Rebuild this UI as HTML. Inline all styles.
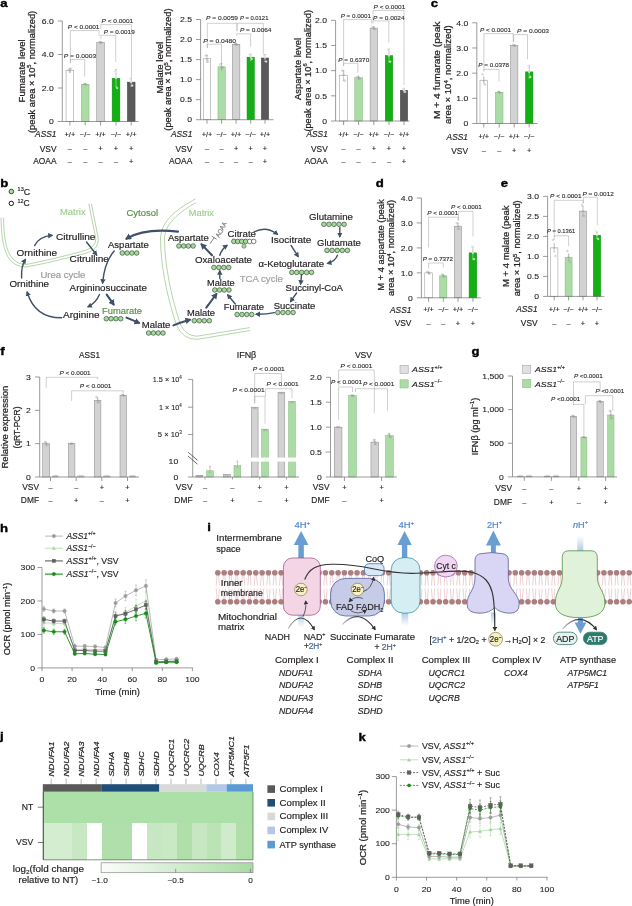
<!DOCTYPE html>
<html><head><meta charset="utf-8"><title>Figure</title>
<style>html,body{margin:0;padding:0;background:#fff;} svg{display:block;}</style>
</head><body>
<svg width="632" height="906" viewBox="0 0 632 906" font-family="'Liberation Sans', 'DejaVu Sans', sans-serif" fill="#231f20">
<rect width="632" height="906" fill="#fff"/>
<text x="0.3" y="6.7" font-size="10.8" fill="#000" font-weight="bold" textLength="7.33" lengthAdjust="spacingAndGlyphs" stroke="#000" stroke-width="0.35">a</text>
<line x1="62.3" y1="21.0" x2="62.3" y2="121.5" stroke="#707070" stroke-width="0.7" />
<line x1="57.7" y1="121.5" x2="62.3" y2="121.5" stroke="#707070" stroke-width="0.7" />
<text x="53.7" y="124.2" font-size="7.5" text-anchor="end" fill="#222" stroke="#222" stroke-width="0.083" textLength="4.8" lengthAdjust="spacingAndGlyphs">0</text>
<line x1="57.7" y1="88.0" x2="62.3" y2="88.0" stroke="#707070" stroke-width="0.7" />
<text x="53.7" y="90.7" font-size="7.5" text-anchor="end" fill="#222" stroke="#222" stroke-width="0.083" textLength="11.99" lengthAdjust="spacingAndGlyphs">2.0</text>
<line x1="57.7" y1="54.5" x2="62.3" y2="54.5" stroke="#707070" stroke-width="0.7" />
<text x="53.7" y="57.2" font-size="7.5" text-anchor="end" fill="#222" stroke="#222" stroke-width="0.083" textLength="11.99" lengthAdjust="spacingAndGlyphs">4.0</text>
<line x1="57.7" y1="21.0" x2="62.3" y2="21.0" stroke="#707070" stroke-width="0.7" />
<text x="53.7" y="23.7" font-size="7.5" text-anchor="end" fill="#222" stroke="#222" stroke-width="0.083" textLength="11.99" lengthAdjust="spacingAndGlyphs">6.0</text>
<rect x="66.05" y="70.41" width="7.7" height="51.09" fill="#ffffff" stroke="#8f8f8f" stroke-width="0.5" />
<line x1="69.9" y1="70.41" x2="69.9" y2="68.4" stroke="#888" stroke-width="0.5" />
<line x1="69.1" y1="68.4" x2="70.7" y2="68.4" stroke="#888" stroke-width="0.5" />
<line x1="69.9" y1="70.41" x2="69.9" y2="72.42" stroke="#999" stroke-width="0.5" />
<line x1="69.1" y1="72.42" x2="70.7" y2="72.42" stroke="#999" stroke-width="0.5" />
<circle cx="68.7" cy="69.57" r="0.85" fill="none" stroke="#999" stroke-width="0.4" />
<circle cx="69.9" cy="71.25" r="0.85" fill="none" stroke="#999" stroke-width="0.4" />
<circle cx="71.1" cy="68.74" r="0.85" fill="none" stroke="#999" stroke-width="0.4" />
<rect x="81.35" y="84.31" width="7.7" height="37.19" fill="#acdca6" stroke="#7fb878" stroke-width="0.5" />
<line x1="85.2" y1="84.31" x2="85.2" y2="83.81" stroke="#888" stroke-width="0.5" />
<line x1="84.4" y1="83.81" x2="86.0" y2="83.81" stroke="#888" stroke-width="0.5" />
<line x1="85.2" y1="84.31" x2="85.2" y2="84.82" stroke="#999" stroke-width="0.5" />
<line x1="84.4" y1="84.82" x2="86.0" y2="84.82" stroke="#999" stroke-width="0.5" />
<circle cx="84.0" cy="84.31" r="0.85" fill="none" stroke="#999" stroke-width="0.4" />
<circle cx="85.2" cy="83.98" r="0.85" fill="none" stroke="#999" stroke-width="0.4" />
<circle cx="86.4" cy="84.65" r="0.85" fill="none" stroke="#999" stroke-width="0.4" />
<rect x="96.75" y="42.44" width="7.7" height="79.06" fill="#d2d2d2" stroke="#888" stroke-width="0.5" />
<line x1="100.6" y1="42.44" x2="100.6" y2="41.77" stroke="#888" stroke-width="0.5" />
<line x1="99.8" y1="41.77" x2="101.4" y2="41.77" stroke="#888" stroke-width="0.5" />
<line x1="100.6" y1="42.44" x2="100.6" y2="43.11" stroke="#999" stroke-width="0.5" />
<line x1="99.8" y1="43.11" x2="101.4" y2="43.11" stroke="#999" stroke-width="0.5" />
<circle cx="99.4" cy="42.1" r="0.85" fill="none" stroke="#999" stroke-width="0.4" />
<circle cx="100.6" cy="42.77" r="0.85" fill="none" stroke="#999" stroke-width="0.4" />
<circle cx="101.8" cy="42.27" r="0.85" fill="none" stroke="#999" stroke-width="0.4" />
<rect x="112.15" y="78.28" width="7.7" height="43.22" fill="#12b012" stroke="#0c8a0c" stroke-width="0.5" />
<line x1="116.0" y1="78.28" x2="116.0" y2="69.57" stroke="#888" stroke-width="0.5" />
<line x1="115.2" y1="69.57" x2="116.8" y2="69.57" stroke="#888" stroke-width="0.5" />
<line x1="116.0" y1="78.28" x2="116.0" y2="87.0" stroke="#e8e8e8" stroke-width="0.5" />
<line x1="115.2" y1="87.0" x2="116.8" y2="87.0" stroke="#e8e8e8" stroke-width="0.5" />
<circle cx="114.8" cy="71.25" r="0.85" fill="#ddd" stroke="#eee" stroke-width="0.4" />
<circle cx="116.0" cy="77.95" r="0.85" fill="#ddd" stroke="#eee" stroke-width="0.4" />
<circle cx="117.2" cy="88.0" r="0.85" fill="#ddd" stroke="#eee" stroke-width="0.4" />
<rect x="127.35" y="82.14" width="7.7" height="39.36" fill="#5a5a5a" stroke="#444" stroke-width="0.5" />
<line x1="131.2" y1="82.14" x2="131.2" y2="77.95" stroke="#888" stroke-width="0.5" />
<line x1="130.4" y1="77.95" x2="132.0" y2="77.95" stroke="#888" stroke-width="0.5" />
<line x1="131.2" y1="82.14" x2="131.2" y2="86.32" stroke="#e8e8e8" stroke-width="0.5" />
<line x1="130.4" y1="86.32" x2="132.0" y2="86.32" stroke="#e8e8e8" stroke-width="0.5" />
<circle cx="130.0" cy="78.79" r="0.85" fill="#ddd" stroke="#eee" stroke-width="0.4" />
<circle cx="131.2" cy="82.14" r="0.85" fill="#ddd" stroke="#eee" stroke-width="0.4" />
<circle cx="132.4" cy="85.49" r="0.85" fill="#ddd" stroke="#eee" stroke-width="0.4" />
<line x1="62.3" y1="121.5" x2="138.5" y2="121.5" stroke="#707070" stroke-width="0.7" />
<line x1="69.9" y1="121.5" x2="69.9" y2="125.5" stroke="#707070" stroke-width="0.7" />
<line x1="85.2" y1="121.5" x2="85.2" y2="125.5" stroke="#707070" stroke-width="0.7" />
<line x1="100.6" y1="121.5" x2="100.6" y2="125.5" stroke="#707070" stroke-width="0.7" />
<line x1="116.0" y1="121.5" x2="116.0" y2="125.5" stroke="#707070" stroke-width="0.7" />
<line x1="131.2" y1="121.5" x2="131.2" y2="125.5" stroke="#707070" stroke-width="0.7" />
<text x="25.5" y="70.9" font-size="8.4" text-anchor="middle" stroke="#231f20" stroke-width="0.235" textLength="63" lengthAdjust="spacingAndGlyphs" transform="rotate(-90 25.5 70.9)">Fumarate level</text>
<text x="35.0" y="71.9" font-size="8.4" text-anchor="middle" stroke="#231f20" stroke-width="0.235" textLength="122.2" lengthAdjust="spacingAndGlyphs" transform="rotate(-90 35.0 71.9)"><tspan>(peak area × 10</tspan><tspan dy="-3.53" font-size="5.21">5</tspan><tspan dy="3.53">, normalized)</tspan></text>
<path d="M70.4,62.5 V59.4 H84.7 V76.5" fill="none" stroke="#a0a0a0" stroke-width="0.5" />
<text x="63.8" y="57.5" font-size="6.1" fill="#2e2e2e" stroke="#2e2e2e" stroke-width="0.122" textLength="32.3" lengthAdjust="spacingAndGlyphs"><tspan font-style="italic">P</tspan><tspan> = 0.0003</tspan></text>
<path d="M70.4,63.2 V30.6 H99.0 V36.0" fill="none" stroke="#a0a0a0" stroke-width="0.5" />
<text x="67.8" y="28.7" font-size="6.1" fill="#2e2e2e" stroke="#2e2e2e" stroke-width="0.122" textLength="31.7" lengthAdjust="spacingAndGlyphs"><tspan font-style="italic">P</tspan><tspan> &lt; 0.0001</tspan></text>
<path d="M100.8,29.0 V24.6 H131.5 V77.0" fill="none" stroke="#a0a0a0" stroke-width="0.5" />
<text x="101.5" y="22.7" font-size="6.1" fill="#2e2e2e" stroke="#2e2e2e" stroke-width="0.122" textLength="31.7" lengthAdjust="spacingAndGlyphs"><tspan font-style="italic">P</tspan><tspan> &lt; 0.0001</tspan></text>
<path d="M100.8,39.0 V35.3 H115.7 V61.9" fill="none" stroke="#a0a0a0" stroke-width="0.5" />
<text x="103.7" y="33.8" font-size="6.1" fill="#2e2e2e" stroke="#2e2e2e" stroke-width="0.122" textLength="31.0" lengthAdjust="spacingAndGlyphs"><tspan font-style="italic">P</tspan><tspan> = 0.0019</tspan></text>
<text x="56.5" y="136.95" font-size="8.2" text-anchor="end" stroke="#231f20" stroke-width="0.164" font-style="italic" textLength="21.39" lengthAdjust="spacingAndGlyphs">ASS1</text>
<text x="69.9" y="136.74" font-size="7.6" text-anchor="middle" stroke="#231f20" stroke-width="0.152" textLength="10.66" lengthAdjust="spacingAndGlyphs">+/+</text>
<text x="85.2" y="136.74" font-size="7.6" text-anchor="middle" stroke="#231f20" stroke-width="0.152" textLength="10.66" lengthAdjust="spacingAndGlyphs">−/−</text>
<text x="100.6" y="136.74" font-size="7.6" text-anchor="middle" stroke="#231f20" stroke-width="0.152" textLength="10.66" lengthAdjust="spacingAndGlyphs">+/+</text>
<text x="116.0" y="136.74" font-size="7.6" text-anchor="middle" stroke="#231f20" stroke-width="0.152" textLength="10.66" lengthAdjust="spacingAndGlyphs">−/−</text>
<text x="131.2" y="136.74" font-size="7.6" text-anchor="middle" stroke="#231f20" stroke-width="0.152" textLength="10.66" lengthAdjust="spacingAndGlyphs">+/+</text>
<text x="56.5" y="151.55" font-size="8.2" text-anchor="end" stroke="#231f20" stroke-width="0.164" textLength="16.74" lengthAdjust="spacingAndGlyphs">VSV</text>
<text x="69.9" y="151.34" font-size="7.6" text-anchor="middle" stroke="#231f20" stroke-width="0.152" textLength="4.1" lengthAdjust="spacingAndGlyphs">–</text>
<text x="85.2" y="151.34" font-size="7.6" text-anchor="middle" stroke="#231f20" stroke-width="0.152" textLength="4.1" lengthAdjust="spacingAndGlyphs">–</text>
<text x="100.6" y="151.34" font-size="7.6" text-anchor="middle" stroke="#231f20" stroke-width="0.152" textLength="4.31" lengthAdjust="spacingAndGlyphs">+</text>
<text x="116.0" y="151.34" font-size="7.6" text-anchor="middle" stroke="#231f20" stroke-width="0.152" textLength="4.31" lengthAdjust="spacingAndGlyphs">+</text>
<text x="131.2" y="151.34" font-size="7.6" text-anchor="middle" stroke="#231f20" stroke-width="0.152" textLength="4.31" lengthAdjust="spacingAndGlyphs">+</text>
<text x="56.5" y="164.25" font-size="8.2" text-anchor="end" stroke="#231f20" stroke-width="0.164" textLength="23.24" lengthAdjust="spacingAndGlyphs">AOAA</text>
<text x="69.9" y="164.04" font-size="7.6" text-anchor="middle" stroke="#231f20" stroke-width="0.152" textLength="4.1" lengthAdjust="spacingAndGlyphs">–</text>
<text x="85.2" y="164.04" font-size="7.6" text-anchor="middle" stroke="#231f20" stroke-width="0.152" textLength="4.1" lengthAdjust="spacingAndGlyphs">–</text>
<text x="100.6" y="164.04" font-size="7.6" text-anchor="middle" stroke="#231f20" stroke-width="0.152" textLength="4.1" lengthAdjust="spacingAndGlyphs">–</text>
<text x="116.0" y="164.04" font-size="7.6" text-anchor="middle" stroke="#231f20" stroke-width="0.152" textLength="4.1" lengthAdjust="spacingAndGlyphs">–</text>
<text x="131.2" y="164.04" font-size="7.6" text-anchor="middle" stroke="#231f20" stroke-width="0.152" textLength="4.31" lengthAdjust="spacingAndGlyphs">+</text>
<line x1="200.6" y1="19.5" x2="200.6" y2="119.7" stroke="#707070" stroke-width="0.7" />
<line x1="196.0" y1="119.7" x2="200.6" y2="119.7" stroke="#707070" stroke-width="0.7" />
<text x="192.0" y="122.4" font-size="7.5" text-anchor="end" fill="#222" stroke="#222" stroke-width="0.083" textLength="4.8" lengthAdjust="spacingAndGlyphs">0</text>
<line x1="196.0" y1="99.66" x2="200.6" y2="99.66" stroke="#707070" stroke-width="0.7" />
<text x="192.0" y="102.36" font-size="7.5" text-anchor="end" fill="#222" stroke="#222" stroke-width="0.083" textLength="11.99" lengthAdjust="spacingAndGlyphs">0.5</text>
<line x1="196.0" y1="79.62" x2="200.6" y2="79.62" stroke="#707070" stroke-width="0.7" />
<text x="192.0" y="82.32" font-size="7.5" text-anchor="end" fill="#222" stroke="#222" stroke-width="0.083" textLength="11.99" lengthAdjust="spacingAndGlyphs">1.0</text>
<line x1="196.0" y1="59.58" x2="200.6" y2="59.58" stroke="#707070" stroke-width="0.7" />
<text x="192.0" y="62.28" font-size="7.5" text-anchor="end" fill="#222" stroke="#222" stroke-width="0.083" textLength="11.99" lengthAdjust="spacingAndGlyphs">1.5</text>
<line x1="196.0" y1="39.54" x2="200.6" y2="39.54" stroke="#707070" stroke-width="0.7" />
<text x="192.0" y="42.24" font-size="7.5" text-anchor="end" fill="#222" stroke="#222" stroke-width="0.083" textLength="11.99" lengthAdjust="spacingAndGlyphs">2.0</text>
<line x1="196.0" y1="19.5" x2="200.6" y2="19.5" stroke="#707070" stroke-width="0.7" />
<text x="192.0" y="22.2" font-size="7.5" text-anchor="end" fill="#222" stroke="#222" stroke-width="0.083" textLength="11.99" lengthAdjust="spacingAndGlyphs">2.5</text>
<rect x="203.25" y="58.78" width="7.5" height="60.92" fill="#ffffff" stroke="#8f8f8f" stroke-width="0.5" />
<line x1="207.0" y1="58.78" x2="207.0" y2="55.17" stroke="#888" stroke-width="0.5" />
<line x1="206.2" y1="55.17" x2="207.8" y2="55.17" stroke="#888" stroke-width="0.5" />
<line x1="207.0" y1="58.78" x2="207.0" y2="62.39" stroke="#999" stroke-width="0.5" />
<line x1="206.2" y1="62.39" x2="207.8" y2="62.39" stroke="#999" stroke-width="0.5" />
<circle cx="205.8" cy="55.57" r="0.85" fill="none" stroke="#999" stroke-width="0.4" />
<circle cx="207.0" cy="59.58" r="0.85" fill="none" stroke="#999" stroke-width="0.4" />
<circle cx="208.2" cy="61.58" r="0.85" fill="none" stroke="#999" stroke-width="0.4" />
<rect x="217.95" y="66.79" width="7.3" height="52.91" fill="#acdca6" stroke="#7fb878" stroke-width="0.5" />
<line x1="221.6" y1="66.79" x2="221.6" y2="63.59" stroke="#888" stroke-width="0.5" />
<line x1="220.8" y1="63.59" x2="222.4" y2="63.59" stroke="#888" stroke-width="0.5" />
<line x1="221.6" y1="66.79" x2="221.6" y2="70.0" stroke="#999" stroke-width="0.5" />
<line x1="220.8" y1="70.0" x2="222.4" y2="70.0" stroke="#999" stroke-width="0.5" />
<circle cx="220.4" cy="64.39" r="0.85" fill="none" stroke="#999" stroke-width="0.4" />
<circle cx="221.6" cy="67.6" r="0.85" fill="none" stroke="#999" stroke-width="0.4" />
<circle cx="222.8" cy="67.6" r="0.85" fill="none" stroke="#999" stroke-width="0.4" />
<rect x="232.35" y="44.35" width="7.5" height="75.35" fill="#d2d2d2" stroke="#888" stroke-width="0.5" />
<line x1="236.1" y1="44.35" x2="236.1" y2="43.55" stroke="#888" stroke-width="0.5" />
<line x1="235.3" y1="43.55" x2="236.9" y2="43.55" stroke="#888" stroke-width="0.5" />
<line x1="236.1" y1="44.35" x2="236.1" y2="45.15" stroke="#999" stroke-width="0.5" />
<line x1="235.3" y1="45.15" x2="236.9" y2="45.15" stroke="#999" stroke-width="0.5" />
<circle cx="234.9" cy="43.95" r="0.85" fill="none" stroke="#999" stroke-width="0.4" />
<circle cx="236.1" cy="44.35" r="0.85" fill="none" stroke="#999" stroke-width="0.4" />
<circle cx="237.3" cy="44.75" r="0.85" fill="none" stroke="#999" stroke-width="0.4" />
<rect x="247.05" y="57.18" width="7.3" height="62.52" fill="#12b012" stroke="#0c8a0c" stroke-width="0.5" />
<line x1="250.7" y1="57.18" x2="250.7" y2="53.97" stroke="#888" stroke-width="0.5" />
<line x1="249.9" y1="53.97" x2="251.5" y2="53.97" stroke="#888" stroke-width="0.5" />
<line x1="250.7" y1="57.18" x2="250.7" y2="60.38" stroke="#e8e8e8" stroke-width="0.5" />
<line x1="249.9" y1="60.38" x2="251.5" y2="60.38" stroke="#e8e8e8" stroke-width="0.5" />
<circle cx="249.5" cy="54.77" r="0.85" fill="#ddd" stroke="#eee" stroke-width="0.4" />
<circle cx="250.7" cy="56.77" r="0.85" fill="#ddd" stroke="#eee" stroke-width="0.4" />
<circle cx="251.9" cy="58.78" r="0.85" fill="#ddd" stroke="#eee" stroke-width="0.4" />
<rect x="261.35" y="57.98" width="7.3" height="61.72" fill="#5a5a5a" stroke="#444" stroke-width="0.5" />
<line x1="265.0" y1="57.98" x2="265.0" y2="54.37" stroke="#888" stroke-width="0.5" />
<line x1="264.2" y1="54.37" x2="265.8" y2="54.37" stroke="#888" stroke-width="0.5" />
<line x1="265.0" y1="57.98" x2="265.0" y2="61.58" stroke="#e8e8e8" stroke-width="0.5" />
<line x1="264.2" y1="61.58" x2="265.8" y2="61.58" stroke="#e8e8e8" stroke-width="0.5" />
<circle cx="263.8" cy="55.57" r="0.85" fill="#ddd" stroke="#eee" stroke-width="0.4" />
<circle cx="265.0" cy="57.58" r="0.85" fill="#ddd" stroke="#eee" stroke-width="0.4" />
<circle cx="266.2" cy="61.58" r="0.85" fill="#ddd" stroke="#eee" stroke-width="0.4" />
<line x1="200.6" y1="119.7" x2="273.5" y2="119.7" stroke="#707070" stroke-width="0.7" />
<line x1="207.0" y1="119.7" x2="207.0" y2="123.7" stroke="#707070" stroke-width="0.7" />
<line x1="221.6" y1="119.7" x2="221.6" y2="123.7" stroke="#707070" stroke-width="0.7" />
<line x1="236.1" y1="119.7" x2="236.1" y2="123.7" stroke="#707070" stroke-width="0.7" />
<line x1="250.7" y1="119.7" x2="250.7" y2="123.7" stroke="#707070" stroke-width="0.7" />
<line x1="265.0" y1="119.7" x2="265.0" y2="123.7" stroke="#707070" stroke-width="0.7" />
<text x="162.7" y="67.6" font-size="8.4" text-anchor="middle" stroke="#231f20" stroke-width="0.235" textLength="51.8" lengthAdjust="spacingAndGlyphs" transform="rotate(-90 162.7 67.6)">Malate level</text>
<text x="171.5" y="69.6" font-size="8.4" text-anchor="middle" stroke="#231f20" stroke-width="0.235" textLength="122.2" lengthAdjust="spacingAndGlyphs" transform="rotate(-90 171.5 69.6)"><tspan>(peak area × 10</tspan><tspan dy="-3.53" font-size="5.21">5</tspan><tspan dy="3.53">, normalized)</tspan></text>
<path d="M207.3,48.0 V23.3 H237.0 V30.9" fill="none" stroke="#a0a0a0" stroke-width="0.5" />
<text x="206.0" y="19.5" font-size="6.1" fill="#2e2e2e" stroke="#2e2e2e" stroke-width="0.122" textLength="32" lengthAdjust="spacingAndGlyphs"><tspan font-style="italic">P</tspan><tspan> = 0.0059</tspan></text>
<path d="M237.0,30.9 V23.3 H263.3 V54.3" fill="none" stroke="#a0a0a0" stroke-width="0.5" />
<text x="239.9" y="19.5" font-size="6.1" fill="#2e2e2e" stroke="#2e2e2e" stroke-width="0.122" textLength="28.5" lengthAdjust="spacingAndGlyphs"><tspan font-style="italic">P</tspan><tspan> = 0.0121</tspan></text>
<path d="M236.7,36.0 V33.8 H250.6 V46.7" fill="none" stroke="#a0a0a0" stroke-width="0.5" />
<text x="239.9" y="32.2" font-size="6.1" fill="#2e2e2e" stroke="#2e2e2e" stroke-width="0.122" textLength="31.6" lengthAdjust="spacingAndGlyphs"><tspan font-style="italic">P</tspan><tspan> = 0.0064</tspan></text>
<path d="M207.3,48.0 V44.2 H221.5 V63.2" fill="none" stroke="#a0a0a0" stroke-width="0.5" />
<text x="203.2" y="42.7" font-size="6.1" fill="#2e2e2e" stroke="#2e2e2e" stroke-width="0.122" textLength="32.8" lengthAdjust="spacingAndGlyphs"><tspan font-style="italic">P</tspan><tspan> = 0.0480</tspan></text>
<text x="192.3" y="136.95" font-size="8.2" text-anchor="end" stroke="#231f20" stroke-width="0.164" font-style="italic" textLength="21.39" lengthAdjust="spacingAndGlyphs">ASS1</text>
<text x="207.0" y="136.74" font-size="7.6" text-anchor="middle" stroke="#231f20" stroke-width="0.152" textLength="10.66" lengthAdjust="spacingAndGlyphs">+/+</text>
<text x="221.6" y="136.74" font-size="7.6" text-anchor="middle" stroke="#231f20" stroke-width="0.152" textLength="10.66" lengthAdjust="spacingAndGlyphs">−/−</text>
<text x="236.1" y="136.74" font-size="7.6" text-anchor="middle" stroke="#231f20" stroke-width="0.152" textLength="10.66" lengthAdjust="spacingAndGlyphs">+/+</text>
<text x="250.7" y="136.74" font-size="7.6" text-anchor="middle" stroke="#231f20" stroke-width="0.152" textLength="10.66" lengthAdjust="spacingAndGlyphs">−/−</text>
<text x="265.0" y="136.74" font-size="7.6" text-anchor="middle" stroke="#231f20" stroke-width="0.152" textLength="10.66" lengthAdjust="spacingAndGlyphs">+/+</text>
<text x="192.3" y="151.55" font-size="8.2" text-anchor="end" stroke="#231f20" stroke-width="0.164" textLength="16.74" lengthAdjust="spacingAndGlyphs">VSV</text>
<text x="207.0" y="151.34" font-size="7.6" text-anchor="middle" stroke="#231f20" stroke-width="0.152" textLength="4.1" lengthAdjust="spacingAndGlyphs">–</text>
<text x="221.6" y="151.34" font-size="7.6" text-anchor="middle" stroke="#231f20" stroke-width="0.152" textLength="4.1" lengthAdjust="spacingAndGlyphs">–</text>
<text x="236.1" y="151.34" font-size="7.6" text-anchor="middle" stroke="#231f20" stroke-width="0.152" textLength="4.31" lengthAdjust="spacingAndGlyphs">+</text>
<text x="250.7" y="151.34" font-size="7.6" text-anchor="middle" stroke="#231f20" stroke-width="0.152" textLength="4.31" lengthAdjust="spacingAndGlyphs">+</text>
<text x="265.0" y="151.34" font-size="7.6" text-anchor="middle" stroke="#231f20" stroke-width="0.152" textLength="4.31" lengthAdjust="spacingAndGlyphs">+</text>
<text x="192.3" y="164.25" font-size="8.2" text-anchor="end" stroke="#231f20" stroke-width="0.164" textLength="23.24" lengthAdjust="spacingAndGlyphs">AOAA</text>
<text x="207.0" y="164.04" font-size="7.6" text-anchor="middle" stroke="#231f20" stroke-width="0.152" textLength="4.1" lengthAdjust="spacingAndGlyphs">–</text>
<text x="221.6" y="164.04" font-size="7.6" text-anchor="middle" stroke="#231f20" stroke-width="0.152" textLength="4.1" lengthAdjust="spacingAndGlyphs">–</text>
<text x="236.1" y="164.04" font-size="7.6" text-anchor="middle" stroke="#231f20" stroke-width="0.152" textLength="4.1" lengthAdjust="spacingAndGlyphs">–</text>
<text x="250.7" y="164.04" font-size="7.6" text-anchor="middle" stroke="#231f20" stroke-width="0.152" textLength="4.1" lengthAdjust="spacingAndGlyphs">–</text>
<text x="265.0" y="164.04" font-size="7.6" text-anchor="middle" stroke="#231f20" stroke-width="0.152" textLength="4.31" lengthAdjust="spacingAndGlyphs">+</text>
<line x1="335.6" y1="20.3" x2="335.6" y2="121.0" stroke="#707070" stroke-width="0.7" />
<line x1="331.0" y1="121.0" x2="335.6" y2="121.0" stroke="#707070" stroke-width="0.7" />
<text x="327.0" y="123.7" font-size="7.5" text-anchor="end" fill="#222" stroke="#222" stroke-width="0.083" textLength="4.8" lengthAdjust="spacingAndGlyphs">0</text>
<line x1="331.0" y1="95.83" x2="335.6" y2="95.83" stroke="#707070" stroke-width="0.7" />
<text x="327.0" y="98.53" font-size="7.5" text-anchor="end" fill="#222" stroke="#222" stroke-width="0.083" textLength="11.99" lengthAdjust="spacingAndGlyphs">0.5</text>
<line x1="331.0" y1="70.65" x2="335.6" y2="70.65" stroke="#707070" stroke-width="0.7" />
<text x="327.0" y="73.35" font-size="7.5" text-anchor="end" fill="#222" stroke="#222" stroke-width="0.083" textLength="11.99" lengthAdjust="spacingAndGlyphs">1.0</text>
<line x1="331.0" y1="45.47" x2="335.6" y2="45.47" stroke="#707070" stroke-width="0.7" />
<text x="327.0" y="48.17" font-size="7.5" text-anchor="end" fill="#222" stroke="#222" stroke-width="0.083" textLength="11.99" lengthAdjust="spacingAndGlyphs">1.5</text>
<line x1="331.0" y1="20.3" x2="335.6" y2="20.3" stroke="#707070" stroke-width="0.7" />
<text x="327.0" y="23.0" font-size="7.5" text-anchor="end" fill="#222" stroke="#222" stroke-width="0.083" textLength="11.99" lengthAdjust="spacingAndGlyphs">2.0</text>
<rect x="339.6" y="75.69" width="8.0" height="45.31" fill="#ffffff" stroke="#8f8f8f" stroke-width="0.5" />
<line x1="343.6" y1="75.69" x2="343.6" y2="70.65" stroke="#888" stroke-width="0.5" />
<line x1="342.8" y1="70.65" x2="344.4" y2="70.65" stroke="#888" stroke-width="0.5" />
<line x1="343.6" y1="75.69" x2="343.6" y2="80.72" stroke="#999" stroke-width="0.5" />
<line x1="342.8" y1="80.72" x2="344.4" y2="80.72" stroke="#999" stroke-width="0.5" />
<circle cx="342.4" cy="70.65" r="0.85" fill="none" stroke="#999" stroke-width="0.4" />
<circle cx="343.6" cy="74.68" r="0.85" fill="none" stroke="#999" stroke-width="0.4" />
<circle cx="344.8" cy="80.72" r="0.85" fill="none" stroke="#999" stroke-width="0.4" />
<rect x="354.8" y="77.7" width="7.6" height="43.3" fill="#acdca6" stroke="#7fb878" stroke-width="0.5" />
<line x1="358.6" y1="77.7" x2="358.6" y2="76.19" stroke="#888" stroke-width="0.5" />
<line x1="357.8" y1="76.19" x2="359.4" y2="76.19" stroke="#888" stroke-width="0.5" />
<line x1="358.6" y1="77.7" x2="358.6" y2="79.21" stroke="#999" stroke-width="0.5" />
<line x1="357.8" y1="79.21" x2="359.4" y2="79.21" stroke="#999" stroke-width="0.5" />
<circle cx="357.4" cy="76.69" r="0.85" fill="none" stroke="#999" stroke-width="0.4" />
<circle cx="358.6" cy="77.7" r="0.85" fill="none" stroke="#999" stroke-width="0.4" />
<circle cx="359.8" cy="78.71" r="0.85" fill="none" stroke="#999" stroke-width="0.4" />
<rect x="370.1" y="28.1" width="7.4" height="92.9" fill="#d2d2d2" stroke="#888" stroke-width="0.5" />
<line x1="373.8" y1="28.1" x2="373.8" y2="26.59" stroke="#888" stroke-width="0.5" />
<line x1="373.0" y1="26.59" x2="374.6" y2="26.59" stroke="#888" stroke-width="0.5" />
<line x1="373.8" y1="28.1" x2="373.8" y2="29.61" stroke="#999" stroke-width="0.5" />
<line x1="373.0" y1="29.61" x2="374.6" y2="29.61" stroke="#999" stroke-width="0.5" />
<circle cx="372.6" cy="27.35" r="0.85" fill="none" stroke="#999" stroke-width="0.4" />
<circle cx="373.8" cy="28.36" r="0.85" fill="none" stroke="#999" stroke-width="0.4" />
<circle cx="375.0" cy="28.86" r="0.85" fill="none" stroke="#999" stroke-width="0.4" />
<rect x="385.3" y="55.55" width="7.4" height="65.45" fill="#12b012" stroke="#0c8a0c" stroke-width="0.5" />
<line x1="389.0" y1="55.55" x2="389.0" y2="49.0" stroke="#888" stroke-width="0.5" />
<line x1="388.2" y1="49.0" x2="389.8" y2="49.0" stroke="#888" stroke-width="0.5" />
<line x1="389.0" y1="55.55" x2="389.0" y2="62.09" stroke="#e8e8e8" stroke-width="0.5" />
<line x1="388.2" y1="62.09" x2="389.8" y2="62.09" stroke="#e8e8e8" stroke-width="0.5" />
<circle cx="387.8" cy="49.5" r="0.85" fill="#ddd" stroke="#eee" stroke-width="0.4" />
<circle cx="389.0" cy="55.55" r="0.85" fill="#ddd" stroke="#eee" stroke-width="0.4" />
<circle cx="390.2" cy="61.59" r="0.85" fill="#ddd" stroke="#eee" stroke-width="0.4" />
<rect x="400.3" y="90.29" width="7.4" height="30.71" fill="#5a5a5a" stroke="#444" stroke-width="0.5" />
<line x1="404.0" y1="90.29" x2="404.0" y2="88.27" stroke="#888" stroke-width="0.5" />
<line x1="403.2" y1="88.27" x2="404.8" y2="88.27" stroke="#888" stroke-width="0.5" />
<line x1="404.0" y1="90.29" x2="404.0" y2="92.3" stroke="#e8e8e8" stroke-width="0.5" />
<line x1="403.2" y1="92.3" x2="404.8" y2="92.3" stroke="#e8e8e8" stroke-width="0.5" />
<circle cx="402.8" cy="88.78" r="0.85" fill="#ddd" stroke="#eee" stroke-width="0.4" />
<circle cx="404.0" cy="90.29" r="0.85" fill="#ddd" stroke="#eee" stroke-width="0.4" />
<circle cx="405.2" cy="91.8" r="0.85" fill="#ddd" stroke="#eee" stroke-width="0.4" />
<line x1="335.6" y1="121.0" x2="409.5" y2="121.0" stroke="#707070" stroke-width="0.7" />
<line x1="343.6" y1="121.0" x2="343.6" y2="125.0" stroke="#707070" stroke-width="0.7" />
<line x1="358.6" y1="121.0" x2="358.6" y2="125.0" stroke="#707070" stroke-width="0.7" />
<line x1="373.8" y1="121.0" x2="373.8" y2="125.0" stroke="#707070" stroke-width="0.7" />
<line x1="389.0" y1="121.0" x2="389.0" y2="125.0" stroke="#707070" stroke-width="0.7" />
<line x1="404.0" y1="121.0" x2="404.0" y2="125.0" stroke="#707070" stroke-width="0.7" />
<text x="301.0" y="69.0" font-size="8.4" text-anchor="middle" stroke="#231f20" stroke-width="0.235" textLength="62" lengthAdjust="spacingAndGlyphs" transform="rotate(-90 301.0 69.0)">Aspartate level</text>
<text x="311.0" y="70.8" font-size="8.4" text-anchor="middle" stroke="#231f20" stroke-width="0.235" textLength="121.6" lengthAdjust="spacingAndGlyphs" transform="rotate(-90 311.0 70.8)"><tspan>(peak area × 10</tspan><tspan dy="-3.53" font-size="5.21">6</tspan><tspan dy="3.53">, normalized)</tspan></text>
<path d="M343.6,65.8 V19.6 H371.7 V23.4" fill="none" stroke="#a0a0a0" stroke-width="0.5" />
<text x="340.7" y="18.4" font-size="6.1" fill="#2e2e2e" stroke="#2e2e2e" stroke-width="0.122" textLength="30.3" lengthAdjust="spacingAndGlyphs"><tspan font-style="italic">P</tspan><tspan> = 0.0001</tspan></text>
<path d="M373.0,20.3 V10.4 H404.0 V85.0" fill="none" stroke="#a0a0a0" stroke-width="0.5" />
<text x="373.6" y="8.6" font-size="6.1" fill="#2e2e2e" stroke="#2e2e2e" stroke-width="0.122" textLength="31.7" lengthAdjust="spacingAndGlyphs"><tspan font-style="italic">P</tspan><tspan> &lt; 0.0001</tspan></text>
<path d="M373.0,23.4 V20.9 H388.8 V42.4" fill="none" stroke="#a0a0a0" stroke-width="0.5" />
<text x="373.0" y="19.6" font-size="6.1" fill="#2e2e2e" stroke="#2e2e2e" stroke-width="0.122" textLength="31.6" lengthAdjust="spacingAndGlyphs"><tspan font-style="italic">P</tspan><tspan> = 0.0024</tspan></text>
<path d="M343.6,65.8 V63.3 H357.8 V72.8" fill="none" stroke="#a0a0a0" stroke-width="0.5" />
<text x="338.2" y="62.0" font-size="6.1" fill="#2e2e2e" stroke="#2e2e2e" stroke-width="0.122" textLength="31.0" lengthAdjust="spacingAndGlyphs"><tspan font-style="italic">P</tspan><tspan> = 0.6370</tspan></text>
<text x="327.8" y="136.95" font-size="8.2" text-anchor="end" stroke="#231f20" stroke-width="0.164" font-style="italic" textLength="21.39" lengthAdjust="spacingAndGlyphs">ASS1</text>
<text x="343.6" y="136.74" font-size="7.6" text-anchor="middle" stroke="#231f20" stroke-width="0.152" textLength="10.66" lengthAdjust="spacingAndGlyphs">+/+</text>
<text x="358.6" y="136.74" font-size="7.6" text-anchor="middle" stroke="#231f20" stroke-width="0.152" textLength="10.66" lengthAdjust="spacingAndGlyphs">−/−</text>
<text x="373.8" y="136.74" font-size="7.6" text-anchor="middle" stroke="#231f20" stroke-width="0.152" textLength="10.66" lengthAdjust="spacingAndGlyphs">+/+</text>
<text x="389.0" y="136.74" font-size="7.6" text-anchor="middle" stroke="#231f20" stroke-width="0.152" textLength="10.66" lengthAdjust="spacingAndGlyphs">−/−</text>
<text x="404.0" y="136.74" font-size="7.6" text-anchor="middle" stroke="#231f20" stroke-width="0.152" textLength="10.66" lengthAdjust="spacingAndGlyphs">+/+</text>
<text x="327.8" y="151.55" font-size="8.2" text-anchor="end" stroke="#231f20" stroke-width="0.164" textLength="16.74" lengthAdjust="spacingAndGlyphs">VSV</text>
<text x="343.6" y="151.34" font-size="7.6" text-anchor="middle" stroke="#231f20" stroke-width="0.152" textLength="4.1" lengthAdjust="spacingAndGlyphs">–</text>
<text x="358.6" y="151.34" font-size="7.6" text-anchor="middle" stroke="#231f20" stroke-width="0.152" textLength="4.1" lengthAdjust="spacingAndGlyphs">–</text>
<text x="373.8" y="151.34" font-size="7.6" text-anchor="middle" stroke="#231f20" stroke-width="0.152" textLength="4.31" lengthAdjust="spacingAndGlyphs">+</text>
<text x="389.0" y="151.34" font-size="7.6" text-anchor="middle" stroke="#231f20" stroke-width="0.152" textLength="4.31" lengthAdjust="spacingAndGlyphs">+</text>
<text x="404.0" y="151.34" font-size="7.6" text-anchor="middle" stroke="#231f20" stroke-width="0.152" textLength="4.31" lengthAdjust="spacingAndGlyphs">+</text>
<text x="327.8" y="164.25" font-size="8.2" text-anchor="end" stroke="#231f20" stroke-width="0.164" textLength="23.24" lengthAdjust="spacingAndGlyphs">AOAA</text>
<text x="343.6" y="164.04" font-size="7.6" text-anchor="middle" stroke="#231f20" stroke-width="0.152" textLength="4.1" lengthAdjust="spacingAndGlyphs">–</text>
<text x="358.6" y="164.04" font-size="7.6" text-anchor="middle" stroke="#231f20" stroke-width="0.152" textLength="4.1" lengthAdjust="spacingAndGlyphs">–</text>
<text x="373.8" y="164.04" font-size="7.6" text-anchor="middle" stroke="#231f20" stroke-width="0.152" textLength="4.1" lengthAdjust="spacingAndGlyphs">–</text>
<text x="389.0" y="164.04" font-size="7.6" text-anchor="middle" stroke="#231f20" stroke-width="0.152" textLength="4.1" lengthAdjust="spacingAndGlyphs">–</text>
<text x="404.0" y="164.04" font-size="7.6" text-anchor="middle" stroke="#231f20" stroke-width="0.152" textLength="4.31" lengthAdjust="spacingAndGlyphs">+</text>
<text x="430.8" y="6.9" font-size="10.8" fill="#000" font-weight="bold" textLength="7.33" lengthAdjust="spacingAndGlyphs" stroke="#000" stroke-width="0.35">c</text>
<line x1="476.8" y1="22.8" x2="476.8" y2="123.5" stroke="#707070" stroke-width="0.7" />
<line x1="472.2" y1="123.5" x2="476.8" y2="123.5" stroke="#707070" stroke-width="0.7" />
<text x="468.2" y="126.2" font-size="7.5" text-anchor="end" fill="#222" stroke="#222" stroke-width="0.083" textLength="4.8" lengthAdjust="spacingAndGlyphs">0</text>
<line x1="472.2" y1="98.33" x2="476.8" y2="98.33" stroke="#707070" stroke-width="0.7" />
<text x="468.2" y="101.03" font-size="7.5" text-anchor="end" fill="#222" stroke="#222" stroke-width="0.083" textLength="11.99" lengthAdjust="spacingAndGlyphs">1.0</text>
<line x1="472.2" y1="73.15" x2="476.8" y2="73.15" stroke="#707070" stroke-width="0.7" />
<text x="468.2" y="75.85" font-size="7.5" text-anchor="end" fill="#222" stroke="#222" stroke-width="0.083" textLength="11.99" lengthAdjust="spacingAndGlyphs">2.0</text>
<line x1="472.2" y1="47.97" x2="476.8" y2="47.97" stroke="#707070" stroke-width="0.7" />
<text x="468.2" y="50.67" font-size="7.5" text-anchor="end" fill="#222" stroke="#222" stroke-width="0.083" textLength="11.99" lengthAdjust="spacingAndGlyphs">3.0</text>
<line x1="472.2" y1="22.8" x2="476.8" y2="22.8" stroke="#707070" stroke-width="0.7" />
<text x="468.2" y="25.5" font-size="7.5" text-anchor="end" fill="#222" stroke="#222" stroke-width="0.083" textLength="11.99" lengthAdjust="spacingAndGlyphs">4.0</text>
<rect x="480.0" y="80.2" width="7.6" height="43.3" fill="#ffffff" stroke="#8f8f8f" stroke-width="0.5" />
<line x1="483.8" y1="80.2" x2="483.8" y2="77.18" stroke="#888" stroke-width="0.5" />
<line x1="483.0" y1="77.18" x2="484.6" y2="77.18" stroke="#888" stroke-width="0.5" />
<line x1="483.8" y1="80.2" x2="483.8" y2="83.22" stroke="#999" stroke-width="0.5" />
<line x1="483.0" y1="83.22" x2="484.6" y2="83.22" stroke="#999" stroke-width="0.5" />
<circle cx="482.6" cy="74.41" r="0.85" fill="none" stroke="#999" stroke-width="0.4" />
<circle cx="483.8" cy="80.7" r="0.85" fill="none" stroke="#999" stroke-width="0.4" />
<circle cx="485.0" cy="84.48" r="0.85" fill="none" stroke="#999" stroke-width="0.4" />
<rect x="495.4" y="92.28" width="7.6" height="31.22" fill="#acdca6" stroke="#7fb878" stroke-width="0.5" />
<line x1="499.2" y1="92.28" x2="499.2" y2="91.53" stroke="#888" stroke-width="0.5" />
<line x1="498.4" y1="91.53" x2="500.0" y2="91.53" stroke="#888" stroke-width="0.5" />
<line x1="499.2" y1="92.28" x2="499.2" y2="93.04" stroke="#999" stroke-width="0.5" />
<line x1="498.4" y1="93.04" x2="500.0" y2="93.04" stroke="#999" stroke-width="0.5" />
<circle cx="498.0" cy="91.78" r="0.85" fill="none" stroke="#999" stroke-width="0.4" />
<circle cx="499.2" cy="92.28" r="0.85" fill="none" stroke="#999" stroke-width="0.4" />
<circle cx="500.4" cy="92.79" r="0.85" fill="none" stroke="#999" stroke-width="0.4" />
<rect x="510.5" y="45.46" width="7.4" height="78.04" fill="#d2d2d2" stroke="#888" stroke-width="0.5" />
<line x1="514.2" y1="45.46" x2="514.2" y2="44.95" stroke="#888" stroke-width="0.5" />
<line x1="513.4" y1="44.95" x2="515.0" y2="44.95" stroke="#888" stroke-width="0.5" />
<line x1="514.2" y1="45.46" x2="514.2" y2="45.96" stroke="#999" stroke-width="0.5" />
<line x1="513.4" y1="45.96" x2="515.0" y2="45.96" stroke="#999" stroke-width="0.5" />
<circle cx="513.0" cy="45.21" r="0.85" fill="none" stroke="#999" stroke-width="0.4" />
<circle cx="514.2" cy="45.46" r="0.85" fill="none" stroke="#999" stroke-width="0.4" />
<circle cx="515.4" cy="45.71" r="0.85" fill="none" stroke="#999" stroke-width="0.4" />
<rect x="525.5" y="71.89" width="7.4" height="51.61" fill="#12b012" stroke="#0c8a0c" stroke-width="0.5" />
<line x1="529.2" y1="71.89" x2="529.2" y2="65.6" stroke="#888" stroke-width="0.5" />
<line x1="528.4" y1="65.6" x2="530.0" y2="65.6" stroke="#888" stroke-width="0.5" />
<line x1="529.2" y1="71.89" x2="529.2" y2="78.19" stroke="#e8e8e8" stroke-width="0.5" />
<line x1="528.4" y1="78.19" x2="530.0" y2="78.19" stroke="#e8e8e8" stroke-width="0.5" />
<circle cx="528.0" cy="65.6" r="0.85" fill="#ddd" stroke="#eee" stroke-width="0.4" />
<circle cx="529.2" cy="71.89" r="0.85" fill="#ddd" stroke="#eee" stroke-width="0.4" />
<circle cx="530.4" cy="76.93" r="0.85" fill="#ddd" stroke="#eee" stroke-width="0.4" />
<line x1="476.8" y1="123.5" x2="537.6" y2="123.5" stroke="#707070" stroke-width="0.7" />
<line x1="483.8" y1="123.5" x2="483.8" y2="127.5" stroke="#707070" stroke-width="0.7" />
<line x1="499.2" y1="123.5" x2="499.2" y2="127.5" stroke="#707070" stroke-width="0.7" />
<line x1="514.2" y1="123.5" x2="514.2" y2="127.5" stroke="#707070" stroke-width="0.7" />
<line x1="529.2" y1="123.5" x2="529.2" y2="127.5" stroke="#707070" stroke-width="0.7" />
<text x="440.0" y="70.3" font-size="8.4" text-anchor="middle" stroke="#231f20" stroke-width="0.235" textLength="97.5" lengthAdjust="spacingAndGlyphs" transform="rotate(-90 440.0 70.3)">M + 4 fumarate (peak</text>
<text x="451.2" y="74.7" font-size="8.4" text-anchor="middle" stroke="#231f20" stroke-width="0.235" textLength="98.7" lengthAdjust="spacingAndGlyphs" transform="rotate(-90 451.2 74.7)"><tspan>area × 10</tspan><tspan dy="-3.53" font-size="5.21">4</tspan><tspan dy="3.53">, normalized)</tspan></text>
<path d="M483.9,70.0 V33.6 H513.2 V41.6" fill="none" stroke="#a0a0a0" stroke-width="0.5" />
<text x="480.0" y="31.7" font-size="6.1" fill="#2e2e2e" stroke="#2e2e2e" stroke-width="0.122" textLength="31.0" lengthAdjust="spacingAndGlyphs"><tspan font-style="italic">P</tspan><tspan> &lt; 0.0001</tspan></text>
<path d="M513.6,42.2 V34.6 H527.5 V59.3" fill="none" stroke="#a0a0a0" stroke-width="0.5" />
<text x="517.0" y="32.5" font-size="6.1" fill="#2e2e2e" stroke="#2e2e2e" stroke-width="0.122" textLength="32.0" lengthAdjust="spacingAndGlyphs"><tspan font-style="italic">P</tspan><tspan> = 0.0003</tspan></text>
<path d="M483.9,72.0 V69.4 H499.0 V81.5" fill="none" stroke="#a0a0a0" stroke-width="0.5" />
<text x="478.2" y="67.2" font-size="6.1" fill="#2e2e2e" stroke="#2e2e2e" stroke-width="0.122" textLength="30.8" lengthAdjust="spacingAndGlyphs"><tspan font-style="italic">P</tspan><tspan> = 0.0378</tspan></text>
<text x="468.0" y="139.65" font-size="8.2" text-anchor="end" stroke="#231f20" stroke-width="0.164" font-style="italic" textLength="21.39" lengthAdjust="spacingAndGlyphs">ASS1</text>
<text x="483.8" y="139.44" font-size="7.6" text-anchor="middle" stroke="#231f20" stroke-width="0.152" textLength="10.66" lengthAdjust="spacingAndGlyphs">+/+</text>
<text x="499.2" y="139.44" font-size="7.6" text-anchor="middle" stroke="#231f20" stroke-width="0.152" textLength="10.66" lengthAdjust="spacingAndGlyphs">−/−</text>
<text x="514.2" y="139.44" font-size="7.6" text-anchor="middle" stroke="#231f20" stroke-width="0.152" textLength="10.66" lengthAdjust="spacingAndGlyphs">+/+</text>
<text x="529.2" y="139.44" font-size="7.6" text-anchor="middle" stroke="#231f20" stroke-width="0.152" textLength="10.66" lengthAdjust="spacingAndGlyphs">−/−</text>
<text x="468.0" y="153.55" font-size="8.2" text-anchor="end" stroke="#231f20" stroke-width="0.164" textLength="16.74" lengthAdjust="spacingAndGlyphs">VSV</text>
<text x="483.8" y="153.34" font-size="7.6" text-anchor="middle" stroke="#231f20" stroke-width="0.152" textLength="4.1" lengthAdjust="spacingAndGlyphs">–</text>
<text x="499.2" y="153.34" font-size="7.6" text-anchor="middle" stroke="#231f20" stroke-width="0.152" textLength="4.1" lengthAdjust="spacingAndGlyphs">–</text>
<text x="514.2" y="153.34" font-size="7.6" text-anchor="middle" stroke="#231f20" stroke-width="0.152" textLength="4.31" lengthAdjust="spacingAndGlyphs">+</text>
<text x="529.2" y="153.34" font-size="7.6" text-anchor="middle" stroke="#231f20" stroke-width="0.152" textLength="4.31" lengthAdjust="spacingAndGlyphs">+</text>
<defs>
<marker id="ahS" markerUnits="userSpaceOnUse" markerWidth="7" markerHeight="7" refX="3.8" refY="2.7" orient="auto"><path d="M0,0 L5.0,2.7 L0,5.4 z" fill="#3f5069"/></marker>
<marker id="ahL" markerUnits="userSpaceOnUse" markerWidth="8" markerHeight="8" refX="4.4" refY="3.3" orient="auto"><path d="M0,0 L6.0,3.3 L0,6.6 z" fill="#3f5069"/></marker>
</defs>
<text x="0.3" y="186.8" font-size="10.8" fill="#000" font-weight="bold" textLength="8.05" lengthAdjust="spacingAndGlyphs" stroke="#000" stroke-width="0.35">b</text>
<circle cx="11.4" cy="191.5" r="2.3" fill="#a9d9a1" stroke="#222" stroke-width="0.8" />
<text x="17.6" y="194.6" font-size="9.0" stroke="#231f20" stroke-width="0.18" textLength="12.6" lengthAdjust="spacingAndGlyphs"><tspan dy="-3.78" font-size="5.58">13</tspan><tspan dy="3.78">C</tspan></text>
<circle cx="11.3" cy="203.4" r="2.2" fill="#fff" stroke="#111" stroke-width="1.0" />
<text x="17.6" y="206.4" font-size="9.0" stroke="#231f20" stroke-width="0.18" textLength="12.2" lengthAdjust="spacingAndGlyphs"><tspan dy="-3.78" font-size="5.58">12</tspan><tspan dy="3.78">C</tspan></text>
<path d="M1,217.6 C1.5,232 2,246 8,257 Q14,267 26,267 C48,263 72,257 88,252.5 Q98.6,249 98.3,238.5 L91.4,203.7" fill="none" stroke="#84b873" stroke-width="0.6" />
<path d="M3.5,217.6 C4,232 4.5,245 10,255 Q15.5,264.5 26,264.5 C47,260.5 71,254.5 86.5,250 Q96,246.5 95.8,238.5 L88.8,203.7" fill="none" stroke="#84b873" stroke-width="0.6" />
<path d="M195.4,199 C180,207.5 161.5,219 160.5,238 C160.3,262 166.5,296 176.5,325 Q182.5,339.5 197,339.4 L250,330.5" fill="none" stroke="#84b873" stroke-width="0.6" />
<path d="M195.6,202.8 C183,210 165.4,221.5 164.5,238 C164.4,262 170.5,295 180.3,324 Q185.8,336.2 197,336.2 L250,327.6" fill="none" stroke="#84b873" stroke-width="0.6" />
<text x="60" y="214.99" font-size="8.3" fill="#9fcf92" stroke="#9fcf92" stroke-width="0.166" textLength="25.6" lengthAdjust="spacingAndGlyphs">Matrix</text>
<text x="126.5" y="215.69" font-size="8.3" fill="#5a8f45" stroke="#5a8f45" stroke-width="0.166" textLength="31.5" lengthAdjust="spacingAndGlyphs">Cytosol</text>
<text x="188.8" y="215.79" font-size="8.3" fill="#9fcf92" stroke="#9fcf92" stroke-width="0.166" textLength="25.2" lengthAdjust="spacingAndGlyphs">Matrix</text>
<text x="56" y="240.39" font-size="8.3" stroke="#231f20" stroke-width="0.166" textLength="39.4" lengthAdjust="spacingAndGlyphs">Citrulline</text>
<text x="16.5" y="255.99" font-size="8.3" stroke="#231f20" stroke-width="0.166" textLength="40.5" lengthAdjust="spacingAndGlyphs">Ornithine</text>
<text x="69.6" y="262.49" font-size="8.3" stroke="#231f20" stroke-width="0.166" textLength="39.4" lengthAdjust="spacingAndGlyphs">Citrulline</text>
<text x="108" y="247.99" font-size="8.3" stroke="#231f20" stroke-width="0.166" textLength="40.7" lengthAdjust="spacingAndGlyphs">Aspartate</text>
<circle cx="122.3" cy="253" r="2.3" fill="#a9d9a1" stroke="#2a4a2a" stroke-width="0.65" />
<circle cx="127.1" cy="253" r="2.3" fill="#a9d9a1" stroke="#2a4a2a" stroke-width="0.65" />
<circle cx="131.9" cy="253" r="2.3" fill="#a9d9a1" stroke="#2a4a2a" stroke-width="0.65" />
<circle cx="136.7" cy="253" r="2.3" fill="#a9d9a1" stroke="#2a4a2a" stroke-width="0.65" />
<text x="40.5" y="278.39" font-size="8.3" fill="#9a9a9a" stroke="#9a9a9a" stroke-width="0.166" textLength="44.9" lengthAdjust="spacingAndGlyphs">Urea cycle</text>
<text x="9.5" y="286.99" font-size="8.3" stroke="#231f20" stroke-width="0.166" textLength="39.5" lengthAdjust="spacingAndGlyphs">Ornithine</text>
<text x="69.6" y="291.49" font-size="8.3" stroke="#231f20" stroke-width="0.166" textLength="77.4" lengthAdjust="spacingAndGlyphs">Argininosuccinate</text>
<text x="63" y="317.99" font-size="8.3" stroke="#231f20" stroke-width="0.166" textLength="36.7" lengthAdjust="spacingAndGlyphs">Arginine</text>
<text x="102" y="314.49" font-size="8.3" fill="#5a8f45" stroke="#5a8f45" stroke-width="0.166" textLength="40" lengthAdjust="spacingAndGlyphs">Fumarate</text>
<circle cx="106.3" cy="318.7" r="2.3" fill="#a9d9a1" stroke="#2a4a2a" stroke-width="0.65" />
<circle cx="111.1" cy="318.7" r="2.3" fill="#a9d9a1" stroke="#2a4a2a" stroke-width="0.65" />
<circle cx="115.9" cy="318.7" r="2.3" fill="#a9d9a1" stroke="#2a4a2a" stroke-width="0.65" />
<circle cx="120.7" cy="318.7" r="2.3" fill="#a9d9a1" stroke="#2a4a2a" stroke-width="0.65" />
<text x="141.8" y="328.39" font-size="8.3" stroke="#231f20" stroke-width="0.166" textLength="28.6" lengthAdjust="spacingAndGlyphs">Malate</text>
<circle cx="148.6" cy="333" r="2.3" fill="#a9d9a1" stroke="#2a4a2a" stroke-width="0.65" />
<circle cx="153.4" cy="333" r="2.3" fill="#a9d9a1" stroke="#2a4a2a" stroke-width="0.65" />
<circle cx="158.2" cy="333" r="2.3" fill="#a9d9a1" stroke="#2a4a2a" stroke-width="0.65" />
<circle cx="163.0" cy="333" r="2.3" fill="#a9d9a1" stroke="#2a4a2a" stroke-width="0.65" />
<text x="168" y="240.99" font-size="8.3" stroke="#231f20" stroke-width="0.166" textLength="40.7" lengthAdjust="spacingAndGlyphs">Aspartate</text>
<circle cx="178.9" cy="246" r="2.3" fill="#a9d9a1" stroke="#2a4a2a" stroke-width="0.65" />
<circle cx="183.63" cy="246" r="2.3" fill="#a9d9a1" stroke="#2a4a2a" stroke-width="0.65" />
<circle cx="188.37" cy="246" r="2.3" fill="#a9d9a1" stroke="#2a4a2a" stroke-width="0.65" />
<circle cx="193.1" cy="246" r="2.3" fill="#a9d9a1" stroke="#2a4a2a" stroke-width="0.65" />
<text x="227.5" y="237.29" font-size="8.3" stroke="#231f20" stroke-width="0.166" textLength="28.5" lengthAdjust="spacingAndGlyphs">Citrate</text>
<circle cx="233.8" cy="241.4" r="2.3" fill="#a9d9a1" stroke="#2a4a2a" stroke-width="0.65" />
<circle cx="237.78" cy="241.4" r="2.3" fill="#a9d9a1" stroke="#2a4a2a" stroke-width="0.65" />
<circle cx="241.76" cy="241.4" r="2.3" fill="#a9d9a1" stroke="#2a4a2a" stroke-width="0.65" />
<circle cx="245.74" cy="241.4" r="2.3" fill="#a9d9a1" stroke="#2a4a2a" stroke-width="0.65" />
<circle cx="249.72" cy="241.4" r="2.3" fill="#fff" stroke="#2a4a2a" stroke-width="0.65" />
<circle cx="253.7" cy="241.4" r="2.3" fill="#fff" stroke="#2a4a2a" stroke-width="0.65" />
<circle cx="244" cy="246.2" r="2.05" fill="#a9d9a1" stroke="#2a4a2a" stroke-width="0.5" />
<text x="195" y="262.99" font-size="8.3" stroke="#231f20" stroke-width="0.166" textLength="57" lengthAdjust="spacingAndGlyphs">Oxaloacetate</text>
<circle cx="213.9" cy="267.5" r="2.3" fill="#a9d9a1" stroke="#2a4a2a" stroke-width="0.65" />
<circle cx="218.83" cy="267.5" r="2.3" fill="#a9d9a1" stroke="#2a4a2a" stroke-width="0.65" />
<circle cx="223.77" cy="267.5" r="2.3" fill="#a9d9a1" stroke="#2a4a2a" stroke-width="0.65" />
<circle cx="228.7" cy="267.5" r="2.3" fill="#a9d9a1" stroke="#2a4a2a" stroke-width="0.65" />
<text x="239.7" y="281.59" font-size="8.3" fill="#a0a0a0" stroke="#a0a0a0" stroke-width="0.166" textLength="43.3" lengthAdjust="spacingAndGlyphs">TCA cycle</text>
<text x="207" y="285.99" font-size="8.3" stroke="#231f20" stroke-width="0.166" textLength="27.6" lengthAdjust="spacingAndGlyphs">Malate</text>
<circle cx="214.8" cy="290" r="2.3" fill="#a9d9a1" stroke="#2a4a2a" stroke-width="0.65" />
<circle cx="219.53" cy="290" r="2.3" fill="#a9d9a1" stroke="#2a4a2a" stroke-width="0.65" />
<circle cx="224.27" cy="290" r="2.3" fill="#a9d9a1" stroke="#2a4a2a" stroke-width="0.65" />
<circle cx="229.0" cy="290" r="2.3" fill="#a9d9a1" stroke="#2a4a2a" stroke-width="0.65" />
<text x="223.8" y="310.39" font-size="8.3" stroke="#231f20" stroke-width="0.166" textLength="40.2" lengthAdjust="spacingAndGlyphs">Fumarate</text>
<circle cx="237.1" cy="314.5" r="2.3" fill="#a9d9a1" stroke="#2a4a2a" stroke-width="0.65" />
<circle cx="241.97" cy="314.5" r="2.3" fill="#a9d9a1" stroke="#2a4a2a" stroke-width="0.65" />
<circle cx="246.83" cy="314.5" r="2.3" fill="#a9d9a1" stroke="#2a4a2a" stroke-width="0.65" />
<circle cx="251.7" cy="314.5" r="2.3" fill="#a9d9a1" stroke="#2a4a2a" stroke-width="0.65" />
<text x="187" y="315.99" font-size="8.3" stroke="#231f20" stroke-width="0.166" textLength="28" lengthAdjust="spacingAndGlyphs">Malate</text>
<circle cx="194.3" cy="320.7" r="2.3" fill="#a9d9a1" stroke="#2a4a2a" stroke-width="0.65" />
<circle cx="199.3" cy="320.7" r="2.3" fill="#a9d9a1" stroke="#2a4a2a" stroke-width="0.65" />
<circle cx="204.3" cy="320.7" r="2.3" fill="#a9d9a1" stroke="#2a4a2a" stroke-width="0.65" />
<circle cx="209.3" cy="320.7" r="2.3" fill="#a9d9a1" stroke="#2a4a2a" stroke-width="0.65" />
<text x="309" y="219.59" font-size="8.3" stroke="#231f20" stroke-width="0.166" textLength="44" lengthAdjust="spacingAndGlyphs">Glutamine</text>
<circle cx="323.9" cy="224.3" r="2.3" fill="#a9d9a1" stroke="#2a4a2a" stroke-width="0.65" />
<circle cx="328.95" cy="224.3" r="2.3" fill="#a9d9a1" stroke="#2a4a2a" stroke-width="0.65" />
<circle cx="334.0" cy="224.3" r="2.3" fill="#a9d9a1" stroke="#2a4a2a" stroke-width="0.65" />
<circle cx="339.05" cy="224.3" r="2.3" fill="#a9d9a1" stroke="#2a4a2a" stroke-width="0.65" />
<circle cx="344.1" cy="224.3" r="2.3" fill="#a9d9a1" stroke="#2a4a2a" stroke-width="0.65" />
<text x="271" y="242.79" font-size="8.3" stroke="#231f20" stroke-width="0.166" textLength="40.4" lengthAdjust="spacingAndGlyphs">Isocitrate</text>
<text x="317" y="245.69" font-size="8.3" stroke="#231f20" stroke-width="0.166" textLength="43.8" lengthAdjust="spacingAndGlyphs">Glutamate</text>
<circle cx="327.0" cy="250.4" r="2.3" fill="#a9d9a1" stroke="#2a4a2a" stroke-width="0.65" />
<circle cx="332.1" cy="250.4" r="2.3" fill="#a9d9a1" stroke="#2a4a2a" stroke-width="0.65" />
<circle cx="337.2" cy="250.4" r="2.3" fill="#a9d9a1" stroke="#2a4a2a" stroke-width="0.65" />
<circle cx="342.3" cy="250.4" r="2.3" fill="#a9d9a1" stroke="#2a4a2a" stroke-width="0.65" />
<circle cx="347.4" cy="250.4" r="2.3" fill="#a9d9a1" stroke="#2a4a2a" stroke-width="0.65" />
<text x="258.5" y="266.99" font-size="8.3" stroke="#231f20" stroke-width="0.166" textLength="65.5" lengthAdjust="spacingAndGlyphs">α-Ketoglutarate</text>
<circle cx="291.8" cy="272.4" r="2.3" fill="#a9d9a1" stroke="#2a4a2a" stroke-width="0.65" />
<circle cx="296.73" cy="272.4" r="2.3" fill="#a9d9a1" stroke="#2a4a2a" stroke-width="0.65" />
<circle cx="301.65" cy="272.4" r="2.3" fill="#a9d9a1" stroke="#2a4a2a" stroke-width="0.65" />
<circle cx="306.58" cy="272.4" r="2.3" fill="#a9d9a1" stroke="#2a4a2a" stroke-width="0.65" />
<circle cx="311.5" cy="272.4" r="2.3" fill="#a9d9a1" stroke="#2a4a2a" stroke-width="0.65" />
<text x="285.5" y="291.49" font-size="8.3" stroke="#231f20" stroke-width="0.166" textLength="57.5" lengthAdjust="spacingAndGlyphs">Succinyl-CoA</text>
<text x="273.7" y="308.59" font-size="8.3" stroke="#231f20" stroke-width="0.166" textLength="41.7" lengthAdjust="spacingAndGlyphs">Succinate</text>
<circle cx="277.8" cy="312.5" r="2.3" fill="#a9d9a1" stroke="#2a4a2a" stroke-width="0.65" />
<circle cx="282.9" cy="312.5" r="2.3" fill="#a9d9a1" stroke="#2a4a2a" stroke-width="0.65" />
<circle cx="288.0" cy="312.5" r="2.3" fill="#a9d9a1" stroke="#2a4a2a" stroke-width="0.65" />
<circle cx="293.1" cy="312.5" r="2.3" fill="#a9d9a1" stroke="#2a4a2a" stroke-width="0.65" />
<text x="219.3" y="238.0" font-size="6.8" fill="#7d7d7d" stroke="#7d7d7d" stroke-width="0.19" textLength="16.5" lengthAdjust="spacingAndGlyphs" transform="rotate(-62 219.3 238.0)">AOAA</text>
<path d="M210.2,243.6 L214.2,237.6 M211.8,236.2 L216.6,239.2" fill="none" stroke="#6a6a6a" stroke-width="0.8" />
<path d="M34.6,245.6 Q39,236.5 52,235.4" fill="none" stroke="#3f5069" stroke-width="1.4" marker-end="url(#ahS)" stroke-linecap="round"/>
<path d="M86.5,242 L96.5,254.8" fill="none" stroke="#3f5069" stroke-width="1.4" marker-end="url(#ahS)" stroke-linecap="round"/>
<path d="M178,231.6 C160,229.6 140,230.6 126.5,238.6" fill="none" stroke="#3f5069" stroke-width="2.1" marker-end="url(#ahL)" stroke-linecap="round"/>
<path d="M114.2,251 Q104.5,262 102.6,283" fill="none" stroke="#3f5069" stroke-width="1.4" marker-end="url(#ahS)" stroke-linecap="round"/>
<path d="M99.5,294.6 Q96,303 88,306.8" fill="none" stroke="#3f5069" stroke-width="1.4" marker-end="url(#ahS)" stroke-linecap="round"/>
<path d="M106.7,294.6 L113.6,304.4" fill="none" stroke="#3f5069" stroke-width="2.1" marker-end="url(#ahL)" stroke-linecap="round"/>
<path d="M61.6,317.8 Q35,318 27.2,292.2" fill="none" stroke="#3f5069" stroke-width="1.4" marker-end="url(#ahS)" stroke-linecap="round"/>
<path d="M21.6,278 Q21,266 25.3,259.6" fill="none" stroke="#3f5069" stroke-width="1.4" marker-end="url(#ahS)" stroke-linecap="round"/>
<path d="M126.5,317.6 L139,322.9" fill="none" stroke="#3f5069" stroke-width="2.1" marker-end="url(#ahL)" stroke-linecap="round"/>
<path d="M173.4,325.4 Q180,322.5 189.9,319.7" fill="none" stroke="#3f5069" stroke-width="2.1" marker-end="url(#ahL)" stroke-linecap="round"/>
<path d="M206.3,307.7 L216.4,294" fill="none" stroke="#3f5069" stroke-width="2.1" marker-end="url(#ahL)" stroke-linecap="round"/>
<path d="M235.3,304 L227.8,295" fill="none" stroke="#3f5069" stroke-width="1.4" marker-end="url(#ahS)" stroke-linecap="round"/>
<path d="M219.8,278.6 L219.8,271" fill="none" stroke="#3f5069" stroke-width="1.4" marker-end="url(#ahS)" stroke-linecap="round"/>
<path d="M212,255.3 L201.6,244.4" fill="none" stroke="#3f5069" stroke-width="2.1" marker-end="url(#ahL)" stroke-linecap="round"/>
<path d="M219.8,255.3 Q221.8,249 227,245.4" fill="none" stroke="#3f5069" stroke-width="1.4" marker-end="url(#ahS)" stroke-linecap="round"/>
<path d="M254,232 Q266,225.5 277.4,234.3" fill="none" stroke="#3f5069" stroke-width="1.4" marker-end="url(#ahS)" stroke-linecap="round"/>
<path d="M291,245.4 L298.1,256.4" fill="none" stroke="#3f5069" stroke-width="1.4" marker-end="url(#ahS)" stroke-linecap="round"/>
<path d="M339.8,227.6 L339.8,236.5" fill="none" stroke="#3f5069" stroke-width="1.4" marker-end="url(#ahS)" stroke-linecap="round"/>
<path d="M337.5,255.3 Q335,261.5 327.6,263.4" fill="none" stroke="#3f5069" stroke-width="1.4" marker-end="url(#ahS)" stroke-linecap="round"/>
<path d="M301.6,274.4 L300.6,284" fill="none" stroke="#3f5069" stroke-width="1.4" marker-end="url(#ahS)" stroke-linecap="round"/>
<path d="M296.6,293 L290.6,301.4" fill="none" stroke="#3f5069" stroke-width="1.4" marker-end="url(#ahS)" stroke-linecap="round"/>
<path d="M274.4,312.6 Q266,314.4 256.2,314.2" fill="none" stroke="#3f5069" stroke-width="1.4" marker-end="url(#ahS)" stroke-linecap="round"/>
<text x="375.8" y="187.3" font-size="10.8" fill="#000" font-weight="bold" textLength="8.05" lengthAdjust="spacingAndGlyphs" stroke="#000" stroke-width="0.35">d</text>
<line x1="421.4" y1="198.0" x2="421.4" y2="297.8" stroke="#707070" stroke-width="0.7" />
<line x1="416.8" y1="297.8" x2="421.4" y2="297.8" stroke="#707070" stroke-width="0.7" />
<text x="412.8" y="300.5" font-size="7.5" text-anchor="end" fill="#222" stroke="#222" stroke-width="0.083" textLength="4.8" lengthAdjust="spacingAndGlyphs">0</text>
<line x1="416.8" y1="272.85" x2="421.4" y2="272.85" stroke="#707070" stroke-width="0.7" />
<text x="412.8" y="275.55" font-size="7.5" text-anchor="end" fill="#222" stroke="#222" stroke-width="0.083" textLength="11.99" lengthAdjust="spacingAndGlyphs">1.0</text>
<line x1="416.8" y1="247.9" x2="421.4" y2="247.9" stroke="#707070" stroke-width="0.7" />
<text x="412.8" y="250.6" font-size="7.5" text-anchor="end" fill="#222" stroke="#222" stroke-width="0.083" textLength="11.99" lengthAdjust="spacingAndGlyphs">2.0</text>
<line x1="416.8" y1="222.95" x2="421.4" y2="222.95" stroke="#707070" stroke-width="0.7" />
<text x="412.8" y="225.65" font-size="7.5" text-anchor="end" fill="#222" stroke="#222" stroke-width="0.083" textLength="11.99" lengthAdjust="spacingAndGlyphs">3.0</text>
<line x1="416.8" y1="198.0" x2="421.4" y2="198.0" stroke="#707070" stroke-width="0.7" />
<text x="412.8" y="200.7" font-size="7.5" text-anchor="end" fill="#222" stroke="#222" stroke-width="0.083" textLength="11.99" lengthAdjust="spacingAndGlyphs">4.0</text>
<rect x="424.8" y="272.85" width="7.6" height="24.95" fill="#ffffff" stroke="#8f8f8f" stroke-width="0.5" />
<line x1="428.6" y1="272.85" x2="428.6" y2="271.85" stroke="#888" stroke-width="0.5" />
<line x1="427.8" y1="271.85" x2="429.4" y2="271.85" stroke="#888" stroke-width="0.5" />
<line x1="428.6" y1="272.85" x2="428.6" y2="273.85" stroke="#999" stroke-width="0.5" />
<line x1="427.8" y1="273.85" x2="429.4" y2="273.85" stroke="#999" stroke-width="0.5" />
<circle cx="427.4" cy="271.85" r="0.85" fill="none" stroke="#999" stroke-width="0.4" />
<circle cx="428.6" cy="272.85" r="0.85" fill="none" stroke="#999" stroke-width="0.4" />
<circle cx="429.8" cy="273.6" r="0.85" fill="none" stroke="#999" stroke-width="0.4" />
<rect x="439.7" y="275.84" width="7.2" height="21.96" fill="#acdca6" stroke="#7fb878" stroke-width="0.5" />
<line x1="443.3" y1="275.84" x2="443.3" y2="274.6" stroke="#888" stroke-width="0.5" />
<line x1="442.5" y1="274.6" x2="444.1" y2="274.6" stroke="#888" stroke-width="0.5" />
<line x1="443.3" y1="275.84" x2="443.3" y2="277.09" stroke="#999" stroke-width="0.5" />
<line x1="442.5" y1="277.09" x2="444.1" y2="277.09" stroke="#999" stroke-width="0.5" />
<circle cx="442.1" cy="274.6" r="0.85" fill="none" stroke="#999" stroke-width="0.4" />
<circle cx="443.3" cy="275.84" r="0.85" fill="none" stroke="#999" stroke-width="0.4" />
<circle cx="444.5" cy="276.59" r="0.85" fill="none" stroke="#999" stroke-width="0.4" />
<rect x="454.4" y="226.19" width="7.2" height="71.61" fill="#d2d2d2" stroke="#888" stroke-width="0.5" />
<line x1="458.0" y1="226.19" x2="458.0" y2="223.2" stroke="#888" stroke-width="0.5" />
<line x1="457.2" y1="223.2" x2="458.8" y2="223.2" stroke="#888" stroke-width="0.5" />
<line x1="458.0" y1="226.19" x2="458.0" y2="229.19" stroke="#999" stroke-width="0.5" />
<line x1="457.2" y1="229.19" x2="458.8" y2="229.19" stroke="#999" stroke-width="0.5" />
<circle cx="456.8" cy="223.2" r="0.85" fill="none" stroke="#999" stroke-width="0.4" />
<circle cx="458.0" cy="226.19" r="0.85" fill="none" stroke="#999" stroke-width="0.4" />
<circle cx="459.2" cy="228.94" r="0.85" fill="none" stroke="#999" stroke-width="0.4" />
<rect x="469.1" y="252.89" width="7.6" height="44.91" fill="#12b012" stroke="#0c8a0c" stroke-width="0.5" />
<line x1="472.9" y1="252.89" x2="472.9" y2="246.65" stroke="#888" stroke-width="0.5" />
<line x1="472.1" y1="246.65" x2="473.7" y2="246.65" stroke="#888" stroke-width="0.5" />
<line x1="472.9" y1="252.89" x2="472.9" y2="259.13" stroke="#e8e8e8" stroke-width="0.5" />
<line x1="472.1" y1="259.13" x2="473.7" y2="259.13" stroke="#e8e8e8" stroke-width="0.5" />
<circle cx="471.7" cy="246.65" r="0.85" fill="#ddd" stroke="#eee" stroke-width="0.4" />
<circle cx="472.9" cy="252.89" r="0.85" fill="#ddd" stroke="#eee" stroke-width="0.4" />
<circle cx="474.1" cy="259.13" r="0.85" fill="#ddd" stroke="#eee" stroke-width="0.4" />
<line x1="421.4" y1="297.8" x2="480.8" y2="297.8" stroke="#707070" stroke-width="0.7" />
<line x1="428.6" y1="297.8" x2="428.6" y2="301.8" stroke="#707070" stroke-width="0.7" />
<line x1="443.3" y1="297.8" x2="443.3" y2="301.8" stroke="#707070" stroke-width="0.7" />
<line x1="458.0" y1="297.8" x2="458.0" y2="301.8" stroke="#707070" stroke-width="0.7" />
<line x1="472.9" y1="297.8" x2="472.9" y2="301.8" stroke="#707070" stroke-width="0.7" />
<text x="383.5" y="245.0" font-size="8.4" text-anchor="middle" stroke="#231f20" stroke-width="0.235" textLength="91.4" lengthAdjust="spacingAndGlyphs" transform="rotate(-90 383.5 245.0)">M + 4 aspartate (peak</text>
<text x="394.3" y="248.0" font-size="8.4" text-anchor="middle" stroke="#231f20" stroke-width="0.235" textLength="96" lengthAdjust="spacingAndGlyphs" transform="rotate(-90 394.3 248.0)"><tspan>area × 10</tspan><tspan dy="-3.53" font-size="5.21">4</tspan><tspan dy="3.53">, normalized)</tspan></text>
<path d="M428.6,247.5 V217.2 H458.0 V220.5" fill="none" stroke="#a0a0a0" stroke-width="0.5" />
<text x="427.2" y="215.4" font-size="6.1" fill="#2e2e2e" stroke="#2e2e2e" stroke-width="0.122" textLength="31.0" lengthAdjust="spacingAndGlyphs"><tspan font-style="italic">P</tspan><tspan> &lt; 0.0001</tspan></text>
<path d="M458.5,220.5 V211.4 H473.0 V236.5" fill="none" stroke="#a0a0a0" stroke-width="0.5" />
<text x="450.9" y="208.8" font-size="6.1" fill="#2e2e2e" stroke="#2e2e2e" stroke-width="0.122" textLength="31.0" lengthAdjust="spacingAndGlyphs"><tspan font-style="italic">P</tspan><tspan> &lt; 0.0001</tspan></text>
<path d="M428.6,268.6 V263.0 H443.3 V267.5" fill="none" stroke="#a0a0a0" stroke-width="0.5" />
<text x="422.7" y="261.3" font-size="6.1" fill="#2e2e2e" stroke="#2e2e2e" stroke-width="0.122" textLength="30.3" lengthAdjust="spacingAndGlyphs"><tspan font-style="italic">P</tspan><tspan> = 0.7372</tspan></text>
<text x="411.4" y="312.55" font-size="8.2" text-anchor="end" stroke="#231f20" stroke-width="0.164" font-style="italic" textLength="21.39" lengthAdjust="spacingAndGlyphs">ASS1</text>
<text x="428.6" y="312.34" font-size="7.6" text-anchor="middle" stroke="#231f20" stroke-width="0.152" textLength="10.66" lengthAdjust="spacingAndGlyphs">+/+</text>
<text x="443.3" y="312.34" font-size="7.6" text-anchor="middle" stroke="#231f20" stroke-width="0.152" textLength="10.66" lengthAdjust="spacingAndGlyphs">−/−</text>
<text x="458.0" y="312.34" font-size="7.6" text-anchor="middle" stroke="#231f20" stroke-width="0.152" textLength="10.66" lengthAdjust="spacingAndGlyphs">+/+</text>
<text x="472.9" y="312.34" font-size="7.6" text-anchor="middle" stroke="#231f20" stroke-width="0.152" textLength="10.66" lengthAdjust="spacingAndGlyphs">−/−</text>
<text x="411.4" y="325.85" font-size="8.2" text-anchor="end" stroke="#231f20" stroke-width="0.164" textLength="16.74" lengthAdjust="spacingAndGlyphs">VSV</text>
<text x="428.6" y="325.64" font-size="7.6" text-anchor="middle" stroke="#231f20" stroke-width="0.152" textLength="4.1" lengthAdjust="spacingAndGlyphs">–</text>
<text x="443.3" y="325.64" font-size="7.6" text-anchor="middle" stroke="#231f20" stroke-width="0.152" textLength="4.1" lengthAdjust="spacingAndGlyphs">–</text>
<text x="458.0" y="325.64" font-size="7.6" text-anchor="middle" stroke="#231f20" stroke-width="0.152" textLength="4.31" lengthAdjust="spacingAndGlyphs">+</text>
<text x="472.9" y="325.64" font-size="7.6" text-anchor="middle" stroke="#231f20" stroke-width="0.152" textLength="4.31" lengthAdjust="spacingAndGlyphs">+</text>
<text x="500.8" y="187.3" font-size="10.8" fill="#000" font-weight="bold" textLength="7.33" lengthAdjust="spacingAndGlyphs" stroke="#000" stroke-width="0.35">e</text>
<line x1="547.6" y1="196.4" x2="547.6" y2="296.4" stroke="#707070" stroke-width="0.7" />
<line x1="543.0" y1="296.4" x2="547.6" y2="296.4" stroke="#707070" stroke-width="0.7" />
<text x="539.0" y="299.1" font-size="7.5" text-anchor="end" fill="#222" stroke="#222" stroke-width="0.083" textLength="4.8" lengthAdjust="spacingAndGlyphs">0</text>
<line x1="543.0" y1="276.4" x2="547.6" y2="276.4" stroke="#707070" stroke-width="0.7" />
<text x="539.0" y="279.1" font-size="7.5" text-anchor="end" fill="#222" stroke="#222" stroke-width="0.083" textLength="11.99" lengthAdjust="spacingAndGlyphs">0.5</text>
<line x1="543.0" y1="256.4" x2="547.6" y2="256.4" stroke="#707070" stroke-width="0.7" />
<text x="539.0" y="259.1" font-size="7.5" text-anchor="end" fill="#222" stroke="#222" stroke-width="0.083" textLength="11.99" lengthAdjust="spacingAndGlyphs">1.0</text>
<line x1="543.0" y1="236.4" x2="547.6" y2="236.4" stroke="#707070" stroke-width="0.7" />
<text x="539.0" y="239.1" font-size="7.5" text-anchor="end" fill="#222" stroke="#222" stroke-width="0.083" textLength="11.99" lengthAdjust="spacingAndGlyphs">2.0</text>
<line x1="543.0" y1="216.4" x2="547.6" y2="216.4" stroke="#707070" stroke-width="0.7" />
<text x="539.0" y="219.1" font-size="7.5" text-anchor="end" fill="#222" stroke="#222" stroke-width="0.083" textLength="11.99" lengthAdjust="spacingAndGlyphs">2.5</text>
<line x1="543.0" y1="196.4" x2="547.6" y2="196.4" stroke="#707070" stroke-width="0.7" />
<text x="539.0" y="199.1" font-size="7.5" text-anchor="end" fill="#222" stroke="#222" stroke-width="0.083" textLength="11.99" lengthAdjust="spacingAndGlyphs">3.0</text>
<rect x="550.5" y="247.9" width="7.4" height="48.5" fill="#ffffff" stroke="#8f8f8f" stroke-width="0.5" />
<line x1="554.2" y1="247.9" x2="554.2" y2="243.9" stroke="#888" stroke-width="0.5" />
<line x1="553.4" y1="243.9" x2="555.0" y2="243.9" stroke="#888" stroke-width="0.5" />
<line x1="554.2" y1="247.9" x2="554.2" y2="251.9" stroke="#999" stroke-width="0.5" />
<line x1="553.4" y1="251.9" x2="555.0" y2="251.9" stroke="#999" stroke-width="0.5" />
<circle cx="553.0" cy="240.0" r="0.85" fill="none" stroke="#999" stroke-width="0.4" />
<circle cx="554.2" cy="248.0" r="0.85" fill="none" stroke="#999" stroke-width="0.4" />
<circle cx="555.4" cy="256.0" r="0.85" fill="none" stroke="#999" stroke-width="0.4" />
<rect x="565.1" y="257.3" width="7.0" height="39.1" fill="#acdca6" stroke="#7fb878" stroke-width="0.5" />
<line x1="568.6" y1="257.3" x2="568.6" y2="254.1" stroke="#888" stroke-width="0.5" />
<line x1="567.8" y1="254.1" x2="569.4" y2="254.1" stroke="#888" stroke-width="0.5" />
<line x1="568.6" y1="257.3" x2="568.6" y2="260.5" stroke="#999" stroke-width="0.5" />
<line x1="567.8" y1="260.5" x2="569.4" y2="260.5" stroke="#999" stroke-width="0.5" />
<circle cx="567.4" cy="251.0" r="0.85" fill="none" stroke="#999" stroke-width="0.4" />
<circle cx="568.6" cy="257.0" r="0.85" fill="none" stroke="#999" stroke-width="0.4" />
<circle cx="569.8" cy="262.0" r="0.85" fill="none" stroke="#999" stroke-width="0.4" />
<rect x="579.45" y="211.1" width="7.1" height="85.3" fill="#d2d2d2" stroke="#888" stroke-width="0.5" />
<line x1="583.0" y1="211.1" x2="583.0" y2="206.3" stroke="#888" stroke-width="0.5" />
<line x1="582.2" y1="206.3" x2="583.8" y2="206.3" stroke="#888" stroke-width="0.5" />
<line x1="583.0" y1="211.1" x2="583.0" y2="215.9" stroke="#999" stroke-width="0.5" />
<line x1="582.2" y1="215.9" x2="583.8" y2="215.9" stroke="#999" stroke-width="0.5" />
<circle cx="581.8" cy="205.0" r="0.85" fill="none" stroke="#999" stroke-width="0.4" />
<circle cx="583.0" cy="211.0" r="0.85" fill="none" stroke="#999" stroke-width="0.4" />
<circle cx="584.2" cy="216.0" r="0.85" fill="none" stroke="#999" stroke-width="0.4" />
<rect x="593.35" y="235.2" width="7.3" height="61.2" fill="#12b012" stroke="#0c8a0c" stroke-width="0.5" />
<line x1="597.0" y1="235.2" x2="597.0" y2="232.0" stroke="#888" stroke-width="0.5" />
<line x1="596.2" y1="232.0" x2="597.8" y2="232.0" stroke="#888" stroke-width="0.5" />
<line x1="597.0" y1="235.2" x2="597.0" y2="238.4" stroke="#e8e8e8" stroke-width="0.5" />
<line x1="596.2" y1="238.4" x2="597.8" y2="238.4" stroke="#e8e8e8" stroke-width="0.5" />
<circle cx="595.8" cy="231.0" r="0.85" fill="#ddd" stroke="#eee" stroke-width="0.4" />
<circle cx="597.0" cy="235.0" r="0.85" fill="#ddd" stroke="#eee" stroke-width="0.4" />
<circle cx="598.2" cy="239.0" r="0.85" fill="#ddd" stroke="#eee" stroke-width="0.4" />
<line x1="547.6" y1="296.4" x2="604.4" y2="296.4" stroke="#707070" stroke-width="0.7" />
<line x1="554.2" y1="296.4" x2="554.2" y2="300.4" stroke="#707070" stroke-width="0.7" />
<line x1="568.6" y1="296.4" x2="568.6" y2="300.4" stroke="#707070" stroke-width="0.7" />
<line x1="583.0" y1="296.4" x2="583.0" y2="300.4" stroke="#707070" stroke-width="0.7" />
<line x1="597.0" y1="296.4" x2="597.0" y2="300.4" stroke="#707070" stroke-width="0.7" />
<text x="509.5" y="246.2" font-size="8.4" text-anchor="middle" stroke="#231f20" stroke-width="0.235" textLength="81.5" lengthAdjust="spacingAndGlyphs" transform="rotate(-90 509.5 246.2)">M + 4 malate (peak</text>
<text x="520.3" y="248.3" font-size="8.4" text-anchor="middle" stroke="#231f20" stroke-width="0.235" textLength="96" lengthAdjust="spacingAndGlyphs" transform="rotate(-90 520.3 248.3)"><tspan>area × 10</tspan><tspan dy="-3.53" font-size="5.21">5</tspan><tspan dy="3.53">, normalized)</tspan></text>
<path d="M554.2,236.8 V200.3 H583.0 V203.4" fill="none" stroke="#a0a0a0" stroke-width="0.5" />
<text x="550.1" y="198.2" font-size="6.1" fill="#2e2e2e" stroke="#2e2e2e" stroke-width="0.122" textLength="31.4" lengthAdjust="spacingAndGlyphs"><tspan font-style="italic">P</tspan><tspan> &lt; 0.0001</tspan></text>
<path d="M583.5,203.4 V197.2 H597.3 V225.3" fill="none" stroke="#a0a0a0" stroke-width="0.5" />
<text x="582.5" y="195.5" font-size="6.1" fill="#2e2e2e" stroke="#2e2e2e" stroke-width="0.122" textLength="31.3" lengthAdjust="spacingAndGlyphs"><tspan font-style="italic">P</tspan><tspan> = 0.0012</tspan></text>
<path d="M554.2,240.0 V235.8 H568.6 V246.2" fill="none" stroke="#a0a0a0" stroke-width="0.5" />
<text x="547.0" y="232.7" font-size="6.1" fill="#2e2e2e" stroke="#2e2e2e" stroke-width="0.122" textLength="28.2" lengthAdjust="spacingAndGlyphs"><tspan font-style="italic">P</tspan><tspan> = 0.1361</tspan></text>
<text x="537.6" y="312.45" font-size="8.2" text-anchor="end" stroke="#231f20" stroke-width="0.164" font-style="italic" textLength="21.39" lengthAdjust="spacingAndGlyphs">ASS1</text>
<text x="554.2" y="312.24" font-size="7.6" text-anchor="middle" stroke="#231f20" stroke-width="0.152" textLength="10.66" lengthAdjust="spacingAndGlyphs">+/+</text>
<text x="568.6" y="312.24" font-size="7.6" text-anchor="middle" stroke="#231f20" stroke-width="0.152" textLength="10.66" lengthAdjust="spacingAndGlyphs">−/−</text>
<text x="583.0" y="312.24" font-size="7.6" text-anchor="middle" stroke="#231f20" stroke-width="0.152" textLength="10.66" lengthAdjust="spacingAndGlyphs">+/+</text>
<text x="597.0" y="312.24" font-size="7.6" text-anchor="middle" stroke="#231f20" stroke-width="0.152" textLength="10.66" lengthAdjust="spacingAndGlyphs">−/−</text>
<text x="537.6" y="326.45" font-size="8.2" text-anchor="end" stroke="#231f20" stroke-width="0.164" textLength="16.74" lengthAdjust="spacingAndGlyphs">VSV</text>
<text x="554.2" y="326.24" font-size="7.6" text-anchor="middle" stroke="#231f20" stroke-width="0.152" textLength="4.1" lengthAdjust="spacingAndGlyphs">–</text>
<text x="568.6" y="326.24" font-size="7.6" text-anchor="middle" stroke="#231f20" stroke-width="0.152" textLength="4.1" lengthAdjust="spacingAndGlyphs">–</text>
<text x="583.0" y="326.24" font-size="7.6" text-anchor="middle" stroke="#231f20" stroke-width="0.152" textLength="4.31" lengthAdjust="spacingAndGlyphs">+</text>
<text x="597.0" y="326.24" font-size="7.6" text-anchor="middle" stroke="#231f20" stroke-width="0.152" textLength="4.31" lengthAdjust="spacingAndGlyphs">+</text>
<text x="0.3" y="355.3" font-size="10.8" fill="#000" font-weight="bold" textLength="4.39" lengthAdjust="spacingAndGlyphs" stroke="#000" stroke-width="0.35">f</text>
<line x1="39.7" y1="377.0" x2="39.7" y2="477.0" stroke="#707070" stroke-width="0.7" />
<line x1="35.1" y1="477.0" x2="39.7" y2="477.0" stroke="#707070" stroke-width="0.7" />
<text x="30.7" y="479.7" font-size="7.5" text-anchor="end" fill="#222" stroke="#222" stroke-width="0.083" textLength="4.8" lengthAdjust="spacingAndGlyphs">0</text>
<line x1="35.1" y1="443.67" x2="39.7" y2="443.67" stroke="#707070" stroke-width="0.7" />
<text x="30.7" y="446.37" font-size="7.5" text-anchor="end" fill="#222" stroke="#222" stroke-width="0.083" textLength="4.8" lengthAdjust="spacingAndGlyphs">1</text>
<line x1="35.1" y1="410.33" x2="39.7" y2="410.33" stroke="#707070" stroke-width="0.7" />
<text x="30.7" y="413.03" font-size="7.5" text-anchor="end" fill="#222" stroke="#222" stroke-width="0.083" textLength="4.8" lengthAdjust="spacingAndGlyphs">2</text>
<line x1="35.1" y1="377.0" x2="39.7" y2="377.0" stroke="#707070" stroke-width="0.7" />
<text x="30.7" y="379.7" font-size="7.5" text-anchor="end" fill="#222" stroke="#222" stroke-width="0.083" textLength="4.8" lengthAdjust="spacingAndGlyphs">3</text>
<text x="89.5" y="358.2" font-size="8.2" text-anchor="middle" stroke="#231f20" stroke-width="0.164" textLength="21" lengthAdjust="spacingAndGlyphs">ASS1</text>
<rect x="42.7" y="443.67" width="7.0" height="33.33" fill="#d2d2d2" stroke="#888" stroke-width="0.5" />
<line x1="46.2" y1="443.67" x2="46.2" y2="442.0" stroke="#888" stroke-width="0.5" />
<line x1="45.4" y1="442.0" x2="47.0" y2="442.0" stroke="#888" stroke-width="0.5" />
<line x1="46.2" y1="443.67" x2="46.2" y2="445.33" stroke="#999" stroke-width="0.5" />
<line x1="45.4" y1="445.33" x2="47.0" y2="445.33" stroke="#999" stroke-width="0.5" />
<circle cx="45.0" cy="442.0" r="0.85" fill="none" stroke="#999" stroke-width="0.4" />
<circle cx="46.2" cy="443.67" r="0.85" fill="none" stroke="#999" stroke-width="0.4" />
<circle cx="47.4" cy="445.0" r="0.85" fill="none" stroke="#999" stroke-width="0.4" />
<rect x="68.3" y="443.67" width="6.6" height="33.33" fill="#d2d2d2" stroke="#888" stroke-width="0.5" />
<line x1="71.6" y1="443.67" x2="71.6" y2="443.33" stroke="#888" stroke-width="0.5" />
<line x1="70.8" y1="443.33" x2="72.4" y2="443.33" stroke="#888" stroke-width="0.5" />
<line x1="71.6" y1="443.67" x2="71.6" y2="444.0" stroke="#999" stroke-width="0.5" />
<line x1="70.8" y1="444.0" x2="72.4" y2="444.0" stroke="#999" stroke-width="0.5" />
<circle cx="70.4" cy="443.67" r="0.85" fill="none" stroke="#999" stroke-width="0.4" />
<circle cx="71.6" cy="443.67" r="0.85" fill="none" stroke="#999" stroke-width="0.4" />
<circle cx="72.8" cy="443.67" r="0.85" fill="none" stroke="#999" stroke-width="0.4" />
<rect x="94.3" y="400.33" width="6.6" height="76.67" fill="#d2d2d2" stroke="#888" stroke-width="0.5" />
<line x1="97.6" y1="400.33" x2="97.6" y2="397.67" stroke="#888" stroke-width="0.5" />
<line x1="96.8" y1="397.67" x2="98.4" y2="397.67" stroke="#888" stroke-width="0.5" />
<line x1="97.6" y1="400.33" x2="97.6" y2="403.0" stroke="#999" stroke-width="0.5" />
<line x1="96.8" y1="403.0" x2="98.4" y2="403.0" stroke="#999" stroke-width="0.5" />
<circle cx="96.4" cy="397.0" r="0.85" fill="none" stroke="#999" stroke-width="0.4" />
<circle cx="97.6" cy="400.33" r="0.85" fill="none" stroke="#999" stroke-width="0.4" />
<circle cx="98.8" cy="402.0" r="0.85" fill="none" stroke="#999" stroke-width="0.4" />
<rect x="120.0" y="395.33" width="6.6" height="81.67" fill="#d2d2d2" stroke="#888" stroke-width="0.5" />
<line x1="123.3" y1="395.33" x2="123.3" y2="394.67" stroke="#888" stroke-width="0.5" />
<line x1="122.5" y1="394.67" x2="124.1" y2="394.67" stroke="#888" stroke-width="0.5" />
<line x1="123.3" y1="395.33" x2="123.3" y2="396.0" stroke="#999" stroke-width="0.5" />
<line x1="122.5" y1="396.0" x2="124.1" y2="396.0" stroke="#999" stroke-width="0.5" />
<circle cx="122.1" cy="394.67" r="0.85" fill="none" stroke="#999" stroke-width="0.4" />
<circle cx="123.3" cy="395.33" r="0.85" fill="none" stroke="#999" stroke-width="0.4" />
<circle cx="124.5" cy="395.67" r="0.85" fill="none" stroke="#999" stroke-width="0.4" />
<rect x="52.1" y="476.1" width="6.6" height="0.9" fill="#fff" stroke="#999" stroke-width="0.4" />
<circle cx="53.8" cy="476.1" r="0.8" fill="none" stroke="#999" stroke-width="0.35" />
<circle cx="55.4" cy="476.1" r="0.8" fill="none" stroke="#999" stroke-width="0.35" />
<circle cx="57.0" cy="476.1" r="0.8" fill="none" stroke="#999" stroke-width="0.35" />
<rect x="77.7" y="476.1" width="6.6" height="0.9" fill="#fff" stroke="#999" stroke-width="0.4" />
<circle cx="79.4" cy="476.1" r="0.8" fill="none" stroke="#999" stroke-width="0.35" />
<circle cx="81.0" cy="476.1" r="0.8" fill="none" stroke="#999" stroke-width="0.35" />
<circle cx="82.6" cy="476.1" r="0.8" fill="none" stroke="#999" stroke-width="0.35" />
<rect x="103.7" y="476.1" width="6.6" height="0.9" fill="#fff" stroke="#999" stroke-width="0.4" />
<circle cx="105.4" cy="476.1" r="0.8" fill="none" stroke="#999" stroke-width="0.35" />
<circle cx="107.0" cy="476.1" r="0.8" fill="none" stroke="#999" stroke-width="0.35" />
<circle cx="108.6" cy="476.1" r="0.8" fill="none" stroke="#999" stroke-width="0.35" />
<rect x="129.3" y="476.1" width="6.6" height="0.9" fill="#fff" stroke="#999" stroke-width="0.4" />
<circle cx="131.0" cy="476.1" r="0.8" fill="none" stroke="#999" stroke-width="0.35" />
<circle cx="132.6" cy="476.1" r="0.8" fill="none" stroke="#999" stroke-width="0.35" />
<circle cx="134.2" cy="476.1" r="0.8" fill="none" stroke="#999" stroke-width="0.35" />
<line x1="39.7" y1="477.0" x2="139.0" y2="477.0" stroke="#707070" stroke-width="0.7" />
<line x1="50.5" y1="477.0" x2="50.5" y2="481.0" stroke="#707070" stroke-width="0.7" />
<line x1="76.2" y1="477.0" x2="76.2" y2="481.0" stroke="#707070" stroke-width="0.7" />
<line x1="101.8" y1="477.0" x2="101.8" y2="481.0" stroke="#707070" stroke-width="0.7" />
<line x1="127.5" y1="477.0" x2="127.5" y2="481.0" stroke="#707070" stroke-width="0.7" />
<text x="8.3" y="427.1" font-size="8.4" text-anchor="middle" stroke="#231f20" stroke-width="0.235" textLength="82.8" lengthAdjust="spacingAndGlyphs" transform="rotate(-90 8.3 427.1)">Relative expression</text>
<text x="19.6" y="427.5" font-size="8.4" text-anchor="middle" stroke="#231f20" stroke-width="0.235" textLength="42.2" lengthAdjust="spacingAndGlyphs" transform="rotate(-90 19.6 427.5)">(qRT-PCR)</text>
<path d="M46.2,388.2 V377.3 H97.6 V379.4" fill="none" stroke="#a0a0a0" stroke-width="0.5" />
<text x="59.5" y="375.0" font-size="6.1" fill="#2e2e2e" stroke="#2e2e2e" stroke-width="0.122" textLength="31.1" lengthAdjust="spacingAndGlyphs"><tspan font-style="italic">P</tspan><tspan> &lt; 0.0001</tspan></text>
<path d="M71.6,400.9 V390.8 H123.3 V393.3" fill="none" stroke="#a0a0a0" stroke-width="0.5" />
<text x="79.7" y="387.7" font-size="6.1" fill="#2e2e2e" stroke="#2e2e2e" stroke-width="0.122" textLength="31.7" lengthAdjust="spacingAndGlyphs"><tspan font-style="italic">P</tspan><tspan> &lt; 0.0001</tspan></text>
<text x="39.0" y="490.45" font-size="8.2" text-anchor="end" stroke="#231f20" stroke-width="0.164" textLength="16.74" lengthAdjust="spacingAndGlyphs">VSV</text>
<text x="50.5" y="490.24" font-size="7.6" text-anchor="middle" stroke="#231f20" stroke-width="0.152" textLength="4.1" lengthAdjust="spacingAndGlyphs">–</text>
<text x="76.2" y="490.24" font-size="7.6" text-anchor="middle" stroke="#231f20" stroke-width="0.152" textLength="4.1" lengthAdjust="spacingAndGlyphs">–</text>
<text x="101.8" y="490.24" font-size="7.6" text-anchor="middle" stroke="#231f20" stroke-width="0.152" textLength="4.31" lengthAdjust="spacingAndGlyphs">+</text>
<text x="127.5" y="490.24" font-size="7.6" text-anchor="middle" stroke="#231f20" stroke-width="0.152" textLength="4.31" lengthAdjust="spacingAndGlyphs">+</text>
<text x="39.0" y="502.95" font-size="8.2" text-anchor="end" stroke="#231f20" stroke-width="0.164" textLength="18.12" lengthAdjust="spacingAndGlyphs">DMF</text>
<text x="50.5" y="502.74" font-size="7.6" text-anchor="middle" stroke="#231f20" stroke-width="0.152" textLength="4.1" lengthAdjust="spacingAndGlyphs">–</text>
<text x="76.2" y="502.74" font-size="7.6" text-anchor="middle" stroke="#231f20" stroke-width="0.152" textLength="4.31" lengthAdjust="spacingAndGlyphs">+</text>
<text x="101.8" y="502.74" font-size="7.6" text-anchor="middle" stroke="#231f20" stroke-width="0.152" textLength="4.1" lengthAdjust="spacingAndGlyphs">–</text>
<text x="127.5" y="502.74" font-size="7.6" text-anchor="middle" stroke="#231f20" stroke-width="0.152" textLength="4.31" lengthAdjust="spacingAndGlyphs">+</text>
<line x1="192.7" y1="379.4" x2="192.7" y2="477.0" stroke="#707070" stroke-width="0.7" />
<line x1="188.1" y1="379.4" x2="192.7" y2="379.4" stroke="#707070" stroke-width="0.7" />
<text x="181.8" y="382.1" font-size="7.5" text-anchor="end" fill="#222" stroke="#222" stroke-width="0.083" textLength="29.0" lengthAdjust="spacingAndGlyphs"><tspan>1.5 × 10</tspan><tspan dy="-3.15" font-size="4.65">4</tspan></text>
<line x1="188.1" y1="407.2" x2="192.7" y2="407.2" stroke="#707070" stroke-width="0.7" />
<text x="181.8" y="409.9" font-size="7.5" text-anchor="end" fill="#222" stroke="#222" stroke-width="0.083" textLength="22.8" lengthAdjust="spacingAndGlyphs"><tspan>1 × 10</tspan><tspan dy="-3.15" font-size="4.65">4</tspan></text>
<line x1="188.1" y1="434.5" x2="192.7" y2="434.5" stroke="#707070" stroke-width="0.7" />
<text x="181.8" y="437.2" font-size="7.5" text-anchor="end" fill="#222" stroke="#222" stroke-width="0.083" textLength="24.0" lengthAdjust="spacingAndGlyphs"><tspan>5 × 10</tspan><tspan dy="-3.15" font-size="4.65">3</tspan></text>
<text x="178.2" y="463.6" font-size="7.5" text-anchor="end" fill="#222" stroke="#222" stroke-width="0.083" textLength="9.6" lengthAdjust="spacingAndGlyphs">10</text>
<text x="178.2" y="480.0" font-size="7.5" text-anchor="end" fill="#222" stroke="#222" stroke-width="0.083" textLength="4.8" lengthAdjust="spacingAndGlyphs">0</text>
<path d="M188.2,452.2 L197.5,460.3 M188.2,456.2 L197.5,464.2" fill="none" stroke="#3a3a3a" stroke-width="0.75" />
<text x="246.5" y="357.5" font-size="8.2" text-anchor="middle" stroke="#231f20" stroke-width="0.164" textLength="19.5" lengthAdjust="spacingAndGlyphs">IFNβ</text>
<rect x="196.0" y="475.36" width="6.8" height="1.64" fill="#d2d2d2" stroke="#888" stroke-width="0.5" />
<circle cx="198.2" cy="475.96" r="0.75" fill="none" stroke="#999" stroke-width="0.35" />
<circle cx="200.6" cy="475.96" r="0.75" fill="none" stroke="#999" stroke-width="0.35" />
<rect x="206.5" y="470.77" width="6.8" height="6.23" fill="#acdca6" stroke="#7fb878" stroke-width="0.5" />
<line x1="209.9" y1="470.77" x2="209.9" y2="466.27" stroke="#888" stroke-width="0.5" />
<line x1="209.0" y1="466.27" x2="210.8" y2="466.27" stroke="#888" stroke-width="0.5" />
<circle cx="209.9" cy="472.27" r="0.8" fill="none" stroke="#999" stroke-width="0.35" />
<rect x="223.6" y="474.54" width="6.8" height="2.46" fill="#d2d2d2" stroke="#888" stroke-width="0.5" />
<circle cx="225.8" cy="475.14" r="0.75" fill="none" stroke="#999" stroke-width="0.35" />
<circle cx="228.2" cy="475.14" r="0.75" fill="none" stroke="#999" stroke-width="0.35" />
<rect x="234.0" y="465.68" width="6.8" height="11.32" fill="#acdca6" stroke="#7fb878" stroke-width="0.5" />
<line x1="237.4" y1="465.68" x2="237.4" y2="461.18" stroke="#888" stroke-width="0.5" />
<line x1="236.5" y1="461.18" x2="238.3" y2="461.18" stroke="#888" stroke-width="0.5" />
<circle cx="237.4" cy="467.18" r="0.8" fill="none" stroke="#999" stroke-width="0.35" />
<rect x="251.3" y="407.2" width="6.8" height="69.8" fill="#d2d2d2" stroke="#888" stroke-width="0.5" />
<circle cx="253.4" cy="408.1" r="0.75" fill="none" stroke="#999" stroke-width="0.35" />
<circle cx="254.7" cy="408.1" r="0.75" fill="none" stroke="#999" stroke-width="0.35" />
<circle cx="256.0" cy="408.1" r="0.75" fill="none" stroke="#999" stroke-width="0.35" />
<rect x="261.6" y="429.16" width="6.8" height="47.84" fill="#acdca6" stroke="#7fb878" stroke-width="0.5" />
<circle cx="263.7" cy="430.06" r="0.75" fill="none" stroke="#999" stroke-width="0.35" />
<circle cx="265.0" cy="430.06" r="0.75" fill="none" stroke="#999" stroke-width="0.35" />
<circle cx="266.3" cy="430.06" r="0.75" fill="none" stroke="#999" stroke-width="0.35" />
<rect x="278.0" y="392.19" width="6.8" height="84.81" fill="#d2d2d2" stroke="#888" stroke-width="0.5" />
<circle cx="280.1" cy="393.09" r="0.75" fill="none" stroke="#999" stroke-width="0.35" />
<circle cx="281.4" cy="393.09" r="0.75" fill="none" stroke="#999" stroke-width="0.35" />
<circle cx="282.7" cy="393.09" r="0.75" fill="none" stroke="#999" stroke-width="0.35" />
<rect x="288.6" y="401.36" width="6.8" height="75.64" fill="#acdca6" stroke="#7fb878" stroke-width="0.5" />
<circle cx="290.7" cy="402.26" r="0.75" fill="none" stroke="#999" stroke-width="0.35" />
<circle cx="292.0" cy="402.26" r="0.75" fill="none" stroke="#999" stroke-width="0.35" />
<circle cx="293.3" cy="402.26" r="0.75" fill="none" stroke="#999" stroke-width="0.35" />
<rect x="248" y="457.6" width="50" height="4.0" fill="#fff" stroke="none" stroke-width="0.6" />
<line x1="188.1" y1="477.0" x2="299.0" y2="477.0" stroke="#707070" stroke-width="0.7" />
<line x1="205.0" y1="477.0" x2="205.0" y2="479.5" stroke="#707070" stroke-width="0.7" />
<line x1="232.4" y1="477.0" x2="232.4" y2="479.5" stroke="#707070" stroke-width="0.7" />
<line x1="259.7" y1="477.0" x2="259.7" y2="479.5" stroke="#707070" stroke-width="0.7" />
<line x1="286.4" y1="477.0" x2="286.4" y2="479.5" stroke="#707070" stroke-width="0.7" />
<path d="M254.7,403.4 V373.5 H281.4 V382.0" fill="none" stroke="#a0a0a0" stroke-width="0.5" />
<text x="252.7" y="370.5" font-size="6.1" fill="#2e2e2e" stroke="#2e2e2e" stroke-width="0.122" textLength="32.1" lengthAdjust="spacingAndGlyphs"><tspan font-style="italic">P</tspan><tspan> &lt; 0.0001</tspan></text>
<path d="M254.7,403.4 V396.3 H265.0 V423.7" fill="none" stroke="#a0a0a0" stroke-width="0.5" />
<text x="232.4" y="392.0" font-size="6.1" fill="#2e2e2e" stroke="#2e2e2e" stroke-width="0.122" textLength="32.2" lengthAdjust="spacingAndGlyphs"><tspan font-style="italic">P</tspan><tspan> &lt; 0.0001</tspan></text>
<path d="M265.6,396.3 V388.7 H292.0 V397.8" fill="none" stroke="#a0a0a0" stroke-width="0.5" />
<text x="266.6" y="386.2" font-size="6.1" fill="#2e2e2e" stroke="#2e2e2e" stroke-width="0.122" textLength="32.1" lengthAdjust="spacingAndGlyphs"><tspan font-style="italic">P</tspan><tspan> &lt; 0.0001</tspan></text>
<text x="192.5" y="489.95" font-size="8.2" text-anchor="end" stroke="#231f20" stroke-width="0.164" textLength="16.74" lengthAdjust="spacingAndGlyphs">VSV</text>
<text x="205.0" y="489.74" font-size="7.6" text-anchor="middle" stroke="#231f20" stroke-width="0.152" textLength="4.1" lengthAdjust="spacingAndGlyphs">–</text>
<text x="232.4" y="489.74" font-size="7.6" text-anchor="middle" stroke="#231f20" stroke-width="0.152" textLength="4.1" lengthAdjust="spacingAndGlyphs">–</text>
<text x="259.7" y="489.74" font-size="7.6" text-anchor="middle" stroke="#231f20" stroke-width="0.152" textLength="4.31" lengthAdjust="spacingAndGlyphs">+</text>
<text x="286.4" y="489.74" font-size="7.6" text-anchor="middle" stroke="#231f20" stroke-width="0.152" textLength="4.31" lengthAdjust="spacingAndGlyphs">+</text>
<text x="192.5" y="502.95" font-size="8.2" text-anchor="end" stroke="#231f20" stroke-width="0.164" textLength="18.12" lengthAdjust="spacingAndGlyphs">DMF</text>
<text x="205.0" y="502.74" font-size="7.6" text-anchor="middle" stroke="#231f20" stroke-width="0.152" textLength="4.1" lengthAdjust="spacingAndGlyphs">–</text>
<text x="232.4" y="502.74" font-size="7.6" text-anchor="middle" stroke="#231f20" stroke-width="0.152" textLength="4.31" lengthAdjust="spacingAndGlyphs">+</text>
<text x="259.7" y="502.74" font-size="7.6" text-anchor="middle" stroke="#231f20" stroke-width="0.152" textLength="4.1" lengthAdjust="spacingAndGlyphs">–</text>
<text x="286.4" y="502.74" font-size="7.6" text-anchor="middle" stroke="#231f20" stroke-width="0.152" textLength="4.31" lengthAdjust="spacingAndGlyphs">+</text>
<line x1="330.5" y1="377.3" x2="330.5" y2="477.0" stroke="#707070" stroke-width="0.7" />
<line x1="325.9" y1="477.0" x2="330.5" y2="477.0" stroke="#707070" stroke-width="0.7" />
<text x="321.9" y="479.7" font-size="7.5" text-anchor="end" fill="#222" stroke="#222" stroke-width="0.083" textLength="4.8" lengthAdjust="spacingAndGlyphs">0</text>
<line x1="325.9" y1="452.07" x2="330.5" y2="452.07" stroke="#707070" stroke-width="0.7" />
<text x="321.9" y="454.77" font-size="7.5" text-anchor="end" fill="#222" stroke="#222" stroke-width="0.083" textLength="11.99" lengthAdjust="spacingAndGlyphs">0.5</text>
<line x1="325.9" y1="427.15" x2="330.5" y2="427.15" stroke="#707070" stroke-width="0.7" />
<text x="321.9" y="429.85" font-size="7.5" text-anchor="end" fill="#222" stroke="#222" stroke-width="0.083" textLength="11.99" lengthAdjust="spacingAndGlyphs">1.0</text>
<line x1="325.9" y1="402.23" x2="330.5" y2="402.23" stroke="#707070" stroke-width="0.7" />
<text x="321.9" y="404.93" font-size="7.5" text-anchor="end" fill="#222" stroke="#222" stroke-width="0.083" textLength="11.99" lengthAdjust="spacingAndGlyphs">1.5</text>
<line x1="325.9" y1="377.3" x2="330.5" y2="377.3" stroke="#707070" stroke-width="0.7" />
<text x="321.9" y="380.0" font-size="7.5" text-anchor="end" fill="#222" stroke="#222" stroke-width="0.083" textLength="11.99" lengthAdjust="spacingAndGlyphs">2.0</text>
<text x="363.5" y="357.7" font-size="8.2" text-anchor="middle" stroke="#231f20" stroke-width="0.164" textLength="17.2" lengthAdjust="spacingAndGlyphs">VSV</text>
<rect x="334.25" y="427.15" width="7.7" height="49.85" fill="#d2d2d2" stroke="#888" stroke-width="0.5" />
<circle cx="336.9" cy="427.15" r="0.85" fill="none" stroke="#999" stroke-width="0.4" />
<circle cx="338.1" cy="427.15" r="0.85" fill="none" stroke="#999" stroke-width="0.4" />
<circle cx="339.3" cy="427.15" r="0.85" fill="none" stroke="#999" stroke-width="0.4" />
<rect x="348.65" y="395.74" width="7.7" height="81.26" fill="#acdca6" stroke="#7fb878" stroke-width="0.5" />
<line x1="352.5" y1="395.74" x2="352.5" y2="395.25" stroke="#888" stroke-width="0.5" />
<line x1="351.7" y1="395.25" x2="353.3" y2="395.25" stroke="#888" stroke-width="0.5" />
<line x1="352.5" y1="395.74" x2="352.5" y2="396.24" stroke="#999" stroke-width="0.5" />
<line x1="351.7" y1="396.24" x2="353.3" y2="396.24" stroke="#999" stroke-width="0.5" />
<circle cx="351.3" cy="395.25" r="0.85" fill="none" stroke="#999" stroke-width="0.4" />
<circle cx="352.5" cy="395.74" r="0.85" fill="none" stroke="#999" stroke-width="0.4" />
<circle cx="353.7" cy="395.74" r="0.85" fill="none" stroke="#999" stroke-width="0.4" />
<rect x="370.95" y="442.11" width="7.7" height="34.89" fill="#d2d2d2" stroke="#888" stroke-width="0.5" />
<line x1="374.8" y1="442.11" x2="374.8" y2="439.61" stroke="#888" stroke-width="0.5" />
<line x1="374.0" y1="439.61" x2="375.6" y2="439.61" stroke="#888" stroke-width="0.5" />
<line x1="374.8" y1="442.11" x2="374.8" y2="444.6" stroke="#999" stroke-width="0.5" />
<line x1="374.0" y1="444.6" x2="375.6" y2="444.6" stroke="#999" stroke-width="0.5" />
<circle cx="373.6" cy="440.11" r="0.85" fill="none" stroke="#999" stroke-width="0.4" />
<circle cx="374.8" cy="442.11" r="0.85" fill="none" stroke="#999" stroke-width="0.4" />
<circle cx="376.0" cy="444.1" r="0.85" fill="none" stroke="#999" stroke-width="0.4" />
<rect x="385.65" y="435.62" width="7.7" height="41.38" fill="#acdca6" stroke="#7fb878" stroke-width="0.5" />
<line x1="389.5" y1="435.62" x2="389.5" y2="433.63" stroke="#888" stroke-width="0.5" />
<line x1="388.7" y1="433.63" x2="390.3" y2="433.63" stroke="#888" stroke-width="0.5" />
<line x1="389.5" y1="435.62" x2="389.5" y2="437.62" stroke="#999" stroke-width="0.5" />
<line x1="388.7" y1="437.62" x2="390.3" y2="437.62" stroke="#999" stroke-width="0.5" />
<circle cx="388.3" cy="434.13" r="0.85" fill="none" stroke="#999" stroke-width="0.4" />
<circle cx="389.5" cy="435.62" r="0.85" fill="none" stroke="#999" stroke-width="0.4" />
<circle cx="390.7" cy="437.12" r="0.85" fill="none" stroke="#999" stroke-width="0.4" />
<line x1="330.5" y1="477.0" x2="396.8" y2="477.0" stroke="#707070" stroke-width="0.7" />
<line x1="344.4" y1="477.0" x2="344.4" y2="481.0" stroke="#707070" stroke-width="0.7" />
<line x1="381.6" y1="477.0" x2="381.6" y2="481.0" stroke="#707070" stroke-width="0.7" />
<path d="M338.6,385.7 V370.0 H374.3 V413.5" fill="none" stroke="#a0a0a0" stroke-width="0.5" />
<text x="340.6" y="368.0" font-size="6.1" fill="#2e2e2e" stroke="#2e2e2e" stroke-width="0.122" textLength="31.7" lengthAdjust="spacingAndGlyphs"><tspan font-style="italic">P</tspan><tspan> &lt; 0.0001</tspan></text>
<path d="M338.6,419.9 V387.0 H352.5 V392.0" fill="none" stroke="#a0a0a0" stroke-width="0.5" />
<text x="331.0" y="384.4" font-size="6.1" fill="#2e2e2e" stroke="#2e2e2e" stroke-width="0.122" textLength="31.0" lengthAdjust="spacingAndGlyphs"><tspan font-style="italic">P</tspan><tspan> &lt; 0.0001</tspan></text>
<path d="M355.5,392.0 V388.7 H387.5 V411.0" fill="none" stroke="#a0a0a0" stroke-width="0.5" />
<text x="362.9" y="386.2" font-size="6.1" fill="#2e2e2e" stroke="#2e2e2e" stroke-width="0.122" textLength="31.4" lengthAdjust="spacingAndGlyphs"><tspan font-style="italic">P</tspan><tspan> &lt; 0.0001</tspan></text>
<rect x="400.0" y="365.4" width="8.2" height="8.2" fill="#e0e0e0" stroke="#999" stroke-width="0.5" />
<text x="412.0" y="372.4" font-size="8.0" stroke="#231f20" stroke-width="0.16" textLength="30.5" lengthAdjust="spacingAndGlyphs"><tspan font-style="italic">ASS1</tspan><tspan dy="-3.36" font-size="4.96">+/+</tspan></text>
<rect x="400.0" y="379.8" width="8.2" height="8.2" fill="#acdca6" stroke="#7fb878" stroke-width="0.5" />
<text x="412.0" y="386.8" font-size="8.0" stroke="#231f20" stroke-width="0.16" textLength="30.5" lengthAdjust="spacingAndGlyphs"><tspan font-style="italic">ASS1</tspan><tspan dy="-3.36" font-size="4.96">−/−</tspan></text>
<text x="329.5" y="489.95" font-size="8.2" text-anchor="end" stroke="#231f20" stroke-width="0.164" textLength="16.74" lengthAdjust="spacingAndGlyphs">VSV</text>
<text x="344.4" y="489.74" font-size="7.6" text-anchor="middle" stroke="#231f20" stroke-width="0.152" textLength="4.31" lengthAdjust="spacingAndGlyphs">+</text>
<text x="381.6" y="489.74" font-size="7.6" text-anchor="middle" stroke="#231f20" stroke-width="0.152" textLength="4.31" lengthAdjust="spacingAndGlyphs">+</text>
<text x="329.5" y="502.95" font-size="8.2" text-anchor="end" stroke="#231f20" stroke-width="0.164" textLength="18.12" lengthAdjust="spacingAndGlyphs">DMF</text>
<text x="344.4" y="502.74" font-size="7.6" text-anchor="middle" stroke="#231f20" stroke-width="0.152" textLength="4.1" lengthAdjust="spacingAndGlyphs">–</text>
<text x="381.6" y="502.74" font-size="7.6" text-anchor="middle" stroke="#231f20" stroke-width="0.152" textLength="4.31" lengthAdjust="spacingAndGlyphs">+</text>
<text x="471.4" y="355.2" font-size="10.8" fill="#000" font-weight="bold" textLength="8.05" lengthAdjust="spacingAndGlyphs" stroke="#000" stroke-width="0.35">g</text>
<line x1="512.5" y1="376.0" x2="512.5" y2="476.9" stroke="#707070" stroke-width="0.7" />
<line x1="507.9" y1="476.9" x2="512.5" y2="476.9" stroke="#707070" stroke-width="0.7" />
<text x="503.9" y="479.6" font-size="7.5" text-anchor="end" fill="#222" stroke="#222" stroke-width="0.083" textLength="4.8" lengthAdjust="spacingAndGlyphs">0</text>
<line x1="507.9" y1="443.27" x2="512.5" y2="443.27" stroke="#707070" stroke-width="0.7" />
<text x="503.9" y="445.97" font-size="7.5" text-anchor="end" fill="#222" stroke="#222" stroke-width="0.083" textLength="14.39" lengthAdjust="spacingAndGlyphs">500</text>
<line x1="507.9" y1="409.63" x2="512.5" y2="409.63" stroke="#707070" stroke-width="0.7" />
<text x="503.9" y="412.33" font-size="7.5" text-anchor="end" fill="#222" stroke="#222" stroke-width="0.083" textLength="21.58" lengthAdjust="spacingAndGlyphs">1,000</text>
<line x1="507.9" y1="376.0" x2="512.5" y2="376.0" stroke="#707070" stroke-width="0.7" />
<text x="503.9" y="378.7" font-size="7.5" text-anchor="end" fill="#222" stroke="#222" stroke-width="0.083" textLength="21.58" lengthAdjust="spacingAndGlyphs">1,500</text>
<rect x="570.35" y="416.36" width="6.3" height="60.54" fill="#d2d2d2" stroke="#888" stroke-width="0.5" />
<line x1="573.5" y1="416.36" x2="573.5" y2="415.69" stroke="#888" stroke-width="0.5" />
<line x1="572.7" y1="415.69" x2="574.3" y2="415.69" stroke="#888" stroke-width="0.5" />
<line x1="573.5" y1="416.36" x2="573.5" y2="417.03" stroke="#999" stroke-width="0.5" />
<line x1="572.7" y1="417.03" x2="574.3" y2="417.03" stroke="#999" stroke-width="0.5" />
<circle cx="572.3" cy="415.69" r="0.85" fill="none" stroke="#999" stroke-width="0.4" />
<circle cx="573.5" cy="416.36" r="0.85" fill="none" stroke="#999" stroke-width="0.4" />
<circle cx="574.7" cy="417.03" r="0.85" fill="none" stroke="#999" stroke-width="0.4" />
<rect x="580.9" y="437.21" width="6.0" height="39.69" fill="#acdca6" stroke="#7fb878" stroke-width="0.5" />
<line x1="583.9" y1="437.21" x2="583.9" y2="436.88" stroke="#888" stroke-width="0.5" />
<line x1="583.1" y1="436.88" x2="584.7" y2="436.88" stroke="#888" stroke-width="0.5" />
<line x1="583.9" y1="437.21" x2="583.9" y2="437.55" stroke="#999" stroke-width="0.5" />
<line x1="583.1" y1="437.55" x2="584.7" y2="437.55" stroke="#999" stroke-width="0.5" />
<circle cx="582.7" cy="436.88" r="0.85" fill="none" stroke="#999" stroke-width="0.4" />
<circle cx="583.9" cy="437.21" r="0.85" fill="none" stroke="#999" stroke-width="0.4" />
<circle cx="585.1" cy="437.55" r="0.85" fill="none" stroke="#999" stroke-width="0.4" />
<rect x="596.95" y="401.56" width="6.3" height="75.34" fill="#d2d2d2" stroke="#888" stroke-width="0.5" />
<line x1="600.1" y1="401.56" x2="600.1" y2="400.55" stroke="#888" stroke-width="0.5" />
<line x1="599.3" y1="400.55" x2="600.9" y2="400.55" stroke="#888" stroke-width="0.5" />
<line x1="600.1" y1="401.56" x2="600.1" y2="402.57" stroke="#999" stroke-width="0.5" />
<line x1="599.3" y1="402.57" x2="600.9" y2="402.57" stroke="#999" stroke-width="0.5" />
<circle cx="598.9" cy="400.89" r="0.85" fill="none" stroke="#999" stroke-width="0.4" />
<circle cx="600.1" cy="401.56" r="0.85" fill="none" stroke="#999" stroke-width="0.4" />
<circle cx="601.3" cy="402.23" r="0.85" fill="none" stroke="#999" stroke-width="0.4" />
<rect x="607.6" y="415.01" width="6.4" height="61.89" fill="#acdca6" stroke="#7fb878" stroke-width="0.5" />
<line x1="610.8" y1="415.01" x2="610.8" y2="410.98" stroke="#888" stroke-width="0.5" />
<line x1="610.0" y1="410.98" x2="611.6" y2="410.98" stroke="#888" stroke-width="0.5" />
<line x1="610.8" y1="415.01" x2="610.8" y2="419.05" stroke="#999" stroke-width="0.5" />
<line x1="610.0" y1="419.05" x2="611.6" y2="419.05" stroke="#999" stroke-width="0.5" />
<circle cx="609.6" cy="410.98" r="0.85" fill="none" stroke="#999" stroke-width="0.4" />
<circle cx="610.8" cy="415.01" r="0.85" fill="none" stroke="#999" stroke-width="0.4" />
<circle cx="612.0" cy="417.71" r="0.85" fill="none" stroke="#999" stroke-width="0.4" />
<rect x="517.5" y="476.3" width="6.0" height="0.6" fill="#fff" stroke="#999" stroke-width="0.4" />
<circle cx="518.9" cy="476.0" r="0.8" fill="none" stroke="#999" stroke-width="0.35" />
<circle cx="520.5" cy="476.0" r="0.8" fill="none" stroke="#999" stroke-width="0.35" />
<circle cx="522.1" cy="476.0" r="0.8" fill="none" stroke="#999" stroke-width="0.35" />
<rect x="526.0" y="476.3" width="6.0" height="0.6" fill="#fff" stroke="#999" stroke-width="0.4" />
<circle cx="527.4" cy="476.0" r="0.8" fill="none" stroke="#999" stroke-width="0.35" />
<circle cx="529.0" cy="476.0" r="0.8" fill="none" stroke="#999" stroke-width="0.35" />
<circle cx="530.6" cy="476.0" r="0.8" fill="none" stroke="#999" stroke-width="0.35" />
<rect x="544.5" y="476.3" width="6.0" height="0.6" fill="#fff" stroke="#999" stroke-width="0.4" />
<circle cx="545.9" cy="476.0" r="0.8" fill="none" stroke="#999" stroke-width="0.35" />
<circle cx="547.5" cy="476.0" r="0.8" fill="none" stroke="#999" stroke-width="0.35" />
<circle cx="549.1" cy="476.0" r="0.8" fill="none" stroke="#999" stroke-width="0.35" />
<rect x="553.0" y="476.3" width="6.0" height="0.6" fill="#fff" stroke="#999" stroke-width="0.4" />
<circle cx="554.4" cy="476.0" r="0.8" fill="none" stroke="#999" stroke-width="0.35" />
<circle cx="556.0" cy="476.0" r="0.8" fill="none" stroke="#999" stroke-width="0.35" />
<circle cx="557.6" cy="476.0" r="0.8" fill="none" stroke="#999" stroke-width="0.35" />
<line x1="512.5" y1="476.9" x2="617.0" y2="476.9" stroke="#707070" stroke-width="0.7" />
<line x1="524.3" y1="476.9" x2="524.3" y2="480.9" stroke="#707070" stroke-width="0.7" />
<line x1="551.4" y1="476.9" x2="551.4" y2="480.9" stroke="#707070" stroke-width="0.7" />
<line x1="578.8" y1="476.9" x2="578.8" y2="480.9" stroke="#707070" stroke-width="0.7" />
<line x1="605.6" y1="476.9" x2="605.6" y2="480.9" stroke="#707070" stroke-width="0.7" />
<text x="478.0" y="426.5" font-size="8.4" text-anchor="middle" stroke="#231f20" stroke-width="0.235" textLength="57.7" lengthAdjust="spacingAndGlyphs" transform="rotate(-90 478.0 426.5)"><tspan>IFNβ (pg ml</tspan><tspan dy="-3.53" font-size="5.21">−1</tspan><tspan dy="3.53">)</tspan></text>
<rect x="522.6" y="365.3" width="8.2" height="8.2" fill="#e0e0e0" stroke="#999" stroke-width="0.5" />
<text x="535.0" y="372.3" font-size="8.0" stroke="#231f20" stroke-width="0.16" textLength="30.0" lengthAdjust="spacingAndGlyphs"><tspan font-style="italic">ASS1</tspan><tspan dy="-3.36" font-size="4.96">+/+</tspan></text>
<rect x="522.6" y="379.5" width="8.2" height="8.2" fill="#acdca6" stroke="#7fb878" stroke-width="0.5" />
<text x="535.0" y="386.5" font-size="8.0" stroke="#231f20" stroke-width="0.16" textLength="30.0" lengthAdjust="spacingAndGlyphs"><tspan font-style="italic">ASS1</tspan><tspan dy="-3.36" font-size="4.96">−/−</tspan></text>
<path d="M573.5,405.0 V381.9 H600.1 V392.0" fill="none" stroke="#a0a0a0" stroke-width="0.5" />
<text x="573.9" y="378.4" font-size="6.1" fill="#2e2e2e" stroke="#2e2e2e" stroke-width="0.122" textLength="28.8" lengthAdjust="spacingAndGlyphs"><tspan font-style="italic">P</tspan><tspan> &lt;0.0001</tspan></text>
<path d="M573.5,405.0 V404.4 H583.9 V435.2" fill="none" stroke="#a0a0a0" stroke-width="0.5" />
<text x="550.9" y="400.9" font-size="6.1" fill="#2e2e2e" stroke="#2e2e2e" stroke-width="0.122" textLength="29.4" lengthAdjust="spacingAndGlyphs"><tspan font-style="italic">P</tspan><tspan> &lt;0.0001</tspan></text>
<path d="M585.4,404.4 V395.7 H612.8 V410.7" fill="none" stroke="#a0a0a0" stroke-width="0.5" />
<text x="595.5" y="392.8" font-size="6.1" fill="#2e2e2e" stroke="#2e2e2e" stroke-width="0.122" textLength="28.8" lengthAdjust="spacingAndGlyphs"><tspan font-style="italic">P</tspan><tspan> &lt;0.0001</tspan></text>
<text x="512.0" y="490.95" font-size="8.2" text-anchor="end" stroke="#231f20" stroke-width="0.164" textLength="16.74" lengthAdjust="spacingAndGlyphs">VSV</text>
<text x="524.3" y="490.74" font-size="7.6" text-anchor="middle" stroke="#231f20" stroke-width="0.152" textLength="4.1" lengthAdjust="spacingAndGlyphs">–</text>
<text x="551.4" y="490.74" font-size="7.6" text-anchor="middle" stroke="#231f20" stroke-width="0.152" textLength="4.1" lengthAdjust="spacingAndGlyphs">–</text>
<text x="578.8" y="490.74" font-size="7.6" text-anchor="middle" stroke="#231f20" stroke-width="0.152" textLength="4.31" lengthAdjust="spacingAndGlyphs">+</text>
<text x="605.6" y="490.74" font-size="7.6" text-anchor="middle" stroke="#231f20" stroke-width="0.152" textLength="4.31" lengthAdjust="spacingAndGlyphs">+</text>
<text x="512.0" y="505.25" font-size="8.2" text-anchor="end" stroke="#231f20" stroke-width="0.164" textLength="18.12" lengthAdjust="spacingAndGlyphs">DMF</text>
<text x="524.3" y="505.04" font-size="7.6" text-anchor="middle" stroke="#231f20" stroke-width="0.152" textLength="4.1" lengthAdjust="spacingAndGlyphs">–</text>
<text x="551.4" y="505.04" font-size="7.6" text-anchor="middle" stroke="#231f20" stroke-width="0.152" textLength="4.31" lengthAdjust="spacingAndGlyphs">+</text>
<text x="578.8" y="505.04" font-size="7.6" text-anchor="middle" stroke="#231f20" stroke-width="0.152" textLength="4.1" lengthAdjust="spacingAndGlyphs">–</text>
<text x="605.6" y="505.04" font-size="7.6" text-anchor="middle" stroke="#231f20" stroke-width="0.152" textLength="4.31" lengthAdjust="spacingAndGlyphs">+</text>
<text x="0.0" y="532.2" font-size="10.8" fill="#000" font-weight="bold" textLength="8.05" lengthAdjust="spacingAndGlyphs" stroke="#000" stroke-width="0.35">h</text>
<line x1="42.0" y1="567.5" x2="42.0" y2="667.9" stroke="#707070" stroke-width="0.7" />
<line x1="37.5" y1="667.9" x2="42.0" y2="667.9" stroke="#707070" stroke-width="0.7" />
<text x="35.0" y="670.6" font-size="7.5" text-anchor="end" fill="#222" stroke="#222" stroke-width="0.083" textLength="4.8" lengthAdjust="spacingAndGlyphs">0</text>
<line x1="37.5" y1="634.43" x2="42.0" y2="634.43" stroke="#707070" stroke-width="0.7" />
<text x="35.0" y="637.13" font-size="7.5" text-anchor="end" fill="#222" stroke="#222" stroke-width="0.083" textLength="14.39" lengthAdjust="spacingAndGlyphs">100</text>
<line x1="37.5" y1="600.97" x2="42.0" y2="600.97" stroke="#707070" stroke-width="0.7" />
<text x="35.0" y="603.67" font-size="7.5" text-anchor="end" fill="#222" stroke="#222" stroke-width="0.083" textLength="14.39" lengthAdjust="spacingAndGlyphs">200</text>
<line x1="37.5" y1="567.5" x2="42.0" y2="567.5" stroke="#707070" stroke-width="0.7" />
<text x="35.0" y="570.2" font-size="7.5" text-anchor="end" fill="#222" stroke="#222" stroke-width="0.083" textLength="14.39" lengthAdjust="spacingAndGlyphs">300</text>
<line x1="42.0" y1="667.9" x2="192.9" y2="667.9" stroke="#707070" stroke-width="0.7" />
<line x1="42.0" y1="667.9" x2="42.0" y2="671.1" stroke="#707070" stroke-width="0.7" />
<text x="42.0" y="682.3" font-size="7.5" text-anchor="middle" fill="#222" stroke="#222" stroke-width="0.083" textLength="4.8" lengthAdjust="spacingAndGlyphs">0</text>
<line x1="72.08" y1="667.9" x2="72.08" y2="671.1" stroke="#707070" stroke-width="0.7" />
<text x="72.08" y="682.3" font-size="7.5" text-anchor="middle" fill="#222" stroke="#222" stroke-width="0.083" textLength="9.59" lengthAdjust="spacingAndGlyphs">20</text>
<line x1="102.16" y1="667.9" x2="102.16" y2="671.1" stroke="#707070" stroke-width="0.7" />
<text x="102.16" y="682.3" font-size="7.5" text-anchor="middle" fill="#222" stroke="#222" stroke-width="0.083" textLength="9.59" lengthAdjust="spacingAndGlyphs">40</text>
<line x1="132.24" y1="667.9" x2="132.24" y2="671.1" stroke="#707070" stroke-width="0.7" />
<text x="132.24" y="682.3" font-size="7.5" text-anchor="middle" fill="#222" stroke="#222" stroke-width="0.083" textLength="9.59" lengthAdjust="spacingAndGlyphs">60</text>
<line x1="162.32" y1="667.9" x2="162.32" y2="671.1" stroke="#707070" stroke-width="0.7" />
<text x="162.32" y="682.3" font-size="7.5" text-anchor="middle" fill="#222" stroke="#222" stroke-width="0.083" textLength="9.59" lengthAdjust="spacingAndGlyphs">80</text>
<line x1="192.4" y1="667.9" x2="192.4" y2="671.1" stroke="#707070" stroke-width="0.7" />
<text x="192.4" y="682.3" font-size="7.5" text-anchor="middle" fill="#222" stroke="#222" stroke-width="0.083" textLength="14.39" lengthAdjust="spacingAndGlyphs">100</text>
<text x="95.0" y="695.1" font-size="8.2" stroke="#231f20" stroke-width="0.164" textLength="45.0" lengthAdjust="spacingAndGlyphs">Time (min)</text>
<text x="10.2" y="619.0" font-size="8.4" text-anchor="middle" stroke="#231f20" stroke-width="0.235" textLength="72.7" lengthAdjust="spacingAndGlyphs" transform="rotate(-90 10.2 619.0)"><tspan>OCR (pmol min</tspan><tspan dy="-3.53" font-size="5.21">−1</tspan><tspan dy="3.53">)</tspan></text>
<polyline points="43.80,622.72 53.73,623.39 64.56,623.39 74.79,649.49 84.71,649.49 95.09,649.49 105.47,649.49 115.55,616.03 125.47,612.68 136.00,605.99 145.93,600.97 156.15,661.88 166.23,661.21 176.61,661.21" fill="none" stroke="#9fd49a" stroke-width="0.7" stroke-linejoin="round"/>
<line x1="43.8" y1="619.37" x2="43.8" y2="626.07" stroke="#9fd49a" stroke-width="0.45" />
<line x1="42.7" y1="619.37" x2="44.9" y2="619.37" stroke="#9fd49a" stroke-width="0.45" />
<line x1="42.7" y1="626.07" x2="44.9" y2="626.07" stroke="#9fd49a" stroke-width="0.45" />
<line x1="53.73" y1="620.71" x2="53.73" y2="626.07" stroke="#9fd49a" stroke-width="0.45" />
<line x1="52.63" y1="620.71" x2="54.83" y2="620.71" stroke="#9fd49a" stroke-width="0.45" />
<line x1="52.63" y1="626.07" x2="54.83" y2="626.07" stroke="#9fd49a" stroke-width="0.45" />
<line x1="64.56" y1="620.71" x2="64.56" y2="626.07" stroke="#9fd49a" stroke-width="0.45" />
<line x1="63.46" y1="620.71" x2="65.66" y2="620.71" stroke="#9fd49a" stroke-width="0.45" />
<line x1="63.46" y1="626.07" x2="65.66" y2="626.07" stroke="#9fd49a" stroke-width="0.45" />
<line x1="74.79" y1="648.15" x2="74.79" y2="650.83" stroke="#9fd49a" stroke-width="0.45" />
<line x1="73.69" y1="648.15" x2="75.89" y2="648.15" stroke="#9fd49a" stroke-width="0.45" />
<line x1="73.69" y1="650.83" x2="75.89" y2="650.83" stroke="#9fd49a" stroke-width="0.45" />
<line x1="84.71" y1="648.15" x2="84.71" y2="650.83" stroke="#9fd49a" stroke-width="0.45" />
<line x1="83.61" y1="648.15" x2="85.81" y2="648.15" stroke="#9fd49a" stroke-width="0.45" />
<line x1="83.61" y1="650.83" x2="85.81" y2="650.83" stroke="#9fd49a" stroke-width="0.45" />
<line x1="95.09" y1="648.15" x2="95.09" y2="650.83" stroke="#9fd49a" stroke-width="0.45" />
<line x1="93.99" y1="648.15" x2="96.19" y2="648.15" stroke="#9fd49a" stroke-width="0.45" />
<line x1="93.99" y1="650.83" x2="96.19" y2="650.83" stroke="#9fd49a" stroke-width="0.45" />
<line x1="105.47" y1="648.15" x2="105.47" y2="650.83" stroke="#9fd49a" stroke-width="0.45" />
<line x1="104.37" y1="648.15" x2="106.57" y2="648.15" stroke="#9fd49a" stroke-width="0.45" />
<line x1="104.37" y1="650.83" x2="106.57" y2="650.83" stroke="#9fd49a" stroke-width="0.45" />
<line x1="115.55" y1="611.34" x2="115.55" y2="620.71" stroke="#9fd49a" stroke-width="0.45" />
<line x1="114.45" y1="611.34" x2="116.65" y2="611.34" stroke="#9fd49a" stroke-width="0.45" />
<line x1="114.45" y1="620.71" x2="116.65" y2="620.71" stroke="#9fd49a" stroke-width="0.45" />
<line x1="125.47" y1="607.33" x2="125.47" y2="618.03" stroke="#9fd49a" stroke-width="0.45" />
<line x1="124.37" y1="607.33" x2="126.57" y2="607.33" stroke="#9fd49a" stroke-width="0.45" />
<line x1="124.37" y1="618.03" x2="126.57" y2="618.03" stroke="#9fd49a" stroke-width="0.45" />
<line x1="136.0" y1="599.29" x2="136.0" y2="612.68" stroke="#9fd49a" stroke-width="0.45" />
<line x1="134.9" y1="599.29" x2="137.1" y2="599.29" stroke="#9fd49a" stroke-width="0.45" />
<line x1="134.9" y1="612.68" x2="137.1" y2="612.68" stroke="#9fd49a" stroke-width="0.45" />
<line x1="145.93" y1="592.93" x2="145.93" y2="609.0" stroke="#9fd49a" stroke-width="0.45" />
<line x1="144.83" y1="592.93" x2="147.03" y2="592.93" stroke="#9fd49a" stroke-width="0.45" />
<line x1="144.83" y1="609.0" x2="147.03" y2="609.0" stroke="#9fd49a" stroke-width="0.45" />
<line x1="156.15" y1="660.87" x2="156.15" y2="662.88" stroke="#9fd49a" stroke-width="0.45" />
<line x1="155.05" y1="660.87" x2="157.25" y2="660.87" stroke="#9fd49a" stroke-width="0.45" />
<line x1="155.05" y1="662.88" x2="157.25" y2="662.88" stroke="#9fd49a" stroke-width="0.45" />
<line x1="166.23" y1="660.2" x2="166.23" y2="662.21" stroke="#9fd49a" stroke-width="0.45" />
<line x1="165.13" y1="660.2" x2="167.33" y2="660.2" stroke="#9fd49a" stroke-width="0.45" />
<line x1="165.13" y1="662.21" x2="167.33" y2="662.21" stroke="#9fd49a" stroke-width="0.45" />
<line x1="176.61" y1="660.2" x2="176.61" y2="662.21" stroke="#9fd49a" stroke-width="0.45" />
<line x1="175.51" y1="660.2" x2="177.71" y2="660.2" stroke="#9fd49a" stroke-width="0.45" />
<line x1="175.51" y1="662.21" x2="177.71" y2="662.21" stroke="#9fd49a" stroke-width="0.45" />
<path d="M42.15,624.07 L45.45,624.07 L43.80,621.07 z" fill="#9fd49a" stroke="#9fd49a" stroke-width="0.3" />
<path d="M52.08,624.74 L55.38,624.74 L53.73,621.74 z" fill="#9fd49a" stroke="#9fd49a" stroke-width="0.3" />
<path d="M62.91,624.74 L66.21,624.74 L64.56,621.74 z" fill="#9fd49a" stroke="#9fd49a" stroke-width="0.3" />
<path d="M73.14,650.84 L76.44,650.84 L74.79,647.84 z" fill="#9fd49a" stroke="#9fd49a" stroke-width="0.3" />
<path d="M83.06,650.84 L86.36,650.84 L84.71,647.84 z" fill="#9fd49a" stroke="#9fd49a" stroke-width="0.3" />
<path d="M93.44,650.84 L96.74,650.84 L95.09,647.84 z" fill="#9fd49a" stroke="#9fd49a" stroke-width="0.3" />
<path d="M103.82,650.84 L107.12,650.84 L105.47,647.84 z" fill="#9fd49a" stroke="#9fd49a" stroke-width="0.3" />
<path d="M113.90,617.38 L117.20,617.38 L115.55,614.38 z" fill="#9fd49a" stroke="#9fd49a" stroke-width="0.3" />
<path d="M123.82,614.03 L127.12,614.03 L125.47,611.03 z" fill="#9fd49a" stroke="#9fd49a" stroke-width="0.3" />
<path d="M134.35,607.34 L137.65,607.34 L136.00,604.34 z" fill="#9fd49a" stroke="#9fd49a" stroke-width="0.3" />
<path d="M144.28,602.32 L147.58,602.32 L145.93,599.32 z" fill="#9fd49a" stroke="#9fd49a" stroke-width="0.3" />
<path d="M154.50,663.23 L157.80,663.23 L156.15,660.23 z" fill="#9fd49a" stroke="#9fd49a" stroke-width="0.3" />
<path d="M164.58,662.56 L167.88,662.56 L166.23,659.56 z" fill="#9fd49a" stroke="#9fd49a" stroke-width="0.3" />
<path d="M174.96,662.56 L178.26,662.56 L176.61,659.56 z" fill="#9fd49a" stroke="#9fd49a" stroke-width="0.3" />
<polyline points="43.80,609.00 53.73,611.01 64.56,611.01 74.79,646.15 84.71,646.15 95.09,646.48 105.47,647.49 115.55,602.97 125.47,595.95 136.00,590.26 145.93,585.91 156.15,659.87 166.23,659.37 176.61,658.86" fill="none" stroke="#9b9b9b" stroke-width="0.7" stroke-linejoin="round"/>
<line x1="43.8" y1="606.32" x2="43.8" y2="611.68" stroke="#9b9b9b" stroke-width="0.45" />
<line x1="42.7" y1="606.32" x2="44.9" y2="606.32" stroke="#9b9b9b" stroke-width="0.45" />
<line x1="42.7" y1="611.68" x2="44.9" y2="611.68" stroke="#9b9b9b" stroke-width="0.45" />
<line x1="53.73" y1="609.0" x2="53.73" y2="613.01" stroke="#9b9b9b" stroke-width="0.45" />
<line x1="52.63" y1="609.0" x2="54.83" y2="609.0" stroke="#9b9b9b" stroke-width="0.45" />
<line x1="52.63" y1="613.01" x2="54.83" y2="613.01" stroke="#9b9b9b" stroke-width="0.45" />
<line x1="64.56" y1="609.0" x2="64.56" y2="613.01" stroke="#9b9b9b" stroke-width="0.45" />
<line x1="63.46" y1="609.0" x2="65.66" y2="609.0" stroke="#9b9b9b" stroke-width="0.45" />
<line x1="63.46" y1="613.01" x2="65.66" y2="613.01" stroke="#9b9b9b" stroke-width="0.45" />
<line x1="74.79" y1="644.81" x2="74.79" y2="647.49" stroke="#9b9b9b" stroke-width="0.45" />
<line x1="73.69" y1="644.81" x2="75.89" y2="644.81" stroke="#9b9b9b" stroke-width="0.45" />
<line x1="73.69" y1="647.49" x2="75.89" y2="647.49" stroke="#9b9b9b" stroke-width="0.45" />
<line x1="84.71" y1="644.81" x2="84.71" y2="647.49" stroke="#9b9b9b" stroke-width="0.45" />
<line x1="83.61" y1="644.81" x2="85.81" y2="644.81" stroke="#9b9b9b" stroke-width="0.45" />
<line x1="83.61" y1="647.49" x2="85.81" y2="647.49" stroke="#9b9b9b" stroke-width="0.45" />
<line x1="95.09" y1="645.14" x2="95.09" y2="647.82" stroke="#9b9b9b" stroke-width="0.45" />
<line x1="93.99" y1="645.14" x2="96.19" y2="645.14" stroke="#9b9b9b" stroke-width="0.45" />
<line x1="93.99" y1="647.82" x2="96.19" y2="647.82" stroke="#9b9b9b" stroke-width="0.45" />
<line x1="105.47" y1="646.15" x2="105.47" y2="648.82" stroke="#9b9b9b" stroke-width="0.45" />
<line x1="104.37" y1="646.15" x2="106.57" y2="646.15" stroke="#9b9b9b" stroke-width="0.45" />
<line x1="104.37" y1="648.82" x2="106.57" y2="648.82" stroke="#9b9b9b" stroke-width="0.45" />
<line x1="115.55" y1="598.96" x2="115.55" y2="606.99" stroke="#9b9b9b" stroke-width="0.45" />
<line x1="114.45" y1="598.96" x2="116.65" y2="598.96" stroke="#9b9b9b" stroke-width="0.45" />
<line x1="114.45" y1="606.99" x2="116.65" y2="606.99" stroke="#9b9b9b" stroke-width="0.45" />
<line x1="125.47" y1="591.26" x2="125.47" y2="600.63" stroke="#9b9b9b" stroke-width="0.45" />
<line x1="124.37" y1="591.26" x2="126.57" y2="591.26" stroke="#9b9b9b" stroke-width="0.45" />
<line x1="124.37" y1="600.63" x2="126.57" y2="600.63" stroke="#9b9b9b" stroke-width="0.45" />
<line x1="136.0" y1="584.9" x2="136.0" y2="595.61" stroke="#9b9b9b" stroke-width="0.45" />
<line x1="134.9" y1="584.9" x2="137.1" y2="584.9" stroke="#9b9b9b" stroke-width="0.45" />
<line x1="134.9" y1="595.61" x2="137.1" y2="595.61" stroke="#9b9b9b" stroke-width="0.45" />
<line x1="145.93" y1="579.88" x2="145.93" y2="591.93" stroke="#9b9b9b" stroke-width="0.45" />
<line x1="144.83" y1="579.88" x2="147.03" y2="579.88" stroke="#9b9b9b" stroke-width="0.45" />
<line x1="144.83" y1="591.93" x2="147.03" y2="591.93" stroke="#9b9b9b" stroke-width="0.45" />
<line x1="156.15" y1="658.53" x2="156.15" y2="661.21" stroke="#9b9b9b" stroke-width="0.45" />
<line x1="155.05" y1="658.53" x2="157.25" y2="658.53" stroke="#9b9b9b" stroke-width="0.45" />
<line x1="155.05" y1="661.21" x2="157.25" y2="661.21" stroke="#9b9b9b" stroke-width="0.45" />
<line x1="166.23" y1="658.03" x2="166.23" y2="660.7" stroke="#9b9b9b" stroke-width="0.45" />
<line x1="165.13" y1="658.03" x2="167.33" y2="658.03" stroke="#9b9b9b" stroke-width="0.45" />
<line x1="165.13" y1="660.7" x2="167.33" y2="660.7" stroke="#9b9b9b" stroke-width="0.45" />
<line x1="176.61" y1="657.53" x2="176.61" y2="660.2" stroke="#9b9b9b" stroke-width="0.45" />
<line x1="175.51" y1="657.53" x2="177.71" y2="657.53" stroke="#9b9b9b" stroke-width="0.45" />
<line x1="175.51" y1="660.2" x2="177.71" y2="660.2" stroke="#9b9b9b" stroke-width="0.45" />
<circle cx="43.8" cy="609.0" r="1.8" fill="#9b9b9b" stroke="#9b9b9b" stroke-width="0.3" />
<circle cx="53.73" cy="611.01" r="1.8" fill="#9b9b9b" stroke="#9b9b9b" stroke-width="0.3" />
<circle cx="64.56" cy="611.01" r="1.8" fill="#9b9b9b" stroke="#9b9b9b" stroke-width="0.3" />
<circle cx="74.79" cy="646.15" r="1.8" fill="#9b9b9b" stroke="#9b9b9b" stroke-width="0.3" />
<circle cx="84.71" cy="646.15" r="1.8" fill="#9b9b9b" stroke="#9b9b9b" stroke-width="0.3" />
<circle cx="95.09" cy="646.48" r="1.8" fill="#9b9b9b" stroke="#9b9b9b" stroke-width="0.3" />
<circle cx="105.47" cy="647.49" r="1.8" fill="#9b9b9b" stroke="#9b9b9b" stroke-width="0.3" />
<circle cx="115.55" cy="602.97" r="1.8" fill="#9b9b9b" stroke="#9b9b9b" stroke-width="0.3" />
<circle cx="125.47" cy="595.95" r="1.8" fill="#9b9b9b" stroke="#9b9b9b" stroke-width="0.3" />
<circle cx="136.0" cy="590.26" r="1.8" fill="#9b9b9b" stroke="#9b9b9b" stroke-width="0.3" />
<circle cx="145.93" cy="585.91" r="1.8" fill="#9b9b9b" stroke="#9b9b9b" stroke-width="0.3" />
<circle cx="156.15" cy="659.87" r="1.8" fill="#9b9b9b" stroke="#9b9b9b" stroke-width="0.3" />
<circle cx="166.23" cy="659.37" r="1.8" fill="#9b9b9b" stroke="#9b9b9b" stroke-width="0.3" />
<circle cx="176.61" cy="658.86" r="1.8" fill="#9b9b9b" stroke="#9b9b9b" stroke-width="0.3" />
<polyline points="43.80,619.37 53.73,621.05 64.56,621.05 74.79,650.50 84.71,650.50 95.09,651.17 105.47,651.17 115.55,616.03 125.47,613.68 136.00,609.33 145.93,604.98 156.15,661.88 166.23,661.54 176.61,661.21" fill="none" stroke="#5f5f5f" stroke-width="0.9" stroke-linejoin="round"/>
<line x1="43.8" y1="616.7" x2="43.8" y2="622.05" stroke="#5f5f5f" stroke-width="0.45" />
<line x1="42.7" y1="616.7" x2="44.9" y2="616.7" stroke="#5f5f5f" stroke-width="0.45" />
<line x1="42.7" y1="622.05" x2="44.9" y2="622.05" stroke="#5f5f5f" stroke-width="0.45" />
<line x1="53.73" y1="619.04" x2="53.73" y2="623.05" stroke="#5f5f5f" stroke-width="0.45" />
<line x1="52.63" y1="619.04" x2="54.83" y2="619.04" stroke="#5f5f5f" stroke-width="0.45" />
<line x1="52.63" y1="623.05" x2="54.83" y2="623.05" stroke="#5f5f5f" stroke-width="0.45" />
<line x1="64.56" y1="619.04" x2="64.56" y2="623.05" stroke="#5f5f5f" stroke-width="0.45" />
<line x1="63.46" y1="619.04" x2="65.66" y2="619.04" stroke="#5f5f5f" stroke-width="0.45" />
<line x1="63.46" y1="623.05" x2="65.66" y2="623.05" stroke="#5f5f5f" stroke-width="0.45" />
<line x1="74.79" y1="649.49" x2="74.79" y2="651.5" stroke="#5f5f5f" stroke-width="0.45" />
<line x1="73.69" y1="649.49" x2="75.89" y2="649.49" stroke="#5f5f5f" stroke-width="0.45" />
<line x1="73.69" y1="651.5" x2="75.89" y2="651.5" stroke="#5f5f5f" stroke-width="0.45" />
<line x1="84.71" y1="649.49" x2="84.71" y2="651.5" stroke="#5f5f5f" stroke-width="0.45" />
<line x1="83.61" y1="649.49" x2="85.81" y2="649.49" stroke="#5f5f5f" stroke-width="0.45" />
<line x1="83.61" y1="651.5" x2="85.81" y2="651.5" stroke="#5f5f5f" stroke-width="0.45" />
<line x1="95.09" y1="650.16" x2="95.09" y2="652.17" stroke="#5f5f5f" stroke-width="0.45" />
<line x1="93.99" y1="650.16" x2="96.19" y2="650.16" stroke="#5f5f5f" stroke-width="0.45" />
<line x1="93.99" y1="652.17" x2="96.19" y2="652.17" stroke="#5f5f5f" stroke-width="0.45" />
<line x1="105.47" y1="650.16" x2="105.47" y2="652.17" stroke="#5f5f5f" stroke-width="0.45" />
<line x1="104.37" y1="650.16" x2="106.57" y2="650.16" stroke="#5f5f5f" stroke-width="0.45" />
<line x1="104.37" y1="652.17" x2="106.57" y2="652.17" stroke="#5f5f5f" stroke-width="0.45" />
<line x1="115.55" y1="612.68" x2="115.55" y2="619.37" stroke="#5f5f5f" stroke-width="0.45" />
<line x1="114.45" y1="612.68" x2="116.65" y2="612.68" stroke="#5f5f5f" stroke-width="0.45" />
<line x1="114.45" y1="619.37" x2="116.65" y2="619.37" stroke="#5f5f5f" stroke-width="0.45" />
<line x1="125.47" y1="610.34" x2="125.47" y2="617.03" stroke="#5f5f5f" stroke-width="0.45" />
<line x1="124.37" y1="610.34" x2="126.57" y2="610.34" stroke="#5f5f5f" stroke-width="0.45" />
<line x1="124.37" y1="617.03" x2="126.57" y2="617.03" stroke="#5f5f5f" stroke-width="0.45" />
<line x1="136.0" y1="605.32" x2="136.0" y2="613.35" stroke="#5f5f5f" stroke-width="0.45" />
<line x1="134.9" y1="605.32" x2="137.1" y2="605.32" stroke="#5f5f5f" stroke-width="0.45" />
<line x1="134.9" y1="613.35" x2="137.1" y2="613.35" stroke="#5f5f5f" stroke-width="0.45" />
<line x1="145.93" y1="600.97" x2="145.93" y2="609.0" stroke="#5f5f5f" stroke-width="0.45" />
<line x1="144.83" y1="600.97" x2="147.03" y2="600.97" stroke="#5f5f5f" stroke-width="0.45" />
<line x1="144.83" y1="609.0" x2="147.03" y2="609.0" stroke="#5f5f5f" stroke-width="0.45" />
<line x1="156.15" y1="660.87" x2="156.15" y2="662.88" stroke="#5f5f5f" stroke-width="0.45" />
<line x1="155.05" y1="660.87" x2="157.25" y2="660.87" stroke="#5f5f5f" stroke-width="0.45" />
<line x1="155.05" y1="662.88" x2="157.25" y2="662.88" stroke="#5f5f5f" stroke-width="0.45" />
<line x1="166.23" y1="660.54" x2="166.23" y2="662.55" stroke="#5f5f5f" stroke-width="0.45" />
<line x1="165.13" y1="660.54" x2="167.33" y2="660.54" stroke="#5f5f5f" stroke-width="0.45" />
<line x1="165.13" y1="662.55" x2="167.33" y2="662.55" stroke="#5f5f5f" stroke-width="0.45" />
<line x1="176.61" y1="660.2" x2="176.61" y2="662.21" stroke="#5f5f5f" stroke-width="0.45" />
<line x1="175.51" y1="660.2" x2="177.71" y2="660.2" stroke="#5f5f5f" stroke-width="0.45" />
<line x1="175.51" y1="662.21" x2="177.71" y2="662.21" stroke="#5f5f5f" stroke-width="0.45" />
<rect x="42.1" y="617.67" width="3.4" height="3.4" fill="#5f5f5f" stroke="#5f5f5f" stroke-width="0.3" />
<rect x="52.03" y="619.35" width="3.4" height="3.4" fill="#5f5f5f" stroke="#5f5f5f" stroke-width="0.3" />
<rect x="62.86" y="619.35" width="3.4" height="3.4" fill="#5f5f5f" stroke="#5f5f5f" stroke-width="0.3" />
<rect x="73.09" y="648.8" width="3.4" height="3.4" fill="#5f5f5f" stroke="#5f5f5f" stroke-width="0.3" />
<rect x="83.01" y="648.8" width="3.4" height="3.4" fill="#5f5f5f" stroke="#5f5f5f" stroke-width="0.3" />
<rect x="93.39" y="649.47" width="3.4" height="3.4" fill="#5f5f5f" stroke="#5f5f5f" stroke-width="0.3" />
<rect x="103.77" y="649.47" width="3.4" height="3.4" fill="#5f5f5f" stroke="#5f5f5f" stroke-width="0.3" />
<rect x="113.85" y="614.33" width="3.4" height="3.4" fill="#5f5f5f" stroke="#5f5f5f" stroke-width="0.3" />
<rect x="123.77" y="611.98" width="3.4" height="3.4" fill="#5f5f5f" stroke="#5f5f5f" stroke-width="0.3" />
<rect x="134.3" y="607.63" width="3.4" height="3.4" fill="#5f5f5f" stroke="#5f5f5f" stroke-width="0.3" />
<rect x="144.23" y="603.28" width="3.4" height="3.4" fill="#5f5f5f" stroke="#5f5f5f" stroke-width="0.3" />
<rect x="154.45" y="660.18" width="3.4" height="3.4" fill="#5f5f5f" stroke="#5f5f5f" stroke-width="0.3" />
<rect x="164.53" y="659.84" width="3.4" height="3.4" fill="#5f5f5f" stroke="#5f5f5f" stroke-width="0.3" />
<rect x="174.91" y="659.51" width="3.4" height="3.4" fill="#5f5f5f" stroke="#5f5f5f" stroke-width="0.3" />
<polyline points="43.80,630.42 53.73,631.76 64.56,631.76 74.79,653.84 84.71,653.51 95.09,654.18 105.47,654.51 115.55,621.72 125.47,619.37 136.00,616.03 145.93,613.35 156.15,662.88 166.23,662.21 176.61,662.21" fill="none" stroke="#178a17" stroke-width="0.9" stroke-linejoin="round"/>
<line x1="43.8" y1="627.74" x2="43.8" y2="633.09" stroke="#178a17" stroke-width="0.45" />
<line x1="42.7" y1="627.74" x2="44.9" y2="627.74" stroke="#178a17" stroke-width="0.45" />
<line x1="42.7" y1="633.09" x2="44.9" y2="633.09" stroke="#178a17" stroke-width="0.45" />
<line x1="53.73" y1="629.08" x2="53.73" y2="634.43" stroke="#178a17" stroke-width="0.45" />
<line x1="52.63" y1="629.08" x2="54.83" y2="629.08" stroke="#178a17" stroke-width="0.45" />
<line x1="52.63" y1="634.43" x2="54.83" y2="634.43" stroke="#178a17" stroke-width="0.45" />
<line x1="64.56" y1="629.08" x2="64.56" y2="634.43" stroke="#178a17" stroke-width="0.45" />
<line x1="63.46" y1="629.08" x2="65.66" y2="629.08" stroke="#178a17" stroke-width="0.45" />
<line x1="63.46" y1="634.43" x2="65.66" y2="634.43" stroke="#178a17" stroke-width="0.45" />
<line x1="74.79" y1="652.84" x2="74.79" y2="654.85" stroke="#178a17" stroke-width="0.45" />
<line x1="73.69" y1="652.84" x2="75.89" y2="652.84" stroke="#178a17" stroke-width="0.45" />
<line x1="73.69" y1="654.85" x2="75.89" y2="654.85" stroke="#178a17" stroke-width="0.45" />
<line x1="84.71" y1="652.51" x2="84.71" y2="654.51" stroke="#178a17" stroke-width="0.45" />
<line x1="83.61" y1="652.51" x2="85.81" y2="652.51" stroke="#178a17" stroke-width="0.45" />
<line x1="83.61" y1="654.51" x2="85.81" y2="654.51" stroke="#178a17" stroke-width="0.45" />
<line x1="95.09" y1="653.17" x2="95.09" y2="655.18" stroke="#178a17" stroke-width="0.45" />
<line x1="93.99" y1="653.17" x2="96.19" y2="653.17" stroke="#178a17" stroke-width="0.45" />
<line x1="93.99" y1="655.18" x2="96.19" y2="655.18" stroke="#178a17" stroke-width="0.45" />
<line x1="105.47" y1="653.51" x2="105.47" y2="655.52" stroke="#178a17" stroke-width="0.45" />
<line x1="104.37" y1="653.51" x2="106.57" y2="653.51" stroke="#178a17" stroke-width="0.45" />
<line x1="104.37" y1="655.52" x2="106.57" y2="655.52" stroke="#178a17" stroke-width="0.45" />
<line x1="115.55" y1="618.37" x2="115.55" y2="625.06" stroke="#178a17" stroke-width="0.45" />
<line x1="114.45" y1="618.37" x2="116.65" y2="618.37" stroke="#178a17" stroke-width="0.45" />
<line x1="114.45" y1="625.06" x2="116.65" y2="625.06" stroke="#178a17" stroke-width="0.45" />
<line x1="125.47" y1="615.36" x2="125.47" y2="623.39" stroke="#178a17" stroke-width="0.45" />
<line x1="124.37" y1="615.36" x2="126.57" y2="615.36" stroke="#178a17" stroke-width="0.45" />
<line x1="124.37" y1="623.39" x2="126.57" y2="623.39" stroke="#178a17" stroke-width="0.45" />
<line x1="136.0" y1="611.34" x2="136.0" y2="620.71" stroke="#178a17" stroke-width="0.45" />
<line x1="134.9" y1="611.34" x2="137.1" y2="611.34" stroke="#178a17" stroke-width="0.45" />
<line x1="134.9" y1="620.71" x2="137.1" y2="620.71" stroke="#178a17" stroke-width="0.45" />
<line x1="145.93" y1="608.66" x2="145.93" y2="618.03" stroke="#178a17" stroke-width="0.45" />
<line x1="144.83" y1="608.66" x2="147.03" y2="608.66" stroke="#178a17" stroke-width="0.45" />
<line x1="144.83" y1="618.03" x2="147.03" y2="618.03" stroke="#178a17" stroke-width="0.45" />
<line x1="156.15" y1="662.21" x2="156.15" y2="663.55" stroke="#178a17" stroke-width="0.45" />
<line x1="155.05" y1="662.21" x2="157.25" y2="662.21" stroke="#178a17" stroke-width="0.45" />
<line x1="155.05" y1="663.55" x2="157.25" y2="663.55" stroke="#178a17" stroke-width="0.45" />
<line x1="166.23" y1="661.54" x2="166.23" y2="662.88" stroke="#178a17" stroke-width="0.45" />
<line x1="165.13" y1="661.54" x2="167.33" y2="661.54" stroke="#178a17" stroke-width="0.45" />
<line x1="165.13" y1="662.88" x2="167.33" y2="662.88" stroke="#178a17" stroke-width="0.45" />
<line x1="176.61" y1="661.54" x2="176.61" y2="662.88" stroke="#178a17" stroke-width="0.45" />
<line x1="175.51" y1="661.54" x2="177.71" y2="661.54" stroke="#178a17" stroke-width="0.45" />
<line x1="175.51" y1="662.88" x2="177.71" y2="662.88" stroke="#178a17" stroke-width="0.45" />
<circle cx="43.8" cy="630.42" r="1.8" fill="#178a17" stroke="#178a17" stroke-width="0.3" />
<circle cx="53.73" cy="631.76" r="1.8" fill="#178a17" stroke="#178a17" stroke-width="0.3" />
<circle cx="64.56" cy="631.76" r="1.8" fill="#178a17" stroke="#178a17" stroke-width="0.3" />
<circle cx="74.79" cy="653.84" r="1.8" fill="#178a17" stroke="#178a17" stroke-width="0.3" />
<circle cx="84.71" cy="653.51" r="1.8" fill="#178a17" stroke="#178a17" stroke-width="0.3" />
<circle cx="95.09" cy="654.18" r="1.8" fill="#178a17" stroke="#178a17" stroke-width="0.3" />
<circle cx="105.47" cy="654.51" r="1.8" fill="#178a17" stroke="#178a17" stroke-width="0.3" />
<circle cx="115.55" cy="621.72" r="1.8" fill="#178a17" stroke="#178a17" stroke-width="0.3" />
<circle cx="125.47" cy="619.37" r="1.8" fill="#178a17" stroke="#178a17" stroke-width="0.3" />
<circle cx="136.0" cy="616.03" r="1.8" fill="#178a17" stroke="#178a17" stroke-width="0.3" />
<circle cx="145.93" cy="613.35" r="1.8" fill="#178a17" stroke="#178a17" stroke-width="0.3" />
<circle cx="156.15" cy="662.88" r="1.8" fill="#178a17" stroke="#178a17" stroke-width="0.3" />
<circle cx="166.23" cy="662.21" r="1.8" fill="#178a17" stroke="#178a17" stroke-width="0.3" />
<circle cx="176.61" cy="662.21" r="1.8" fill="#178a17" stroke="#178a17" stroke-width="0.3" />
<line x1="45.0" y1="536.1" x2="62.8" y2="536.1" stroke="#9b9b9b" stroke-width="0.7" />
<circle cx="53.9" cy="536.1" r="1.8" fill="#9b9b9b" stroke="#9b9b9b" stroke-width="0.3" />
<text x="66.4" y="539.0" font-size="8.4" stroke="#231f20" stroke-width="0.168" textLength="29.2" lengthAdjust="spacingAndGlyphs"><tspan font-style="italic">ASS1</tspan><tspan dy="-3.53" font-size="5.21">+/+</tspan></text>
<line x1="45.0" y1="548.2" x2="62.8" y2="548.2" stroke="#9fd49a" stroke-width="0.7" />
<path d="M52.25,549.55 L55.55,549.55 L53.90,546.55 z" fill="#9fd49a" stroke="#9fd49a" stroke-width="0.3" />
<text x="66.4" y="551.1" font-size="8.4" stroke="#231f20" stroke-width="0.168" textLength="29.2" lengthAdjust="spacingAndGlyphs"><tspan font-style="italic">ASS1</tspan><tspan dy="-3.53" font-size="5.21">−/−</tspan></text>
<line x1="45.0" y1="560.9" x2="62.8" y2="560.9" stroke="#5f5f5f" stroke-width="1.1" />
<rect x="52.2" y="559.2" width="3.4" height="3.4" fill="#5f5f5f" stroke="#5f5f5f" stroke-width="0.3" />
<text x="66.4" y="563.8" font-size="8.4" stroke="#231f20" stroke-width="0.168" textLength="52.2" lengthAdjust="spacingAndGlyphs"><tspan font-style="italic">ASS1</tspan><tspan dy="-3.53" font-size="5.21">+/+</tspan><tspan dy="3.53">, VSV</tspan></text>
<line x1="45.0" y1="574.1" x2="62.8" y2="574.1" stroke="#178a17" stroke-width="1.1" />
<circle cx="53.9" cy="574.1" r="1.8" fill="#178a17" stroke="#178a17" stroke-width="0.3" />
<text x="66.4" y="577.0" font-size="8.4" stroke="#231f20" stroke-width="0.168" textLength="52.2" lengthAdjust="spacingAndGlyphs"><tspan font-style="italic">ASS1</tspan><tspan dy="-3.53" font-size="5.21">−/−</tspan><tspan dy="3.53">, VSV</tspan></text>
<text x="358.4" y="741.3" font-size="10.8" fill="#000" font-weight="bold" textLength="7.33" lengthAdjust="spacingAndGlyphs" stroke="#000" stroke-width="0.35">k</text>
<line x1="396.4" y1="776.6" x2="396.4" y2="877.3" stroke="#707070" stroke-width="0.7" />
<line x1="391.9" y1="877.3" x2="396.4" y2="877.3" stroke="#707070" stroke-width="0.7" />
<text x="389.8" y="880.0" font-size="7.5" text-anchor="end" fill="#222" stroke="#222" stroke-width="0.083" textLength="4.8" lengthAdjust="spacingAndGlyphs">0</text>
<line x1="391.9" y1="843.73" x2="396.4" y2="843.73" stroke="#707070" stroke-width="0.7" />
<text x="389.8" y="846.43" font-size="7.5" text-anchor="end" fill="#222" stroke="#222" stroke-width="0.083" textLength="14.39" lengthAdjust="spacingAndGlyphs">100</text>
<line x1="391.9" y1="810.17" x2="396.4" y2="810.17" stroke="#707070" stroke-width="0.7" />
<text x="389.8" y="812.87" font-size="7.5" text-anchor="end" fill="#222" stroke="#222" stroke-width="0.083" textLength="14.39" lengthAdjust="spacingAndGlyphs">200</text>
<line x1="391.9" y1="776.6" x2="396.4" y2="776.6" stroke="#707070" stroke-width="0.7" />
<text x="389.8" y="779.3" font-size="7.5" text-anchor="end" fill="#222" stroke="#222" stroke-width="0.083" textLength="14.39" lengthAdjust="spacingAndGlyphs">300</text>
<line x1="396.4" y1="877.3" x2="547.5" y2="877.3" stroke="#707070" stroke-width="0.7" />
<line x1="396.4" y1="877.3" x2="396.4" y2="880.5" stroke="#707070" stroke-width="0.7" />
<text x="396.4" y="891.5" font-size="7.5" text-anchor="middle" fill="#222" stroke="#222" stroke-width="0.083" textLength="4.8" lengthAdjust="spacingAndGlyphs">0</text>
<line x1="426.52" y1="877.3" x2="426.52" y2="880.5" stroke="#707070" stroke-width="0.7" />
<text x="426.52" y="891.5" font-size="7.5" text-anchor="middle" fill="#222" stroke="#222" stroke-width="0.083" textLength="9.59" lengthAdjust="spacingAndGlyphs">20</text>
<line x1="456.64" y1="877.3" x2="456.64" y2="880.5" stroke="#707070" stroke-width="0.7" />
<text x="456.64" y="891.5" font-size="7.5" text-anchor="middle" fill="#222" stroke="#222" stroke-width="0.083" textLength="9.59" lengthAdjust="spacingAndGlyphs">40</text>
<line x1="486.76" y1="877.3" x2="486.76" y2="880.5" stroke="#707070" stroke-width="0.7" />
<text x="486.76" y="891.5" font-size="7.5" text-anchor="middle" fill="#222" stroke="#222" stroke-width="0.083" textLength="9.59" lengthAdjust="spacingAndGlyphs">60</text>
<line x1="516.88" y1="877.3" x2="516.88" y2="880.5" stroke="#707070" stroke-width="0.7" />
<text x="516.88" y="891.5" font-size="7.5" text-anchor="middle" fill="#222" stroke="#222" stroke-width="0.083" textLength="9.59" lengthAdjust="spacingAndGlyphs">80</text>
<line x1="547.0" y1="877.3" x2="547.0" y2="880.5" stroke="#707070" stroke-width="0.7" />
<text x="547.0" y="891.5" font-size="7.5" text-anchor="middle" fill="#222" stroke="#222" stroke-width="0.083" textLength="14.39" lengthAdjust="spacingAndGlyphs">100</text>
<text x="449.7" y="903.7" font-size="8.2" stroke="#231f20" stroke-width="0.164" textLength="44.1" lengthAdjust="spacingAndGlyphs">Time (min)</text>
<text x="366.0" y="827.5" font-size="8.4" text-anchor="middle" stroke="#231f20" stroke-width="0.235" textLength="75.5" lengthAdjust="spacingAndGlyphs" transform="rotate(-90 366.0 827.5)"><tspan>OCR (pmol min</tspan><tspan dy="-3.53" font-size="5.21">−1</tspan><tspan dy="3.53">)</tspan></text>
<polyline points="398.21,834.33 408.15,834.33 418.99,834.33 429.23,858.84 439.17,858.84 449.56,858.84 459.95,858.84 470.04,831.99 479.98,831.31 490.52,829.64 500.46,828.63 510.71,866.22 520.80,866.22 531.19,866.22" fill="none" stroke="#9fd49a" stroke-width="0.7" stroke-linejoin="round"/>
<line x1="398.21" y1="828.29" x2="398.21" y2="840.38" stroke="#9fd49a" stroke-width="0.45" />
<line x1="397.11" y1="828.29" x2="399.31" y2="828.29" stroke="#9fd49a" stroke-width="0.45" />
<line x1="397.11" y1="840.38" x2="399.31" y2="840.38" stroke="#9fd49a" stroke-width="0.45" />
<line x1="408.15" y1="828.96" x2="408.15" y2="839.71" stroke="#9fd49a" stroke-width="0.45" />
<line x1="407.05" y1="828.96" x2="409.25" y2="828.96" stroke="#9fd49a" stroke-width="0.45" />
<line x1="407.05" y1="839.71" x2="409.25" y2="839.71" stroke="#9fd49a" stroke-width="0.45" />
<line x1="418.99" y1="828.96" x2="418.99" y2="839.71" stroke="#9fd49a" stroke-width="0.45" />
<line x1="417.89" y1="828.96" x2="420.09" y2="828.96" stroke="#9fd49a" stroke-width="0.45" />
<line x1="417.89" y1="839.71" x2="420.09" y2="839.71" stroke="#9fd49a" stroke-width="0.45" />
<line x1="429.23" y1="856.82" x2="429.23" y2="860.85" stroke="#9fd49a" stroke-width="0.45" />
<line x1="428.13" y1="856.82" x2="430.33" y2="856.82" stroke="#9fd49a" stroke-width="0.45" />
<line x1="428.13" y1="860.85" x2="430.33" y2="860.85" stroke="#9fd49a" stroke-width="0.45" />
<line x1="439.17" y1="856.82" x2="439.17" y2="860.85" stroke="#9fd49a" stroke-width="0.45" />
<line x1="438.07" y1="856.82" x2="440.27" y2="856.82" stroke="#9fd49a" stroke-width="0.45" />
<line x1="438.07" y1="860.85" x2="440.27" y2="860.85" stroke="#9fd49a" stroke-width="0.45" />
<line x1="449.56" y1="856.82" x2="449.56" y2="860.85" stroke="#9fd49a" stroke-width="0.45" />
<line x1="448.46" y1="856.82" x2="450.66" y2="856.82" stroke="#9fd49a" stroke-width="0.45" />
<line x1="448.46" y1="860.85" x2="450.66" y2="860.85" stroke="#9fd49a" stroke-width="0.45" />
<line x1="459.95" y1="856.82" x2="459.95" y2="860.85" stroke="#9fd49a" stroke-width="0.45" />
<line x1="458.85" y1="856.82" x2="461.05" y2="856.82" stroke="#9fd49a" stroke-width="0.45" />
<line x1="458.85" y1="860.85" x2="461.05" y2="860.85" stroke="#9fd49a" stroke-width="0.45" />
<line x1="470.04" y1="825.94" x2="470.04" y2="838.03" stroke="#9fd49a" stroke-width="0.45" />
<line x1="468.94" y1="825.94" x2="471.14" y2="825.94" stroke="#9fd49a" stroke-width="0.45" />
<line x1="468.94" y1="838.03" x2="471.14" y2="838.03" stroke="#9fd49a" stroke-width="0.45" />
<line x1="479.98" y1="825.27" x2="479.98" y2="837.36" stroke="#9fd49a" stroke-width="0.45" />
<line x1="478.88" y1="825.27" x2="481.08" y2="825.27" stroke="#9fd49a" stroke-width="0.45" />
<line x1="478.88" y1="837.36" x2="481.08" y2="837.36" stroke="#9fd49a" stroke-width="0.45" />
<line x1="490.52" y1="823.59" x2="490.52" y2="835.68" stroke="#9fd49a" stroke-width="0.45" />
<line x1="489.42" y1="823.59" x2="491.62" y2="823.59" stroke="#9fd49a" stroke-width="0.45" />
<line x1="489.42" y1="835.68" x2="491.62" y2="835.68" stroke="#9fd49a" stroke-width="0.45" />
<line x1="500.46" y1="822.59" x2="500.46" y2="834.67" stroke="#9fd49a" stroke-width="0.45" />
<line x1="499.36" y1="822.59" x2="501.56" y2="822.59" stroke="#9fd49a" stroke-width="0.45" />
<line x1="499.36" y1="834.67" x2="501.56" y2="834.67" stroke="#9fd49a" stroke-width="0.45" />
<line x1="510.71" y1="865.22" x2="510.71" y2="867.23" stroke="#9fd49a" stroke-width="0.45" />
<line x1="509.61" y1="865.22" x2="511.81" y2="865.22" stroke="#9fd49a" stroke-width="0.45" />
<line x1="509.61" y1="867.23" x2="511.81" y2="867.23" stroke="#9fd49a" stroke-width="0.45" />
<line x1="520.8" y1="865.22" x2="520.8" y2="867.23" stroke="#9fd49a" stroke-width="0.45" />
<line x1="519.7" y1="865.22" x2="521.9" y2="865.22" stroke="#9fd49a" stroke-width="0.45" />
<line x1="519.7" y1="867.23" x2="521.9" y2="867.23" stroke="#9fd49a" stroke-width="0.45" />
<line x1="531.19" y1="865.22" x2="531.19" y2="867.23" stroke="#9fd49a" stroke-width="0.45" />
<line x1="530.09" y1="865.22" x2="532.29" y2="865.22" stroke="#9fd49a" stroke-width="0.45" />
<line x1="530.09" y1="867.23" x2="532.29" y2="867.23" stroke="#9fd49a" stroke-width="0.45" />
<path d="M396.56,835.68 L399.86,835.68 L398.21,832.68 z" fill="#9fd49a" stroke="#9fd49a" stroke-width="0.3" />
<path d="M406.50,835.68 L409.80,835.68 L408.15,832.68 z" fill="#9fd49a" stroke="#9fd49a" stroke-width="0.3" />
<path d="M417.34,835.68 L420.64,835.68 L418.99,832.68 z" fill="#9fd49a" stroke="#9fd49a" stroke-width="0.3" />
<path d="M427.58,860.19 L430.88,860.19 L429.23,857.19 z" fill="#9fd49a" stroke="#9fd49a" stroke-width="0.3" />
<path d="M437.52,860.19 L440.82,860.19 L439.17,857.19 z" fill="#9fd49a" stroke="#9fd49a" stroke-width="0.3" />
<path d="M447.91,860.19 L451.21,860.19 L449.56,857.19 z" fill="#9fd49a" stroke="#9fd49a" stroke-width="0.3" />
<path d="M458.30,860.19 L461.60,860.19 L459.95,857.19 z" fill="#9fd49a" stroke="#9fd49a" stroke-width="0.3" />
<path d="M468.39,833.34 L471.69,833.34 L470.04,830.34 z" fill="#9fd49a" stroke="#9fd49a" stroke-width="0.3" />
<path d="M478.33,832.66 L481.63,832.66 L479.98,829.66 z" fill="#9fd49a" stroke="#9fd49a" stroke-width="0.3" />
<path d="M488.88,830.99 L492.17,830.99 L490.52,827.99 z" fill="#9fd49a" stroke="#9fd49a" stroke-width="0.3" />
<path d="M498.81,829.98 L502.11,829.98 L500.46,826.98 z" fill="#9fd49a" stroke="#9fd49a" stroke-width="0.3" />
<path d="M509.06,867.57 L512.36,867.57 L510.71,864.57 z" fill="#9fd49a" stroke="#9fd49a" stroke-width="0.3" />
<path d="M519.15,867.57 L522.45,867.57 L520.80,864.57 z" fill="#9fd49a" stroke="#9fd49a" stroke-width="0.3" />
<path d="M529.54,867.57 L532.84,867.57 L531.19,864.57 z" fill="#9fd49a" stroke="#9fd49a" stroke-width="0.3" />
<polyline points="398.21,824.26 408.15,826.95 418.99,827.62 429.23,856.49 439.17,856.49 449.56,857.16 459.95,857.16 470.04,817.55 479.98,818.56 490.52,817.55 500.46,815.20 510.71,866.22 520.80,866.22 531.19,866.22" fill="none" stroke="#9b9b9b" stroke-width="0.7" stroke-linejoin="round"/>
<line x1="398.21" y1="820.91" x2="398.21" y2="827.62" stroke="#9b9b9b" stroke-width="0.45" />
<line x1="397.11" y1="820.91" x2="399.31" y2="820.91" stroke="#9b9b9b" stroke-width="0.45" />
<line x1="397.11" y1="827.62" x2="399.31" y2="827.62" stroke="#9b9b9b" stroke-width="0.45" />
<line x1="408.15" y1="824.26" x2="408.15" y2="829.64" stroke="#9b9b9b" stroke-width="0.45" />
<line x1="407.05" y1="824.26" x2="409.25" y2="824.26" stroke="#9b9b9b" stroke-width="0.45" />
<line x1="407.05" y1="829.64" x2="409.25" y2="829.64" stroke="#9b9b9b" stroke-width="0.45" />
<line x1="418.99" y1="824.94" x2="418.99" y2="830.31" stroke="#9b9b9b" stroke-width="0.45" />
<line x1="417.89" y1="824.94" x2="420.09" y2="824.94" stroke="#9b9b9b" stroke-width="0.45" />
<line x1="417.89" y1="830.31" x2="420.09" y2="830.31" stroke="#9b9b9b" stroke-width="0.45" />
<line x1="429.23" y1="854.81" x2="429.23" y2="858.17" stroke="#9b9b9b" stroke-width="0.45" />
<line x1="428.13" y1="854.81" x2="430.33" y2="854.81" stroke="#9b9b9b" stroke-width="0.45" />
<line x1="428.13" y1="858.17" x2="430.33" y2="858.17" stroke="#9b9b9b" stroke-width="0.45" />
<line x1="439.17" y1="854.81" x2="439.17" y2="858.17" stroke="#9b9b9b" stroke-width="0.45" />
<line x1="438.07" y1="854.81" x2="440.27" y2="854.81" stroke="#9b9b9b" stroke-width="0.45" />
<line x1="438.07" y1="858.17" x2="440.27" y2="858.17" stroke="#9b9b9b" stroke-width="0.45" />
<line x1="449.56" y1="855.48" x2="449.56" y2="858.84" stroke="#9b9b9b" stroke-width="0.45" />
<line x1="448.46" y1="855.48" x2="450.66" y2="855.48" stroke="#9b9b9b" stroke-width="0.45" />
<line x1="448.46" y1="858.84" x2="450.66" y2="858.84" stroke="#9b9b9b" stroke-width="0.45" />
<line x1="459.95" y1="855.48" x2="459.95" y2="858.84" stroke="#9b9b9b" stroke-width="0.45" />
<line x1="458.85" y1="855.48" x2="461.05" y2="855.48" stroke="#9b9b9b" stroke-width="0.45" />
<line x1="458.85" y1="858.84" x2="461.05" y2="858.84" stroke="#9b9b9b" stroke-width="0.45" />
<line x1="470.04" y1="812.85" x2="470.04" y2="822.25" stroke="#9b9b9b" stroke-width="0.45" />
<line x1="468.94" y1="812.85" x2="471.14" y2="812.85" stroke="#9b9b9b" stroke-width="0.45" />
<line x1="468.94" y1="822.25" x2="471.14" y2="822.25" stroke="#9b9b9b" stroke-width="0.45" />
<line x1="479.98" y1="813.86" x2="479.98" y2="823.26" stroke="#9b9b9b" stroke-width="0.45" />
<line x1="478.88" y1="813.86" x2="481.08" y2="813.86" stroke="#9b9b9b" stroke-width="0.45" />
<line x1="478.88" y1="823.26" x2="481.08" y2="823.26" stroke="#9b9b9b" stroke-width="0.45" />
<line x1="490.52" y1="812.85" x2="490.52" y2="822.25" stroke="#9b9b9b" stroke-width="0.45" />
<line x1="489.42" y1="812.85" x2="491.62" y2="812.85" stroke="#9b9b9b" stroke-width="0.45" />
<line x1="489.42" y1="822.25" x2="491.62" y2="822.25" stroke="#9b9b9b" stroke-width="0.45" />
<line x1="500.46" y1="810.5" x2="500.46" y2="819.9" stroke="#9b9b9b" stroke-width="0.45" />
<line x1="499.36" y1="810.5" x2="501.56" y2="810.5" stroke="#9b9b9b" stroke-width="0.45" />
<line x1="499.36" y1="819.9" x2="501.56" y2="819.9" stroke="#9b9b9b" stroke-width="0.45" />
<line x1="510.71" y1="865.22" x2="510.71" y2="867.23" stroke="#9b9b9b" stroke-width="0.45" />
<line x1="509.61" y1="865.22" x2="511.81" y2="865.22" stroke="#9b9b9b" stroke-width="0.45" />
<line x1="509.61" y1="867.23" x2="511.81" y2="867.23" stroke="#9b9b9b" stroke-width="0.45" />
<line x1="520.8" y1="865.22" x2="520.8" y2="867.23" stroke="#9b9b9b" stroke-width="0.45" />
<line x1="519.7" y1="865.22" x2="521.9" y2="865.22" stroke="#9b9b9b" stroke-width="0.45" />
<line x1="519.7" y1="867.23" x2="521.9" y2="867.23" stroke="#9b9b9b" stroke-width="0.45" />
<line x1="531.19" y1="865.22" x2="531.19" y2="867.23" stroke="#9b9b9b" stroke-width="0.45" />
<line x1="530.09" y1="865.22" x2="532.29" y2="865.22" stroke="#9b9b9b" stroke-width="0.45" />
<line x1="530.09" y1="867.23" x2="532.29" y2="867.23" stroke="#9b9b9b" stroke-width="0.45" />
<circle cx="398.21" cy="824.26" r="1.8" fill="#9b9b9b" stroke="#9b9b9b" stroke-width="0.3" />
<circle cx="408.15" cy="826.95" r="1.8" fill="#9b9b9b" stroke="#9b9b9b" stroke-width="0.3" />
<circle cx="418.99" cy="827.62" r="1.8" fill="#9b9b9b" stroke="#9b9b9b" stroke-width="0.3" />
<circle cx="429.23" cy="856.49" r="1.8" fill="#9b9b9b" stroke="#9b9b9b" stroke-width="0.3" />
<circle cx="439.17" cy="856.49" r="1.8" fill="#9b9b9b" stroke="#9b9b9b" stroke-width="0.3" />
<circle cx="449.56" cy="857.16" r="1.8" fill="#9b9b9b" stroke="#9b9b9b" stroke-width="0.3" />
<circle cx="459.95" cy="857.16" r="1.8" fill="#9b9b9b" stroke="#9b9b9b" stroke-width="0.3" />
<circle cx="470.04" cy="817.55" r="1.8" fill="#9b9b9b" stroke="#9b9b9b" stroke-width="0.3" />
<circle cx="479.98" cy="818.56" r="1.8" fill="#9b9b9b" stroke="#9b9b9b" stroke-width="0.3" />
<circle cx="490.52" cy="817.55" r="1.8" fill="#9b9b9b" stroke="#9b9b9b" stroke-width="0.3" />
<circle cx="500.46" cy="815.2" r="1.8" fill="#9b9b9b" stroke="#9b9b9b" stroke-width="0.3" />
<circle cx="510.71" cy="866.22" r="1.8" fill="#9b9b9b" stroke="#9b9b9b" stroke-width="0.3" />
<circle cx="520.8" cy="866.22" r="1.8" fill="#9b9b9b" stroke="#9b9b9b" stroke-width="0.3" />
<circle cx="531.19" cy="866.22" r="1.8" fill="#9b9b9b" stroke="#9b9b9b" stroke-width="0.3" />
<polyline points="398.21,815.87 408.15,817.55 418.99,816.88 429.23,853.80 439.17,853.80 449.56,854.47 459.95,854.47 470.04,808.49 479.98,810.17 490.52,807.48 500.46,806.81 510.71,865.89 520.80,865.89 531.19,865.89" fill="none" stroke="#178a17" stroke-width="0.8" stroke-linejoin="round" stroke-dasharray="2,1.3"/>
<line x1="398.21" y1="812.52" x2="398.21" y2="819.23" stroke="#178a17" stroke-width="0.45" />
<line x1="397.11" y1="812.52" x2="399.31" y2="812.52" stroke="#178a17" stroke-width="0.45" />
<line x1="397.11" y1="819.23" x2="399.31" y2="819.23" stroke="#178a17" stroke-width="0.45" />
<line x1="408.15" y1="814.87" x2="408.15" y2="820.24" stroke="#178a17" stroke-width="0.45" />
<line x1="407.05" y1="814.87" x2="409.25" y2="814.87" stroke="#178a17" stroke-width="0.45" />
<line x1="407.05" y1="820.24" x2="409.25" y2="820.24" stroke="#178a17" stroke-width="0.45" />
<line x1="418.99" y1="814.19" x2="418.99" y2="819.57" stroke="#178a17" stroke-width="0.45" />
<line x1="417.89" y1="814.19" x2="420.09" y2="814.19" stroke="#178a17" stroke-width="0.45" />
<line x1="417.89" y1="819.57" x2="420.09" y2="819.57" stroke="#178a17" stroke-width="0.45" />
<line x1="429.23" y1="852.46" x2="429.23" y2="855.15" stroke="#178a17" stroke-width="0.45" />
<line x1="428.13" y1="852.46" x2="430.33" y2="852.46" stroke="#178a17" stroke-width="0.45" />
<line x1="428.13" y1="855.15" x2="430.33" y2="855.15" stroke="#178a17" stroke-width="0.45" />
<line x1="439.17" y1="852.46" x2="439.17" y2="855.15" stroke="#178a17" stroke-width="0.45" />
<line x1="438.07" y1="852.46" x2="440.27" y2="852.46" stroke="#178a17" stroke-width="0.45" />
<line x1="438.07" y1="855.15" x2="440.27" y2="855.15" stroke="#178a17" stroke-width="0.45" />
<line x1="449.56" y1="853.13" x2="449.56" y2="855.82" stroke="#178a17" stroke-width="0.45" />
<line x1="448.46" y1="853.13" x2="450.66" y2="853.13" stroke="#178a17" stroke-width="0.45" />
<line x1="448.46" y1="855.82" x2="450.66" y2="855.82" stroke="#178a17" stroke-width="0.45" />
<line x1="459.95" y1="853.13" x2="459.95" y2="855.82" stroke="#178a17" stroke-width="0.45" />
<line x1="458.85" y1="853.13" x2="461.05" y2="853.13" stroke="#178a17" stroke-width="0.45" />
<line x1="458.85" y1="855.82" x2="461.05" y2="855.82" stroke="#178a17" stroke-width="0.45" />
<line x1="470.04" y1="803.12" x2="470.04" y2="813.86" stroke="#178a17" stroke-width="0.45" />
<line x1="468.94" y1="803.12" x2="471.14" y2="803.12" stroke="#178a17" stroke-width="0.45" />
<line x1="468.94" y1="813.86" x2="471.14" y2="813.86" stroke="#178a17" stroke-width="0.45" />
<line x1="479.98" y1="804.12" x2="479.98" y2="816.21" stroke="#178a17" stroke-width="0.45" />
<line x1="478.88" y1="804.12" x2="481.08" y2="804.12" stroke="#178a17" stroke-width="0.45" />
<line x1="478.88" y1="816.21" x2="481.08" y2="816.21" stroke="#178a17" stroke-width="0.45" />
<line x1="490.52" y1="801.44" x2="490.52" y2="813.52" stroke="#178a17" stroke-width="0.45" />
<line x1="489.42" y1="801.44" x2="491.62" y2="801.44" stroke="#178a17" stroke-width="0.45" />
<line x1="489.42" y1="813.52" x2="491.62" y2="813.52" stroke="#178a17" stroke-width="0.45" />
<line x1="500.46" y1="800.77" x2="500.46" y2="812.85" stroke="#178a17" stroke-width="0.45" />
<line x1="499.36" y1="800.77" x2="501.56" y2="800.77" stroke="#178a17" stroke-width="0.45" />
<line x1="499.36" y1="812.85" x2="501.56" y2="812.85" stroke="#178a17" stroke-width="0.45" />
<line x1="510.71" y1="864.88" x2="510.71" y2="866.89" stroke="#178a17" stroke-width="0.45" />
<line x1="509.61" y1="864.88" x2="511.81" y2="864.88" stroke="#178a17" stroke-width="0.45" />
<line x1="509.61" y1="866.89" x2="511.81" y2="866.89" stroke="#178a17" stroke-width="0.45" />
<line x1="520.8" y1="864.88" x2="520.8" y2="866.89" stroke="#178a17" stroke-width="0.45" />
<line x1="519.7" y1="864.88" x2="521.9" y2="864.88" stroke="#178a17" stroke-width="0.45" />
<line x1="519.7" y1="866.89" x2="521.9" y2="866.89" stroke="#178a17" stroke-width="0.45" />
<line x1="531.19" y1="864.88" x2="531.19" y2="866.89" stroke="#178a17" stroke-width="0.45" />
<line x1="530.09" y1="864.88" x2="532.29" y2="864.88" stroke="#178a17" stroke-width="0.45" />
<line x1="530.09" y1="866.89" x2="532.29" y2="866.89" stroke="#178a17" stroke-width="0.45" />
<circle cx="398.21" cy="815.87" r="1.6" fill="#178a17" stroke="#178a17" stroke-width="0.3" />
<circle cx="408.15" cy="817.55" r="1.6" fill="#178a17" stroke="#178a17" stroke-width="0.3" />
<circle cx="418.99" cy="816.88" r="1.6" fill="#178a17" stroke="#178a17" stroke-width="0.3" />
<circle cx="429.23" cy="853.8" r="1.6" fill="#178a17" stroke="#178a17" stroke-width="0.3" />
<circle cx="439.17" cy="853.8" r="1.6" fill="#178a17" stroke="#178a17" stroke-width="0.3" />
<circle cx="449.56" cy="854.47" r="1.6" fill="#178a17" stroke="#178a17" stroke-width="0.3" />
<circle cx="459.95" cy="854.47" r="1.6" fill="#178a17" stroke="#178a17" stroke-width="0.3" />
<circle cx="470.04" cy="808.49" r="1.6" fill="#178a17" stroke="#178a17" stroke-width="0.3" />
<circle cx="479.98" cy="810.17" r="1.6" fill="#178a17" stroke="#178a17" stroke-width="0.3" />
<circle cx="490.52" cy="807.48" r="1.6" fill="#178a17" stroke="#178a17" stroke-width="0.3" />
<circle cx="500.46" cy="806.81" r="1.6" fill="#178a17" stroke="#178a17" stroke-width="0.3" />
<circle cx="510.71" cy="865.89" r="1.6" fill="#178a17" stroke="#178a17" stroke-width="0.3" />
<circle cx="520.8" cy="865.89" r="1.6" fill="#178a17" stroke="#178a17" stroke-width="0.3" />
<circle cx="531.19" cy="865.89" r="1.6" fill="#178a17" stroke="#178a17" stroke-width="0.3" />
<polyline points="398.21,814.53 408.15,816.88 418.99,817.55 429.23,853.13 439.17,853.13 449.56,853.80 459.95,853.80 470.04,806.14 479.98,807.48 490.52,805.13 500.46,804.12 510.71,865.55 520.80,865.55 531.19,865.55" fill="none" stroke="#5f5f5f" stroke-width="0.8" stroke-linejoin="round" stroke-dasharray="2,1.3"/>
<line x1="398.21" y1="811.17" x2="398.21" y2="817.89" stroke="#5f5f5f" stroke-width="0.45" />
<line x1="397.11" y1="811.17" x2="399.31" y2="811.17" stroke="#5f5f5f" stroke-width="0.45" />
<line x1="397.11" y1="817.89" x2="399.31" y2="817.89" stroke="#5f5f5f" stroke-width="0.45" />
<line x1="408.15" y1="814.19" x2="408.15" y2="819.57" stroke="#5f5f5f" stroke-width="0.45" />
<line x1="407.05" y1="814.19" x2="409.25" y2="814.19" stroke="#5f5f5f" stroke-width="0.45" />
<line x1="407.05" y1="819.57" x2="409.25" y2="819.57" stroke="#5f5f5f" stroke-width="0.45" />
<line x1="418.99" y1="814.87" x2="418.99" y2="820.24" stroke="#5f5f5f" stroke-width="0.45" />
<line x1="417.89" y1="814.87" x2="420.09" y2="814.87" stroke="#5f5f5f" stroke-width="0.45" />
<line x1="417.89" y1="820.24" x2="420.09" y2="820.24" stroke="#5f5f5f" stroke-width="0.45" />
<line x1="429.23" y1="851.79" x2="429.23" y2="854.47" stroke="#5f5f5f" stroke-width="0.45" />
<line x1="428.13" y1="851.79" x2="430.33" y2="851.79" stroke="#5f5f5f" stroke-width="0.45" />
<line x1="428.13" y1="854.47" x2="430.33" y2="854.47" stroke="#5f5f5f" stroke-width="0.45" />
<line x1="439.17" y1="851.79" x2="439.17" y2="854.47" stroke="#5f5f5f" stroke-width="0.45" />
<line x1="438.07" y1="851.79" x2="440.27" y2="851.79" stroke="#5f5f5f" stroke-width="0.45" />
<line x1="438.07" y1="854.47" x2="440.27" y2="854.47" stroke="#5f5f5f" stroke-width="0.45" />
<line x1="449.56" y1="852.46" x2="449.56" y2="855.15" stroke="#5f5f5f" stroke-width="0.45" />
<line x1="448.46" y1="852.46" x2="450.66" y2="852.46" stroke="#5f5f5f" stroke-width="0.45" />
<line x1="448.46" y1="855.15" x2="450.66" y2="855.15" stroke="#5f5f5f" stroke-width="0.45" />
<line x1="459.95" y1="852.46" x2="459.95" y2="855.15" stroke="#5f5f5f" stroke-width="0.45" />
<line x1="458.85" y1="852.46" x2="461.05" y2="852.46" stroke="#5f5f5f" stroke-width="0.45" />
<line x1="458.85" y1="855.15" x2="461.05" y2="855.15" stroke="#5f5f5f" stroke-width="0.45" />
<line x1="470.04" y1="799.43" x2="470.04" y2="812.85" stroke="#5f5f5f" stroke-width="0.45" />
<line x1="468.94" y1="799.43" x2="471.14" y2="799.43" stroke="#5f5f5f" stroke-width="0.45" />
<line x1="468.94" y1="812.85" x2="471.14" y2="812.85" stroke="#5f5f5f" stroke-width="0.45" />
<line x1="479.98" y1="800.1" x2="479.98" y2="814.87" stroke="#5f5f5f" stroke-width="0.45" />
<line x1="478.88" y1="800.1" x2="481.08" y2="800.1" stroke="#5f5f5f" stroke-width="0.45" />
<line x1="478.88" y1="814.87" x2="481.08" y2="814.87" stroke="#5f5f5f" stroke-width="0.45" />
<line x1="490.52" y1="797.75" x2="490.52" y2="812.52" stroke="#5f5f5f" stroke-width="0.45" />
<line x1="489.42" y1="797.75" x2="491.62" y2="797.75" stroke="#5f5f5f" stroke-width="0.45" />
<line x1="489.42" y1="812.52" x2="491.62" y2="812.52" stroke="#5f5f5f" stroke-width="0.45" />
<line x1="500.46" y1="796.74" x2="500.46" y2="811.51" stroke="#5f5f5f" stroke-width="0.45" />
<line x1="499.36" y1="796.74" x2="501.56" y2="796.74" stroke="#5f5f5f" stroke-width="0.45" />
<line x1="499.36" y1="811.51" x2="501.56" y2="811.51" stroke="#5f5f5f" stroke-width="0.45" />
<line x1="510.71" y1="864.54" x2="510.71" y2="866.56" stroke="#5f5f5f" stroke-width="0.45" />
<line x1="509.61" y1="864.54" x2="511.81" y2="864.54" stroke="#5f5f5f" stroke-width="0.45" />
<line x1="509.61" y1="866.56" x2="511.81" y2="866.56" stroke="#5f5f5f" stroke-width="0.45" />
<line x1="520.8" y1="864.54" x2="520.8" y2="866.56" stroke="#5f5f5f" stroke-width="0.45" />
<line x1="519.7" y1="864.54" x2="521.9" y2="864.54" stroke="#5f5f5f" stroke-width="0.45" />
<line x1="519.7" y1="866.56" x2="521.9" y2="866.56" stroke="#5f5f5f" stroke-width="0.45" />
<line x1="531.19" y1="864.54" x2="531.19" y2="866.56" stroke="#5f5f5f" stroke-width="0.45" />
<line x1="530.09" y1="864.54" x2="532.29" y2="864.54" stroke="#5f5f5f" stroke-width="0.45" />
<line x1="530.09" y1="866.56" x2="532.29" y2="866.56" stroke="#5f5f5f" stroke-width="0.45" />
<rect x="396.31" y="812.63" width="3.8" height="3.8" fill="#5f5f5f" stroke="#5f5f5f" stroke-width="0.3" />
<rect x="406.25" y="814.98" width="3.8" height="3.8" fill="#5f5f5f" stroke="#5f5f5f" stroke-width="0.3" />
<rect x="417.09" y="815.65" width="3.8" height="3.8" fill="#5f5f5f" stroke="#5f5f5f" stroke-width="0.3" />
<rect x="427.33" y="851.23" width="3.8" height="3.8" fill="#5f5f5f" stroke="#5f5f5f" stroke-width="0.3" />
<rect x="437.27" y="851.23" width="3.8" height="3.8" fill="#5f5f5f" stroke="#5f5f5f" stroke-width="0.3" />
<rect x="447.66" y="851.9" width="3.8" height="3.8" fill="#5f5f5f" stroke="#5f5f5f" stroke-width="0.3" />
<rect x="458.05" y="851.9" width="3.8" height="3.8" fill="#5f5f5f" stroke="#5f5f5f" stroke-width="0.3" />
<rect x="468.14" y="804.24" width="3.8" height="3.8" fill="#5f5f5f" stroke="#5f5f5f" stroke-width="0.3" />
<rect x="478.08" y="805.58" width="3.8" height="3.8" fill="#5f5f5f" stroke="#5f5f5f" stroke-width="0.3" />
<rect x="488.62" y="803.23" width="3.8" height="3.8" fill="#5f5f5f" stroke="#5f5f5f" stroke-width="0.3" />
<rect x="498.56" y="802.22" width="3.8" height="3.8" fill="#5f5f5f" stroke="#5f5f5f" stroke-width="0.3" />
<rect x="508.81" y="863.65" width="3.8" height="3.8" fill="#5f5f5f" stroke="#5f5f5f" stroke-width="0.3" />
<rect x="518.9" y="863.65" width="3.8" height="3.8" fill="#5f5f5f" stroke="#5f5f5f" stroke-width="0.3" />
<rect x="529.29" y="863.65" width="3.8" height="3.8" fill="#5f5f5f" stroke="#5f5f5f" stroke-width="0.3" />
<line x1="399.8" y1="746.1" x2="418.3" y2="746.1" stroke="#9b9b9b" stroke-width="0.7" />
<circle cx="409.05" cy="746.1" r="1.8" fill="#9b9b9b" stroke="#9b9b9b" stroke-width="0.3" />
<text x="422.0" y="749.0" font-size="8.4" stroke="#231f20" stroke-width="0.168" textLength="52.0" lengthAdjust="spacingAndGlyphs"><tspan>VSV, </tspan><tspan font-style="italic">ASS1</tspan><tspan dy="-3.53" font-size="5.21">+/+</tspan></text>
<line x1="399.8" y1="759.8" x2="418.3" y2="759.8" stroke="#9fd49a" stroke-width="0.7" />
<path d="M407.40,761.15 L410.70,761.15 L409.05,758.15 z" fill="#9fd49a" stroke="#9fd49a" stroke-width="0.3" />
<text x="422.0" y="762.7" font-size="8.4" stroke="#231f20" stroke-width="0.168" textLength="52.0" lengthAdjust="spacingAndGlyphs"><tspan>VSV, </tspan><tspan font-style="italic">ASS1</tspan><tspan dy="-3.53" font-size="5.21">−/−</tspan></text>
<line x1="399.8" y1="772.6" x2="418.3" y2="772.6" stroke="#5f5f5f" stroke-width="0.8" stroke-dasharray="2,1.3"/>
<rect x="407.15" y="770.7" width="3.8" height="3.8" fill="#5f5f5f" stroke="#5f5f5f" stroke-width="0.3" />
<text x="422.0" y="775.5" font-size="8.4" stroke="#231f20" stroke-width="0.168" textLength="78.0" lengthAdjust="spacingAndGlyphs"><tspan>VSV, </tspan><tspan font-style="italic">ASS1</tspan><tspan dy="-3.53" font-size="5.21">+/+</tspan><tspan dy="3.53"> + Suc</tspan></text>
<line x1="399.8" y1="785.4" x2="418.3" y2="785.4" stroke="#178a17" stroke-width="0.8" stroke-dasharray="2,1.3"/>
<circle cx="409.05" cy="785.4" r="1.6" fill="#178a17" stroke="#178a17" stroke-width="0.3" />
<text x="422.0" y="788.3" font-size="8.4" stroke="#231f20" stroke-width="0.168" textLength="78.0" lengthAdjust="spacingAndGlyphs"><tspan>VSV, </tspan><tspan font-style="italic">ASS1</tspan><tspan dy="-3.53" font-size="5.21">−/−</tspan><tspan dy="3.53"> + Suc</tspan></text>
<defs>
<linearGradient id="fd" x1="0" y1="0" x2="0" y2="1"><stop offset="0" stop-color="#6a9ed2" stop-opacity="0.55"/><stop offset="1" stop-color="#6a9ed2" stop-opacity="0"/></linearGradient>
<linearGradient id="fu" x1="0" y1="1" x2="0" y2="0"><stop offset="0" stop-color="#6a9ed2" stop-opacity="0.55"/><stop offset="1" stop-color="#6a9ed2" stop-opacity="0"/></linearGradient>
<linearGradient id="arcg" x1="0" y1="0" x2="1" y2="0"><stop offset="0" stop-color="#bbb"/><stop offset="0.45" stop-color="#444"/><stop offset="1" stop-color="#222"/></linearGradient>
<marker id="ahB" markerUnits="userSpaceOnUse" markerWidth="6" markerHeight="6" refX="3.4" refY="2.3" orient="auto"><path d="M0,0 L4.2,2.3 L0,4.6 z" fill="#333"/></marker>
</defs>
<text x="207.2" y="531.2" font-size="10.8" fill="#000" font-weight="bold" textLength="3.66" lengthAdjust="spacingAndGlyphs" stroke="#000" stroke-width="0.35">i</text>
<text x="216.3" y="541.0" font-size="8.3" stroke="#231f20" stroke-width="0.166" textLength="65.7" lengthAdjust="spacingAndGlyphs">Intermembrane</text>
<text x="216.3" y="551.8" font-size="8.3" stroke="#231f20" stroke-width="0.166" textLength="24.36" lengthAdjust="spacingAndGlyphs">space</text>
<path d="M217.10,574.5 L216.20,585.6 M218.50,574.5 L219.40,585.6 M217.10,599.9 L216.20,588.6 M218.50,599.9 L219.40,588.6 M223.43,574.5 L222.53,585.6 M224.83,574.5 L225.73,585.6 M223.43,599.9 L222.53,588.6 M224.83,599.9 L225.73,588.6 M229.76,574.5 L228.86,585.6 M231.16,574.5 L232.06,585.6 M229.76,599.9 L228.86,588.6 M231.16,599.9 L232.06,588.6 M236.09,574.5 L235.19,585.6 M237.49,574.5 L238.39,585.6 M236.09,599.9 L235.19,588.6 M237.49,599.9 L238.39,588.6 M242.42,574.5 L241.52,585.6 M243.82,574.5 L244.72,585.6 M242.42,599.9 L241.52,588.6 M243.82,599.9 L244.72,588.6 M248.75,574.5 L247.85,585.6 M250.15,574.5 L251.05,585.6 M248.75,599.9 L247.85,588.6 M250.15,599.9 L251.05,588.6 M255.08,574.5 L254.18,585.6 M256.48,574.5 L257.38,585.6 M255.08,599.9 L254.18,588.6 M256.48,599.9 L257.38,588.6 M261.41,574.5 L260.51,585.6 M262.81,574.5 L263.71,585.6 M261.41,599.9 L260.51,588.6 M262.81,599.9 L263.71,588.6 M267.74,574.5 L266.84,585.6 M269.14,574.5 L270.04,585.6 M267.74,599.9 L266.84,588.6 M269.14,599.9 L270.04,588.6 M274.07,574.5 L273.17,585.6 M275.47,574.5 L276.37,585.6 M274.07,599.9 L273.17,588.6 M275.47,599.9 L276.37,588.6 M280.40,574.5 L279.50,585.6 M281.80,574.5 L282.70,585.6 M280.40,599.9 L279.50,588.6 M281.80,599.9 L282.70,588.6 M286.73,574.5 L285.83,585.6 M288.13,574.5 L289.03,585.6 M286.73,599.9 L285.83,588.6 M288.13,599.9 L289.03,588.6 M293.06,574.5 L292.16,585.6 M294.46,574.5 L295.36,585.6 M293.06,599.9 L292.16,588.6 M294.46,599.9 L295.36,588.6 M299.39,574.5 L298.49,585.6 M300.79,574.5 L301.69,585.6 M299.39,599.9 L298.49,588.6 M300.79,599.9 L301.69,588.6 M305.72,574.5 L304.82,585.6 M307.12,574.5 L308.02,585.6 M305.72,599.9 L304.82,588.6 M307.12,599.9 L308.02,588.6 M312.05,574.5 L311.15,585.6 M313.45,574.5 L314.35,585.6 M312.05,599.9 L311.15,588.6 M313.45,599.9 L314.35,588.6 M318.38,574.5 L317.48,585.6 M319.78,574.5 L320.68,585.6 M318.38,599.9 L317.48,588.6 M319.78,599.9 L320.68,588.6 M324.71,574.5 L323.81,585.6 M326.11,574.5 L327.01,585.6 M324.71,599.9 L323.81,588.6 M326.11,599.9 L327.01,588.6 M331.04,574.5 L330.14,585.6 M332.44,574.5 L333.34,585.6 M331.04,599.9 L330.14,588.6 M332.44,599.9 L333.34,588.6 M337.37,574.5 L336.47,585.6 M338.77,574.5 L339.67,585.6 M337.37,599.9 L336.47,588.6 M338.77,599.9 L339.67,588.6 M343.70,574.5 L342.80,585.6 M345.10,574.5 L346.00,585.6 M343.70,599.9 L342.80,588.6 M345.10,599.9 L346.00,588.6 M350.03,574.5 L349.13,585.6 M351.43,574.5 L352.33,585.6 M350.03,599.9 L349.13,588.6 M351.43,599.9 L352.33,588.6 M356.36,574.5 L355.46,585.6 M357.76,574.5 L358.66,585.6 M356.36,599.9 L355.46,588.6 M357.76,599.9 L358.66,588.6 M362.69,574.5 L361.79,585.6 M364.09,574.5 L364.99,585.6 M362.69,599.9 L361.79,588.6 M364.09,599.9 L364.99,588.6 M369.02,574.5 L368.12,585.6 M370.42,574.5 L371.32,585.6 M369.02,599.9 L368.12,588.6 M370.42,599.9 L371.32,588.6 M375.35,574.5 L374.45,585.6 M376.75,574.5 L377.65,585.6 M375.35,599.9 L374.45,588.6 M376.75,599.9 L377.65,588.6 M381.68,574.5 L380.78,585.6 M383.08,574.5 L383.98,585.6 M381.68,599.9 L380.78,588.6 M383.08,599.9 L383.98,588.6 M388.01,574.5 L387.11,585.6 M389.41,574.5 L390.31,585.6 M388.01,599.9 L387.11,588.6 M389.41,599.9 L390.31,588.6 M394.34,574.5 L393.44,585.6 M395.74,574.5 L396.64,585.6 M394.34,599.9 L393.44,588.6 M395.74,599.9 L396.64,588.6 M400.67,574.5 L399.77,585.6 M402.07,574.5 L402.97,585.6 M400.67,599.9 L399.77,588.6 M402.07,599.9 L402.97,588.6 M407.00,574.5 L406.10,585.6 M408.40,574.5 L409.30,585.6 M407.00,599.9 L406.10,588.6 M408.40,599.9 L409.30,588.6 M413.33,574.5 L412.43,585.6 M414.73,574.5 L415.63,585.6 M413.33,599.9 L412.43,588.6 M414.73,599.9 L415.63,588.6 M419.66,574.5 L418.76,585.6 M421.06,574.5 L421.96,585.6 M419.66,599.9 L418.76,588.6 M421.06,599.9 L421.96,588.6 M425.99,574.5 L425.09,585.6 M427.39,574.5 L428.29,585.6 M425.99,599.9 L425.09,588.6 M427.39,599.9 L428.29,588.6 M432.32,574.5 L431.42,585.6 M433.72,574.5 L434.62,585.6 M432.32,599.9 L431.42,588.6 M433.72,599.9 L434.62,588.6 M438.65,574.5 L437.75,585.6 M440.05,574.5 L440.95,585.6 M438.65,599.9 L437.75,588.6 M440.05,599.9 L440.95,588.6 M444.98,574.5 L444.08,585.6 M446.38,574.5 L447.28,585.6 M444.98,599.9 L444.08,588.6 M446.38,599.9 L447.28,588.6 M451.31,574.5 L450.41,585.6 M452.71,574.5 L453.61,585.6 M451.31,599.9 L450.41,588.6 M452.71,599.9 L453.61,588.6 M457.64,574.5 L456.74,585.6 M459.04,574.5 L459.94,585.6 M457.64,599.9 L456.74,588.6 M459.04,599.9 L459.94,588.6 M463.97,574.5 L463.07,585.6 M465.37,574.5 L466.27,585.6 M463.97,599.9 L463.07,588.6 M465.37,599.9 L466.27,588.6 M470.30,574.5 L469.40,585.6 M471.70,574.5 L472.60,585.6 M470.30,599.9 L469.40,588.6 M471.70,599.9 L472.60,588.6 M476.63,574.5 L475.73,585.6 M478.03,574.5 L478.93,585.6 M476.63,599.9 L475.73,588.6 M478.03,599.9 L478.93,588.6 M482.96,574.5 L482.06,585.6 M484.36,574.5 L485.26,585.6 M482.96,599.9 L482.06,588.6 M484.36,599.9 L485.26,588.6 M489.29,574.5 L488.39,585.6 M490.69,574.5 L491.59,585.6 M489.29,599.9 L488.39,588.6 M490.69,599.9 L491.59,588.6 M495.62,574.5 L494.72,585.6 M497.02,574.5 L497.92,585.6 M495.62,599.9 L494.72,588.6 M497.02,599.9 L497.92,588.6 M501.95,574.5 L501.05,585.6 M503.35,574.5 L504.25,585.6 M501.95,599.9 L501.05,588.6 M503.35,599.9 L504.25,588.6 M508.28,574.5 L507.38,585.6 M509.68,574.5 L510.58,585.6 M508.28,599.9 L507.38,588.6 M509.68,599.9 L510.58,588.6 M514.61,574.5 L513.71,585.6 M516.01,574.5 L516.91,585.6 M514.61,599.9 L513.71,588.6 M516.01,599.9 L516.91,588.6 M520.94,574.5 L520.04,585.6 M522.34,574.5 L523.24,585.6 M520.94,599.9 L520.04,588.6 M522.34,599.9 L523.24,588.6 M527.27,574.5 L526.37,585.6 M528.67,574.5 L529.57,585.6 M527.27,599.9 L526.37,588.6 M528.67,599.9 L529.57,588.6 M533.60,574.5 L532.70,585.6 M535.00,574.5 L535.90,585.6 M533.60,599.9 L532.70,588.6 M535.00,599.9 L535.90,588.6 M539.93,574.5 L539.03,585.6 M541.33,574.5 L542.23,585.6 M539.93,599.9 L539.03,588.6 M541.33,599.9 L542.23,588.6 M546.26,574.5 L545.36,585.6 M547.66,574.5 L548.56,585.6 M546.26,599.9 L545.36,588.6 M547.66,599.9 L548.56,588.6 M552.59,574.5 L551.69,585.6 M553.99,574.5 L554.89,585.6 M552.59,599.9 L551.69,588.6 M553.99,599.9 L554.89,588.6 M558.92,574.5 L558.02,585.6 M560.32,574.5 L561.22,585.6 M558.92,599.9 L558.02,588.6 M560.32,599.9 L561.22,588.6 M565.25,574.5 L564.35,585.6 M566.65,574.5 L567.55,585.6 M565.25,599.9 L564.35,588.6 M566.65,599.9 L567.55,588.6 M571.58,574.5 L570.68,585.6 M572.98,574.5 L573.88,585.6 M571.58,599.9 L570.68,588.6 M572.98,599.9 L573.88,588.6 M577.91,574.5 L577.01,585.6 M579.31,574.5 L580.21,585.6 M577.91,599.9 L577.01,588.6 M579.31,599.9 L580.21,588.6 M584.24,574.5 L583.34,585.6 M585.64,574.5 L586.54,585.6 M584.24,599.9 L583.34,588.6 M585.64,599.9 L586.54,588.6 M590.57,574.5 L589.67,585.6 M591.97,574.5 L592.87,585.6 M590.57,599.9 L589.67,588.6 M591.97,599.9 L592.87,588.6 M596.90,574.5 L596.00,585.6 M598.30,574.5 L599.20,585.6 M596.90,599.9 L596.00,588.6 M598.30,599.9 L599.20,588.6 M603.23,574.5 L602.33,585.6 M604.63,574.5 L605.53,585.6 M603.23,599.9 L602.33,588.6 M604.63,599.9 L605.53,588.6 M609.56,574.5 L608.66,585.6 M610.96,574.5 L611.86,585.6 M609.56,599.9 L608.66,588.6 M610.96,599.9 L611.86,588.6 M615.89,574.5 L614.99,585.6 M617.29,574.5 L618.19,585.6 M615.89,599.9 L614.99,588.6 M617.29,599.9 L618.19,588.6 M622.22,574.5 L621.32,585.6 M623.62,574.5 L624.52,585.6 M622.22,599.9 L621.32,588.6 M623.62,599.9 L624.52,588.6 M628.55,574.5 L627.65,585.6 M629.95,574.5 L630.85,585.6 M628.55,599.9 L627.65,588.6 M629.95,599.9 L630.85,588.6 M634.88,574.5 L633.98,585.6 M636.28,574.5 L637.18,585.6 M634.88,599.9 L633.98,588.6 M636.28,599.9 L637.18,588.6" fill="none" stroke="#d9a3ab" stroke-width="0.5" />
<circle cx="217.8" cy="572.8" r="2.8" fill="#ad7e7f" stroke="none" stroke-width="0.6" />
<circle cx="217.8" cy="601.8" r="2.8" fill="#ad7e7f" stroke="none" stroke-width="0.6" />
<circle cx="224.13" cy="572.8" r="2.8" fill="#ad7e7f" stroke="none" stroke-width="0.6" />
<circle cx="224.13" cy="601.8" r="2.8" fill="#ad7e7f" stroke="none" stroke-width="0.6" />
<circle cx="230.46" cy="572.8" r="2.8" fill="#ad7e7f" stroke="none" stroke-width="0.6" />
<circle cx="230.46" cy="601.8" r="2.8" fill="#ad7e7f" stroke="none" stroke-width="0.6" />
<circle cx="236.79" cy="572.8" r="2.8" fill="#ad7e7f" stroke="none" stroke-width="0.6" />
<circle cx="236.79" cy="601.8" r="2.8" fill="#ad7e7f" stroke="none" stroke-width="0.6" />
<circle cx="243.12" cy="572.8" r="2.8" fill="#ad7e7f" stroke="none" stroke-width="0.6" />
<circle cx="243.12" cy="601.8" r="2.8" fill="#ad7e7f" stroke="none" stroke-width="0.6" />
<circle cx="249.45" cy="572.8" r="2.8" fill="#ad7e7f" stroke="none" stroke-width="0.6" />
<circle cx="249.45" cy="601.8" r="2.8" fill="#ad7e7f" stroke="none" stroke-width="0.6" />
<circle cx="255.78" cy="572.8" r="2.8" fill="#ad7e7f" stroke="none" stroke-width="0.6" />
<circle cx="255.78" cy="601.8" r="2.8" fill="#ad7e7f" stroke="none" stroke-width="0.6" />
<circle cx="262.11" cy="572.8" r="2.8" fill="#ad7e7f" stroke="none" stroke-width="0.6" />
<circle cx="262.11" cy="601.8" r="2.8" fill="#ad7e7f" stroke="none" stroke-width="0.6" />
<circle cx="268.44" cy="572.8" r="2.8" fill="#ad7e7f" stroke="none" stroke-width="0.6" />
<circle cx="268.44" cy="601.8" r="2.8" fill="#ad7e7f" stroke="none" stroke-width="0.6" />
<circle cx="274.77" cy="572.8" r="2.8" fill="#ad7e7f" stroke="none" stroke-width="0.6" />
<circle cx="274.77" cy="601.8" r="2.8" fill="#ad7e7f" stroke="none" stroke-width="0.6" />
<circle cx="281.1" cy="572.8" r="2.8" fill="#ad7e7f" stroke="none" stroke-width="0.6" />
<circle cx="281.1" cy="601.8" r="2.8" fill="#ad7e7f" stroke="none" stroke-width="0.6" />
<circle cx="287.43" cy="572.8" r="2.8" fill="#ad7e7f" stroke="none" stroke-width="0.6" />
<circle cx="287.43" cy="601.8" r="2.8" fill="#ad7e7f" stroke="none" stroke-width="0.6" />
<circle cx="293.76" cy="572.8" r="2.8" fill="#ad7e7f" stroke="none" stroke-width="0.6" />
<circle cx="293.76" cy="601.8" r="2.8" fill="#ad7e7f" stroke="none" stroke-width="0.6" />
<circle cx="300.09" cy="572.8" r="2.8" fill="#ad7e7f" stroke="none" stroke-width="0.6" />
<circle cx="300.09" cy="601.8" r="2.8" fill="#ad7e7f" stroke="none" stroke-width="0.6" />
<circle cx="306.42" cy="572.8" r="2.8" fill="#ad7e7f" stroke="none" stroke-width="0.6" />
<circle cx="306.42" cy="601.8" r="2.8" fill="#ad7e7f" stroke="none" stroke-width="0.6" />
<circle cx="312.75" cy="572.8" r="2.8" fill="#ad7e7f" stroke="none" stroke-width="0.6" />
<circle cx="312.75" cy="601.8" r="2.8" fill="#ad7e7f" stroke="none" stroke-width="0.6" />
<circle cx="319.08" cy="572.8" r="2.8" fill="#ad7e7f" stroke="none" stroke-width="0.6" />
<circle cx="319.08" cy="601.8" r="2.8" fill="#ad7e7f" stroke="none" stroke-width="0.6" />
<circle cx="325.41" cy="572.8" r="2.8" fill="#ad7e7f" stroke="none" stroke-width="0.6" />
<circle cx="325.41" cy="601.8" r="2.8" fill="#ad7e7f" stroke="none" stroke-width="0.6" />
<circle cx="331.74" cy="572.8" r="2.8" fill="#ad7e7f" stroke="none" stroke-width="0.6" />
<circle cx="331.74" cy="601.8" r="2.8" fill="#ad7e7f" stroke="none" stroke-width="0.6" />
<circle cx="338.07" cy="572.8" r="2.8" fill="#ad7e7f" stroke="none" stroke-width="0.6" />
<circle cx="338.07" cy="601.8" r="2.8" fill="#ad7e7f" stroke="none" stroke-width="0.6" />
<circle cx="344.4" cy="572.8" r="2.8" fill="#ad7e7f" stroke="none" stroke-width="0.6" />
<circle cx="344.4" cy="601.8" r="2.8" fill="#ad7e7f" stroke="none" stroke-width="0.6" />
<circle cx="350.73" cy="572.8" r="2.8" fill="#ad7e7f" stroke="none" stroke-width="0.6" />
<circle cx="350.73" cy="601.8" r="2.8" fill="#ad7e7f" stroke="none" stroke-width="0.6" />
<circle cx="357.06" cy="572.8" r="2.8" fill="#ad7e7f" stroke="none" stroke-width="0.6" />
<circle cx="357.06" cy="601.8" r="2.8" fill="#ad7e7f" stroke="none" stroke-width="0.6" />
<circle cx="363.39" cy="572.8" r="2.8" fill="#ad7e7f" stroke="none" stroke-width="0.6" />
<circle cx="363.39" cy="601.8" r="2.8" fill="#ad7e7f" stroke="none" stroke-width="0.6" />
<circle cx="369.72" cy="572.8" r="2.8" fill="#ad7e7f" stroke="none" stroke-width="0.6" />
<circle cx="369.72" cy="601.8" r="2.8" fill="#ad7e7f" stroke="none" stroke-width="0.6" />
<circle cx="376.05" cy="572.8" r="2.8" fill="#ad7e7f" stroke="none" stroke-width="0.6" />
<circle cx="376.05" cy="601.8" r="2.8" fill="#ad7e7f" stroke="none" stroke-width="0.6" />
<circle cx="382.38" cy="572.8" r="2.8" fill="#ad7e7f" stroke="none" stroke-width="0.6" />
<circle cx="382.38" cy="601.8" r="2.8" fill="#ad7e7f" stroke="none" stroke-width="0.6" />
<circle cx="388.71" cy="572.8" r="2.8" fill="#ad7e7f" stroke="none" stroke-width="0.6" />
<circle cx="388.71" cy="601.8" r="2.8" fill="#ad7e7f" stroke="none" stroke-width="0.6" />
<circle cx="395.04" cy="572.8" r="2.8" fill="#ad7e7f" stroke="none" stroke-width="0.6" />
<circle cx="395.04" cy="601.8" r="2.8" fill="#ad7e7f" stroke="none" stroke-width="0.6" />
<circle cx="401.37" cy="572.8" r="2.8" fill="#ad7e7f" stroke="none" stroke-width="0.6" />
<circle cx="401.37" cy="601.8" r="2.8" fill="#ad7e7f" stroke="none" stroke-width="0.6" />
<circle cx="407.7" cy="572.8" r="2.8" fill="#ad7e7f" stroke="none" stroke-width="0.6" />
<circle cx="407.7" cy="601.8" r="2.8" fill="#ad7e7f" stroke="none" stroke-width="0.6" />
<circle cx="414.03" cy="572.8" r="2.8" fill="#ad7e7f" stroke="none" stroke-width="0.6" />
<circle cx="414.03" cy="601.8" r="2.8" fill="#ad7e7f" stroke="none" stroke-width="0.6" />
<circle cx="420.36" cy="572.8" r="2.8" fill="#ad7e7f" stroke="none" stroke-width="0.6" />
<circle cx="420.36" cy="601.8" r="2.8" fill="#ad7e7f" stroke="none" stroke-width="0.6" />
<circle cx="426.69" cy="572.8" r="2.8" fill="#ad7e7f" stroke="none" stroke-width="0.6" />
<circle cx="426.69" cy="601.8" r="2.8" fill="#ad7e7f" stroke="none" stroke-width="0.6" />
<circle cx="433.02" cy="572.8" r="2.8" fill="#ad7e7f" stroke="none" stroke-width="0.6" />
<circle cx="433.02" cy="601.8" r="2.8" fill="#ad7e7f" stroke="none" stroke-width="0.6" />
<circle cx="439.35" cy="572.8" r="2.8" fill="#ad7e7f" stroke="none" stroke-width="0.6" />
<circle cx="439.35" cy="601.8" r="2.8" fill="#ad7e7f" stroke="none" stroke-width="0.6" />
<circle cx="445.68" cy="572.8" r="2.8" fill="#ad7e7f" stroke="none" stroke-width="0.6" />
<circle cx="445.68" cy="601.8" r="2.8" fill="#ad7e7f" stroke="none" stroke-width="0.6" />
<circle cx="452.01" cy="572.8" r="2.8" fill="#ad7e7f" stroke="none" stroke-width="0.6" />
<circle cx="452.01" cy="601.8" r="2.8" fill="#ad7e7f" stroke="none" stroke-width="0.6" />
<circle cx="458.34" cy="572.8" r="2.8" fill="#ad7e7f" stroke="none" stroke-width="0.6" />
<circle cx="458.34" cy="601.8" r="2.8" fill="#ad7e7f" stroke="none" stroke-width="0.6" />
<circle cx="464.67" cy="572.8" r="2.8" fill="#ad7e7f" stroke="none" stroke-width="0.6" />
<circle cx="464.67" cy="601.8" r="2.8" fill="#ad7e7f" stroke="none" stroke-width="0.6" />
<circle cx="471.0" cy="572.8" r="2.8" fill="#ad7e7f" stroke="none" stroke-width="0.6" />
<circle cx="471.0" cy="601.8" r="2.8" fill="#ad7e7f" stroke="none" stroke-width="0.6" />
<circle cx="477.33" cy="572.8" r="2.8" fill="#ad7e7f" stroke="none" stroke-width="0.6" />
<circle cx="477.33" cy="601.8" r="2.8" fill="#ad7e7f" stroke="none" stroke-width="0.6" />
<circle cx="483.66" cy="572.8" r="2.8" fill="#ad7e7f" stroke="none" stroke-width="0.6" />
<circle cx="483.66" cy="601.8" r="2.8" fill="#ad7e7f" stroke="none" stroke-width="0.6" />
<circle cx="489.99" cy="572.8" r="2.8" fill="#ad7e7f" stroke="none" stroke-width="0.6" />
<circle cx="489.99" cy="601.8" r="2.8" fill="#ad7e7f" stroke="none" stroke-width="0.6" />
<circle cx="496.32" cy="572.8" r="2.8" fill="#ad7e7f" stroke="none" stroke-width="0.6" />
<circle cx="496.32" cy="601.8" r="2.8" fill="#ad7e7f" stroke="none" stroke-width="0.6" />
<circle cx="502.65" cy="572.8" r="2.8" fill="#ad7e7f" stroke="none" stroke-width="0.6" />
<circle cx="502.65" cy="601.8" r="2.8" fill="#ad7e7f" stroke="none" stroke-width="0.6" />
<circle cx="508.98" cy="572.8" r="2.8" fill="#ad7e7f" stroke="none" stroke-width="0.6" />
<circle cx="508.98" cy="601.8" r="2.8" fill="#ad7e7f" stroke="none" stroke-width="0.6" />
<circle cx="515.31" cy="572.8" r="2.8" fill="#ad7e7f" stroke="none" stroke-width="0.6" />
<circle cx="515.31" cy="601.8" r="2.8" fill="#ad7e7f" stroke="none" stroke-width="0.6" />
<circle cx="521.64" cy="572.8" r="2.8" fill="#ad7e7f" stroke="none" stroke-width="0.6" />
<circle cx="521.64" cy="601.8" r="2.8" fill="#ad7e7f" stroke="none" stroke-width="0.6" />
<circle cx="527.97" cy="572.8" r="2.8" fill="#ad7e7f" stroke="none" stroke-width="0.6" />
<circle cx="527.97" cy="601.8" r="2.8" fill="#ad7e7f" stroke="none" stroke-width="0.6" />
<circle cx="534.3" cy="572.8" r="2.8" fill="#ad7e7f" stroke="none" stroke-width="0.6" />
<circle cx="534.3" cy="601.8" r="2.8" fill="#ad7e7f" stroke="none" stroke-width="0.6" />
<circle cx="540.63" cy="572.8" r="2.8" fill="#ad7e7f" stroke="none" stroke-width="0.6" />
<circle cx="540.63" cy="601.8" r="2.8" fill="#ad7e7f" stroke="none" stroke-width="0.6" />
<circle cx="546.96" cy="572.8" r="2.8" fill="#ad7e7f" stroke="none" stroke-width="0.6" />
<circle cx="546.96" cy="601.8" r="2.8" fill="#ad7e7f" stroke="none" stroke-width="0.6" />
<circle cx="553.29" cy="572.8" r="2.8" fill="#ad7e7f" stroke="none" stroke-width="0.6" />
<circle cx="553.29" cy="601.8" r="2.8" fill="#ad7e7f" stroke="none" stroke-width="0.6" />
<circle cx="559.62" cy="572.8" r="2.8" fill="#ad7e7f" stroke="none" stroke-width="0.6" />
<circle cx="559.62" cy="601.8" r="2.8" fill="#ad7e7f" stroke="none" stroke-width="0.6" />
<circle cx="565.95" cy="572.8" r="2.8" fill="#ad7e7f" stroke="none" stroke-width="0.6" />
<circle cx="565.95" cy="601.8" r="2.8" fill="#ad7e7f" stroke="none" stroke-width="0.6" />
<circle cx="572.28" cy="572.8" r="2.8" fill="#ad7e7f" stroke="none" stroke-width="0.6" />
<circle cx="572.28" cy="601.8" r="2.8" fill="#ad7e7f" stroke="none" stroke-width="0.6" />
<circle cx="578.61" cy="572.8" r="2.8" fill="#ad7e7f" stroke="none" stroke-width="0.6" />
<circle cx="578.61" cy="601.8" r="2.8" fill="#ad7e7f" stroke="none" stroke-width="0.6" />
<circle cx="584.94" cy="572.8" r="2.8" fill="#ad7e7f" stroke="none" stroke-width="0.6" />
<circle cx="584.94" cy="601.8" r="2.8" fill="#ad7e7f" stroke="none" stroke-width="0.6" />
<circle cx="591.27" cy="572.8" r="2.8" fill="#ad7e7f" stroke="none" stroke-width="0.6" />
<circle cx="591.27" cy="601.8" r="2.8" fill="#ad7e7f" stroke="none" stroke-width="0.6" />
<circle cx="597.6" cy="572.8" r="2.8" fill="#ad7e7f" stroke="none" stroke-width="0.6" />
<circle cx="597.6" cy="601.8" r="2.8" fill="#ad7e7f" stroke="none" stroke-width="0.6" />
<circle cx="603.93" cy="572.8" r="2.8" fill="#ad7e7f" stroke="none" stroke-width="0.6" />
<circle cx="603.93" cy="601.8" r="2.8" fill="#ad7e7f" stroke="none" stroke-width="0.6" />
<circle cx="610.26" cy="572.8" r="2.8" fill="#ad7e7f" stroke="none" stroke-width="0.6" />
<circle cx="610.26" cy="601.8" r="2.8" fill="#ad7e7f" stroke="none" stroke-width="0.6" />
<circle cx="616.59" cy="572.8" r="2.8" fill="#ad7e7f" stroke="none" stroke-width="0.6" />
<circle cx="616.59" cy="601.8" r="2.8" fill="#ad7e7f" stroke="none" stroke-width="0.6" />
<circle cx="622.92" cy="572.8" r="2.8" fill="#ad7e7f" stroke="none" stroke-width="0.6" />
<circle cx="622.92" cy="601.8" r="2.8" fill="#ad7e7f" stroke="none" stroke-width="0.6" />
<circle cx="629.25" cy="572.8" r="2.8" fill="#ad7e7f" stroke="none" stroke-width="0.6" />
<circle cx="629.25" cy="601.8" r="2.8" fill="#ad7e7f" stroke="none" stroke-width="0.6" />
<circle cx="635.58" cy="572.8" r="2.8" fill="#ad7e7f" stroke="none" stroke-width="0.6" />
<circle cx="635.58" cy="601.8" r="2.8" fill="#ad7e7f" stroke="none" stroke-width="0.6" />
<text x="220.8" y="585.8" font-size="8.3" stroke="#231f20" stroke-width="0.166" textLength="21.7" lengthAdjust="spacingAndGlyphs">Inner</text>
<text x="220.8" y="596.1" font-size="8.3" stroke="#231f20" stroke-width="0.166" textLength="42.0" lengthAdjust="spacingAndGlyphs">membrane</text>
<text x="218.0" y="619.5" font-size="8.3" stroke="#231f20" stroke-width="0.166" textLength="59.0" lengthAdjust="spacingAndGlyphs">Mitochondrial</text>
<text x="218.0" y="630.3" font-size="8.3" stroke="#231f20" stroke-width="0.166" textLength="26.5" lengthAdjust="spacingAndGlyphs">matrix</text>
<rect x="298.3" y="614.5" width="5.6" height="13.0" fill="url(#fd)" stroke="none" stroke-width="0.6" />
<rect x="401.6" y="612.5" width="6.6" height="13.5" fill="url(#fd)" stroke="none" stroke-width="0.6" />
<rect x="490.9" y="612.5" width="4.9" height="12.5" fill="url(#fd)" stroke="none" stroke-width="0.6" />
<rect x="577.3" y="535.5" width="6.0" height="16.0" fill="url(#fu)" stroke="none" stroke-width="0.6" />
<path d="M298.35,559.50 L298.35,544.90 L293.75,544.90 L301.10,531.00 L308.45,544.90 L303.85,544.90 L303.85,559.50 Z" fill="#6a9ed2" stroke="none" stroke-width="0.7" />
<path d="M401.90,559.00 L401.90,544.90 L397.40,544.90 L404.60,531.00 L411.80,544.90 L407.30,544.90 L407.30,559.00 Z" fill="#6a9ed2" stroke="none" stroke-width="0.7" />
<path d="M490.95,554.00 L490.95,545.40 L485.95,545.40 L493.40,530.40 L500.85,545.40 L495.85,545.40 L495.85,554.00 Z" fill="#6a9ed2" stroke="none" stroke-width="0.7" />
<text x="294.4" y="528.3" font-size="8.4" fill="#4f86cc" stroke="#4f86cc" stroke-width="0.168" textLength="15.5" lengthAdjust="spacingAndGlyphs"><tspan>4H</tspan><tspan dy="-3.53" font-size="5.21">+</tspan></text>
<text x="398.5" y="528.3" font-size="8.4" fill="#4f86cc" stroke="#4f86cc" stroke-width="0.168" textLength="15.5" lengthAdjust="spacingAndGlyphs"><tspan>4H</tspan><tspan dy="-3.53" font-size="5.21">+</tspan></text>
<text x="487.0" y="527.6" font-size="8.4" fill="#4f86cc" stroke="#4f86cc" stroke-width="0.168" textLength="15.0" lengthAdjust="spacingAndGlyphs"><tspan>2H</tspan><tspan dy="-3.53" font-size="5.21">+</tspan></text>
<text x="573.0" y="527.6" font-size="8.4" fill="#4f86cc" stroke="#4f86cc" stroke-width="0.168" textLength="15.0" lengthAdjust="spacingAndGlyphs"><tspan font-style="italic">n</tspan><tspan>H</tspan><tspan dy="-3.53" font-size="5.21">+</tspan></text>
<rect x="283.4" y="558.0" width="36.9" height="57.2" fill="#f3d5e6" stroke="#9a5682" stroke-width="0.75" rx="9" />
<rect x="330.6" y="578.4" width="53.8" height="37.6" fill="#c6cbe7" stroke="#4b5aa0" stroke-width="0.75" rx="15" />
<rect x="391.2" y="557.7" width="28.8" height="55.4" fill="#d4eef4" stroke="#3a8c98" stroke-width="0.75" rx="12" />
<rect x="364.5" y="563.7" width="19.5" height="11.9" fill="#d9e9f8" stroke="#3f6fa6" stroke-width="0.75" rx="4.5" />
<text x="365.4" y="562.0" font-size="8.3" stroke="#231f20" stroke-width="0.166" textLength="18.8" lengthAdjust="spacingAndGlyphs">CoQ</text>
<ellipse cx="445.9" cy="566.1" rx="11.4" ry="10.9" fill="#f1d7f3" stroke="#a25fb2" stroke-width="0.75"/>
<text x="436.3" y="569.2" font-size="8.2" stroke="#231f20" stroke-width="0.164" textLength="19.4" lengthAdjust="spacingAndGlyphs">Cyt c</text>
<path d="M481,553.6 Q491.6,551.6 502,553.6 Q508.3,554.4 508.3,560 L508.3,578 C508.3,590 519.2,594 519.2,604 Q519.2,613.4 509.5,613.2 Q500,613 494.8,607.6 Q489.6,613 480,613.2 Q467,613.4 467,604 C467,594 475,590 475,578 L475,560 Q475,554.4 481,553.6 Z" fill="#d9d5f4" stroke="#55558a" stroke-width="0.75" />
<path d="M568.5,550.8 L591,550.8 Q597.3,550.8 597.3,557.5 L597.3,577 C597.3,588 604.9,591 604.9,603 Q604.9,617.7 580,617.7 Q555.3,617.7 555.3,603 C555.3,591 562.3,588 562.3,577 L562.3,557.5 Q562.3,550.8 568.5,550.8 Z" fill="#e0f3da" stroke="#4a8a3a" stroke-width="0.75" />
<path d="M304.7,579.5 C309,569 316,564.6 332,564.3 C348,564 361,566.2 373,568.8 C386,571.5 397,573.3 412,573.3 C428,573.3 442,571.2 458,571.1 C468,571.1 478,572 486,580 C493,588 494.8,598 494.8,630.5" fill="none" stroke="#333333" stroke-width="1.15" marker-end="url(#ahB)"/>
<circle cx="300.9" cy="589.5" r="6.3" fill="#f7f0c4" stroke="#8c7c44" stroke-width="0.7" />
<text x="295.7" y="592.4" font-size="8.2" stroke="#231f20" stroke-width="0.164" textLength="11.4" lengthAdjust="spacingAndGlyphs"><tspan>2e</tspan><tspan dy="-3.44" font-size="5.08">−</tspan></text>
<circle cx="357.5" cy="589.5" r="6.3" fill="#f7f0c4" stroke="#8c7c44" stroke-width="0.7" />
<text x="352.3" y="592.4" font-size="8.2" stroke="#231f20" stroke-width="0.164" textLength="11.4" lengthAdjust="spacingAndGlyphs"><tspan>2e</tspan><tspan dy="-3.44" font-size="5.08">−</tspan></text>
<path d="M302.8,616.6 Q306.6,610 305.7,601.0" fill="none" stroke="#333333" stroke-width="0.8" marker-end="url(#ahB)"/>
<path d="M288.3,628.5 Q301,607 314.4,629.8" fill="none" stroke="url(#arcg)" stroke-width="1.1" marker-end="url(#ahB)"/>
<path d="M363.3,591.5 Q371.5,589 373.7,577.2" fill="none" stroke="#333333" stroke-width="0.8" marker-end="url(#ahB)"/>
<path d="M362.8,598.4 Q355,595.5 349.2,601.6" fill="none" stroke="#333333" stroke-width="0.7" marker-end="url(#ahB)"/>
<path d="M350.5,610.5 Q358,615.5 366.2,610.2" fill="none" stroke="#333333" stroke-width="0.7" marker-end="url(#ahB)"/>
<text x="336.0" y="610.4" font-size="8.3" stroke="#231f20" stroke-width="0.166" textLength="47.5" lengthAdjust="spacingAndGlyphs"><tspan>FAD FADH</tspan><tspan dy="1.83" font-size="5.4">2</tspan></text>
<path d="M342.5,624.5 Q359,606.5 375.2,629.6" fill="none" stroke="url(#arcg)" stroke-width="1.1" marker-end="url(#ahB)"/>
<rect x="578.0" y="617.0" width="5.0" height="6.5" fill="#6a9ed2" stroke="none" stroke-width="0.6" />
<path d="M574.6,622.6 L586.4,622.6 L580.5,633.8 Z" fill="#6a9ed2" stroke="none" stroke-width="0.7" />
<path d="M562.6,628.8 Q580,609.5 596.6,629.8" fill="none" stroke="url(#arcg)" stroke-width="1.1" marker-end="url(#ahB)"/>
<rect x="553.4" y="632.2" width="23.7" height="12.4" fill="#e3f3ef" stroke="#2f6d5f" stroke-width="0.75" rx="6.2" />
<text x="565.25" y="641.6" font-size="8.2" text-anchor="middle" stroke="#231f20" stroke-width="0.164" textLength="18.2" lengthAdjust="spacingAndGlyphs">ADP</text>
<rect x="583.4" y="632.2" width="23.6" height="12.4" fill="#2c7b6d" stroke="#2c7b6d" stroke-width="0.75" rx="6.2" />
<text x="595.2" y="641.6" font-size="8.2" text-anchor="middle" fill="#ffffff" stroke="#ffffff" stroke-width="0.164" textLength="16.6" lengthAdjust="spacingAndGlyphs">ATP</text>
<text x="264.8" y="640.0" font-size="8.3" stroke="#231f20" stroke-width="0.166" textLength="25.2" lengthAdjust="spacingAndGlyphs">NADH</text>
<text x="303.7" y="639.7" font-size="8.3" stroke="#231f20" stroke-width="0.166" textLength="21.9" lengthAdjust="spacingAndGlyphs"><tspan>NAD</tspan><tspan dy="-3.49" font-size="5.15">+</tspan></text>
<text x="303.9" y="649.2" font-size="8.3" stroke="#231f20" stroke-width="0.166" textLength="18.5" lengthAdjust="spacingAndGlyphs"><tspan>+</tspan><tspan fill="#4f86cc">2H</tspan><tspan dy="-3.49" font-size="5.15" fill="#4f86cc">+</tspan></text>
<text x="330.0" y="639.7" font-size="8.3" stroke="#231f20" stroke-width="0.166" textLength="85.0" lengthAdjust="spacingAndGlyphs">Succinate Fumarate</text>
<text x="374.4" y="650.4" font-size="8.3" stroke="#231f20" stroke-width="0.166" textLength="21.6" lengthAdjust="spacingAndGlyphs"><tspan>+ </tspan><tspan fill="#4f86cc">2H</tspan><tspan dy="-3.49" font-size="5.15" fill="#4f86cc">+</tspan></text>
<text x="429.5" y="642.5" font-size="8.3" stroke="#231f20" stroke-width="0.166" textLength="57.2" lengthAdjust="spacingAndGlyphs"><tspan>[</tspan><tspan fill="#4f86cc">2H</tspan><tspan dy="-3.49" font-size="5.15" fill="#4f86cc">+</tspan><tspan dy="3.49"> + 1/2O</tspan><tspan dy="1.83" font-size="5.4">2</tspan><tspan dy="-1.83"> +</tspan></text>
<circle cx="495.6" cy="639.2" r="6.9" fill="#f7f0c4" stroke="#8c7c44" stroke-width="0.7" />
<text x="489.8" y="642.3" font-size="8.4" stroke="#231f20" stroke-width="0.168" textLength="11.6" lengthAdjust="spacingAndGlyphs"><tspan>2e</tspan><tspan dy="-3.53" font-size="5.21">−</tspan></text>
<text x="503.6" y="642.5" font-size="8.3" stroke="#231f20" stroke-width="0.166" textLength="41.7" lengthAdjust="spacingAndGlyphs"><tspan>→H</tspan><tspan dy="1.83" font-size="5.4">2</tspan><tspan dy="-1.83">O] × 2</tspan></text>
<text x="296.85" y="663.3" font-size="8.3" text-anchor="middle" stroke="#231f20" stroke-width="0.166" textLength="43.7" lengthAdjust="spacingAndGlyphs">Complex I</text>
<text x="370.0" y="663.3" font-size="8.3" text-anchor="middle" stroke="#231f20" stroke-width="0.166" textLength="46.8" lengthAdjust="spacingAndGlyphs">Complex II</text>
<text x="446.0" y="663.3" font-size="8.3" text-anchor="middle" stroke="#231f20" stroke-width="0.166" textLength="48.6" lengthAdjust="spacingAndGlyphs">Complex III</text>
<text x="516.7" y="663.3" font-size="8.3" text-anchor="middle" stroke="#231f20" stroke-width="0.166" textLength="49.4" lengthAdjust="spacingAndGlyphs">Complex IV</text>
<text x="588.0" y="663.3" font-size="8.3" text-anchor="middle" stroke="#231f20" stroke-width="0.166" textLength="56.0" lengthAdjust="spacingAndGlyphs">ATP synthase</text>
<text x="279.0" y="675.9" font-size="8.3" stroke="#231f20" stroke-width="0.166" font-style="italic" textLength="34.22" lengthAdjust="spacingAndGlyphs">NDUFA1</text>
<text x="279.0" y="688.45" font-size="8.3" stroke="#231f20" stroke-width="0.166" font-style="italic" textLength="34.22" lengthAdjust="spacingAndGlyphs">NDUFA2</text>
<text x="279.0" y="701.0" font-size="8.3" stroke="#231f20" stroke-width="0.166" font-style="italic" textLength="34.22" lengthAdjust="spacingAndGlyphs">NDUFA3</text>
<text x="279.0" y="713.55" font-size="8.3" stroke="#231f20" stroke-width="0.166" font-style="italic" textLength="34.22" lengthAdjust="spacingAndGlyphs">NDUFA4</text>
<text x="357.8" y="675.9" font-size="8.3" stroke="#231f20" stroke-width="0.166" font-style="italic" textLength="24.21" lengthAdjust="spacingAndGlyphs">SDHA</text>
<text x="357.8" y="688.45" font-size="8.3" stroke="#231f20" stroke-width="0.166" font-style="italic" textLength="24.21" lengthAdjust="spacingAndGlyphs">SDHB</text>
<text x="357.8" y="701.0" font-size="8.3" stroke="#231f20" stroke-width="0.166" font-style="italic" textLength="24.69" lengthAdjust="spacingAndGlyphs">SDHC</text>
<text x="357.8" y="713.55" font-size="8.3" stroke="#231f20" stroke-width="0.166" font-style="italic" textLength="24.69" lengthAdjust="spacingAndGlyphs">SDHD</text>
<text x="428.4" y="675.9" font-size="8.3" stroke="#231f20" stroke-width="0.166" font-style="italic" textLength="36.8" lengthAdjust="spacingAndGlyphs">UQCRC1</text>
<text x="428.4" y="688.45" font-size="8.3" stroke="#231f20" stroke-width="0.166" font-style="italic" textLength="36.8" lengthAdjust="spacingAndGlyphs">UQCRC2</text>
<text x="428.4" y="701.0" font-size="8.3" stroke="#231f20" stroke-width="0.166" font-style="italic" textLength="31.47" lengthAdjust="spacingAndGlyphs">UQCRB</text>
<text x="503.9" y="675.9" font-size="8.3" stroke="#231f20" stroke-width="0.166" font-style="italic" textLength="23.73" lengthAdjust="spacingAndGlyphs">COX4</text>
<text x="567.6" y="675.9" font-size="8.3" stroke="#231f20" stroke-width="0.166" font-style="italic" textLength="39.55" lengthAdjust="spacingAndGlyphs">ATP5MC1</text>
<text x="567.6" y="688.45" font-size="8.3" stroke="#231f20" stroke-width="0.166" font-style="italic" textLength="31.32" lengthAdjust="spacingAndGlyphs">ATP5F1</text>
<text x="0.0" y="740.0" font-size="10.8" fill="#000" font-weight="bold" textLength="3.66" lengthAdjust="spacingAndGlyphs" stroke="#000" stroke-width="0.35">j</text>
<text x="54.09" y="776.6" font-size="7.7" stroke="#231f20" stroke-width="0.216" font-style="italic" textLength="35.07" lengthAdjust="spacingAndGlyphs" transform="rotate(-90 54.09 776.6)">NDUFA1</text>
<line x1="51.19" y1="778.8" x2="51.19" y2="784.2" stroke="#888" stroke-width="0.6" />
<text x="69.07" y="776.6" font-size="7.7" stroke="#231f20" stroke-width="0.216" font-style="italic" textLength="35.07" lengthAdjust="spacingAndGlyphs" transform="rotate(-90 69.07 776.6)">NDUFA2</text>
<line x1="66.17" y1="778.8" x2="66.17" y2="784.2" stroke="#888" stroke-width="0.6" />
<text x="84.05" y="776.6" font-size="7.7" stroke="#231f20" stroke-width="0.216" font-style="italic" textLength="35.07" lengthAdjust="spacingAndGlyphs" transform="rotate(-90 84.05 776.6)">NDUFA3</text>
<line x1="81.15" y1="778.8" x2="81.15" y2="784.2" stroke="#888" stroke-width="0.6" />
<text x="99.03" y="776.6" font-size="7.7" stroke="#231f20" stroke-width="0.216" font-style="italic" textLength="35.07" lengthAdjust="spacingAndGlyphs" transform="rotate(-90 99.03 776.6)">NDUFA4</text>
<line x1="96.13" y1="778.8" x2="96.13" y2="784.2" stroke="#888" stroke-width="0.6" />
<text x="114.01" y="776.6" font-size="7.7" stroke="#231f20" stroke-width="0.216" font-style="italic" textLength="24.82" lengthAdjust="spacingAndGlyphs" transform="rotate(-90 114.01 776.6)">SDHA</text>
<line x1="111.11" y1="778.8" x2="111.11" y2="784.2" stroke="#888" stroke-width="0.6" />
<text x="128.99" y="776.6" font-size="7.7" stroke="#231f20" stroke-width="0.216" font-style="italic" textLength="24.82" lengthAdjust="spacingAndGlyphs" transform="rotate(-90 128.99 776.6)">SDHB</text>
<line x1="126.09" y1="778.8" x2="126.09" y2="784.2" stroke="#888" stroke-width="0.6" />
<text x="143.97" y="776.6" font-size="7.7" stroke="#231f20" stroke-width="0.216" font-style="italic" textLength="25.31" lengthAdjust="spacingAndGlyphs" transform="rotate(-90 143.97 776.6)">SDHC</text>
<line x1="141.07" y1="778.8" x2="141.07" y2="784.2" stroke="#888" stroke-width="0.6" />
<text x="158.95" y="776.6" font-size="7.7" stroke="#231f20" stroke-width="0.216" font-style="italic" textLength="25.31" lengthAdjust="spacingAndGlyphs" transform="rotate(-90 158.95 776.6)">SDHD</text>
<line x1="156.05" y1="778.8" x2="156.05" y2="784.2" stroke="#888" stroke-width="0.6" />
<text x="173.93" y="776.6" font-size="7.7" stroke="#231f20" stroke-width="0.216" font-style="italic" textLength="37.72" lengthAdjust="spacingAndGlyphs" transform="rotate(-90 173.93 776.6)">UQCRC1</text>
<line x1="171.03" y1="778.8" x2="171.03" y2="784.2" stroke="#888" stroke-width="0.6" />
<text x="188.91" y="776.6" font-size="7.7" stroke="#231f20" stroke-width="0.216" font-style="italic" textLength="37.72" lengthAdjust="spacingAndGlyphs" transform="rotate(-90 188.91 776.6)">UQCRC2</text>
<line x1="186.01" y1="778.8" x2="186.01" y2="784.2" stroke="#888" stroke-width="0.6" />
<text x="203.89" y="776.6" font-size="7.7" stroke="#231f20" stroke-width="0.216" font-style="italic" textLength="32.26" lengthAdjust="spacingAndGlyphs" transform="rotate(-90 203.89 776.6)">UQCRB</text>
<line x1="200.99" y1="778.8" x2="200.99" y2="784.2" stroke="#888" stroke-width="0.6" />
<text x="218.87" y="776.6" font-size="7.7" stroke="#231f20" stroke-width="0.216" font-style="italic" textLength="24.32" lengthAdjust="spacingAndGlyphs" transform="rotate(-90 218.87 776.6)">COX4</text>
<line x1="215.97" y1="778.8" x2="215.97" y2="784.2" stroke="#888" stroke-width="0.6" />
<text x="233.85" y="776.6" font-size="7.7" stroke="#231f20" stroke-width="0.216" font-style="italic" textLength="40.53" lengthAdjust="spacingAndGlyphs" transform="rotate(-90 233.85 776.6)">ATP5MC1</text>
<line x1="230.95" y1="778.8" x2="230.95" y2="784.2" stroke="#888" stroke-width="0.6" />
<text x="248.83" y="776.6" font-size="7.7" stroke="#231f20" stroke-width="0.216" font-style="italic" textLength="32.1" lengthAdjust="spacingAndGlyphs" transform="rotate(-90 248.83 776.6)">ATP5F1</text>
<line x1="245.93" y1="778.8" x2="245.93" y2="784.2" stroke="#888" stroke-width="0.6" />
<rect x="43.3" y="784.2" width="58.6" height="7.6" fill="#595959" stroke="none" stroke-width="0.6" />
<rect x="101.9" y="784.2" width="57.5" height="7.6" fill="#1f4e79" stroke="none" stroke-width="0.6" />
<rect x="159.4" y="784.2" width="46.9" height="7.6" fill="#d9d9d9" stroke="none" stroke-width="0.6" />
<rect x="206.3" y="784.2" width="20.3" height="7.6" fill="#b4c7e7" stroke="none" stroke-width="0.6" />
<rect x="226.6" y="784.2" width="26.4" height="7.6" fill="#5b9bd5" stroke="none" stroke-width="0.6" />
<rect x="43.3" y="791.8" width="209.7" height="68.0" fill="#addfa8" stroke="none" stroke-width="0.6" />
<rect x="43.3" y="823.4" width="14.2" height="36.4" fill="#d4edd0" stroke="none" stroke-width="0.6" shape-rendering="crispEdges"/>
<rect x="57.5" y="823.4" width="14.9" height="36.4" fill="#d4edd0" stroke="none" stroke-width="0.6" shape-rendering="crispEdges"/>
<rect x="72.4" y="823.4" width="14.9" height="36.4" fill="#c8e8c3" stroke="none" stroke-width="0.6" shape-rendering="crispEdges"/>
<rect x="87.3" y="823.4" width="14.9" height="36.4" fill="#ffffff" stroke="none" stroke-width="0.6" shape-rendering="crispEdges"/>
<rect x="102.2" y="823.4" width="14.9" height="36.4" fill="#b0dfab" stroke="none" stroke-width="0.6" shape-rendering="crispEdges"/>
<rect x="117.1" y="823.4" width="14.9" height="36.4" fill="#b0dfab" stroke="none" stroke-width="0.6" shape-rendering="crispEdges"/>
<rect x="132.0" y="823.4" width="14.9" height="36.4" fill="#ffffff" stroke="none" stroke-width="0.6" shape-rendering="crispEdges"/>
<rect x="146.9" y="823.4" width="14.9" height="36.4" fill="#c6e7c1" stroke="none" stroke-width="0.6" shape-rendering="crispEdges"/>
<rect x="161.8" y="823.4" width="14.9" height="36.4" fill="#c9e9c4" stroke="none" stroke-width="0.6" shape-rendering="crispEdges"/>
<rect x="176.7" y="823.4" width="14.9" height="36.4" fill="#b0dfaa" stroke="none" stroke-width="0.6" shape-rendering="crispEdges"/>
<rect x="191.6" y="823.4" width="14.9" height="36.4" fill="#c6e7c1" stroke="none" stroke-width="0.6" shape-rendering="crispEdges"/>
<rect x="206.5" y="823.4" width="14.9" height="36.4" fill="#bce3b6" stroke="none" stroke-width="0.6" shape-rendering="crispEdges"/>
<rect x="221.4" y="823.4" width="14.9" height="36.4" fill="#d0ebcb" stroke="none" stroke-width="0.6" shape-rendering="crispEdges"/>
<rect x="236.3" y="823.4" width="16.7" height="36.4" fill="#b0dfaa" stroke="none" stroke-width="0.6" shape-rendering="crispEdges"/>
<path d="M43.3,791.8 V859.8 H253.0 V791.8" fill="none" stroke="#5e7f5b" stroke-width="0.8" />
<line x1="43.3" y1="784.2" x2="43.3" y2="859.8" stroke="#444" stroke-width="0.8" />
<line x1="37.8" y1="807.2" x2="43.3" y2="807.2" stroke="#444" stroke-width="0.7" />
<line x1="37.8" y1="842.5" x2="43.3" y2="842.5" stroke="#444" stroke-width="0.7" />
<text x="33.2" y="810.0" font-size="8.2" text-anchor="end" stroke="#231f20" stroke-width="0.164" textLength="11.48" lengthAdjust="spacingAndGlyphs">NT</text>
<text x="33.2" y="845.4" font-size="8.2" text-anchor="end" stroke="#231f20" stroke-width="0.164" textLength="17.23" lengthAdjust="spacingAndGlyphs">VSV</text>
<rect x="267.4" y="785.3" width="7.6" height="7.6" fill="#595959" stroke="none" stroke-width="0.6" />
<text x="279.6" y="792.0" font-size="8.2" stroke="#231f20" stroke-width="0.164" textLength="43.4" lengthAdjust="spacingAndGlyphs">Complex I</text>
<rect x="267.4" y="799.0" width="7.6" height="7.6" fill="#1f4e79" stroke="none" stroke-width="0.6" />
<text x="279.6" y="805.7" font-size="8.2" stroke="#231f20" stroke-width="0.164" textLength="46.0" lengthAdjust="spacingAndGlyphs">Complex II</text>
<rect x="267.4" y="812.6" width="7.6" height="7.6" fill="#d9d9d9" stroke="none" stroke-width="0.6" />
<text x="279.6" y="819.3" font-size="8.2" stroke="#231f20" stroke-width="0.164" textLength="48.6" lengthAdjust="spacingAndGlyphs">Complex III</text>
<rect x="267.4" y="826.6" width="7.6" height="7.6" fill="#b4c7e7" stroke="none" stroke-width="0.6" />
<text x="279.6" y="833.3" font-size="8.2" stroke="#231f20" stroke-width="0.164" textLength="48.6" lengthAdjust="spacingAndGlyphs">Complex IV</text>
<rect x="267.4" y="840.8" width="7.6" height="7.6" fill="#5b9bd5" stroke="none" stroke-width="0.6" />
<text x="279.6" y="847.5" font-size="8.2" stroke="#231f20" stroke-width="0.164" textLength="56.4" lengthAdjust="spacingAndGlyphs">ATP synthase</text>
<defs><linearGradient id="cbar" x1="0" y1="0" x2="1" y2="0"><stop offset="0" stop-color="#fbfdfa"/><stop offset="1" stop-color="#a9dba3"/></linearGradient></defs>
<rect x="101.1" y="862.8" width="151.9" height="9.9" fill="url(#cbar)" stroke="#8a8a8a" stroke-width="0.7" />
<line x1="175.7" y1="868.8" x2="175.7" y2="872.7" stroke="#666" stroke-width="0.6" />
<line x1="250.4" y1="868.8" x2="250.4" y2="872.7" stroke="#666" stroke-width="0.6" />
<text x="99.7" y="882.6" font-size="7.5" text-anchor="middle" fill="#222" stroke="#222" stroke-width="0.083" textLength="16.29" lengthAdjust="spacingAndGlyphs">−1.0</text>
<text x="175.7" y="882.6" font-size="7.5" text-anchor="middle" fill="#222" stroke="#222" stroke-width="0.083" textLength="16.29" lengthAdjust="spacingAndGlyphs">−0.5</text>
<text x="250.6" y="882.6" font-size="7.5" text-anchor="middle" fill="#222" stroke="#222" stroke-width="0.083" textLength="4.59" lengthAdjust="spacingAndGlyphs">0</text>
<text x="12.8" y="871.9" font-size="8.2" stroke="#231f20" stroke-width="0.164" textLength="71.2" lengthAdjust="spacingAndGlyphs"><tspan>log</tspan><tspan dy="1.8" font-size="5.33">2</tspan><tspan dy="-1.8">(fold change</tspan></text>
<text x="18.5" y="882.7" font-size="8.2" stroke="#231f20" stroke-width="0.164" textLength="59.8" lengthAdjust="spacingAndGlyphs">relative to NT)</text>
</svg>
</body></html>
